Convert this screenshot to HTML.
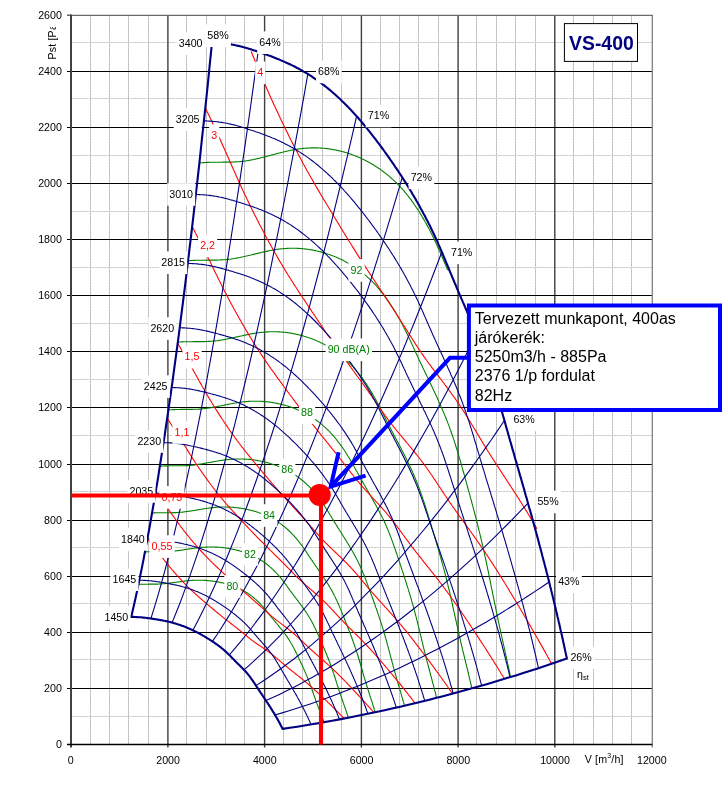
<!DOCTYPE html>
<html><head><meta charset="utf-8"><title>VS-400</title>
<style>html,body{margin:0;padding:0;background:#fff;overflow:hidden}svg{display:block;will-change:transform}svg text{font-family:"Liberation Sans",sans-serif}</style></head>
<body><svg width="727" height="795" viewBox="0 0 727 795">
<rect width="727" height="795" fill="#fff"/>
<path d="M90.5 15.2V744.5M109.5 15.2V744.5M128.5 15.2V744.5M148.5 15.2V744.5M186.5 15.2V744.5M206.5 15.2V744.5M225.5 15.2V744.5M244.5 15.2V744.5M283.5 15.2V744.5M302.5 15.2V744.5M322.5 15.2V744.5M341.5 15.2V744.5M380.5 15.2V744.5M399.5 15.2V744.5M418.5 15.2V744.5M438.5 15.2V744.5M476.5 15.2V744.5M496.5 15.2V744.5M515.5 15.2V744.5M535.5 15.2V744.5M573.5 15.2V744.5M593.5 15.2V744.5M612.5 15.2V744.5M631.5 15.2V744.5" stroke="#d6d6d6" stroke-width="1" fill="none"/>
<path d="M90.5 15.2V744.5M109.5 15.2V744.5M128.5 15.2V744.5M148.5 15.2V744.5M186.5 15.2V744.5M206.5 15.2V744.5M225.5 15.2V744.5M244.5 15.2V744.5M283.5 15.2V744.5M302.5 15.2V744.5M322.5 15.2V744.5M341.5 15.2V744.5M380.5 15.2V744.5M399.5 15.2V744.5M418.5 15.2V744.5M438.5 15.2V744.5M476.5 15.2V744.5M496.5 15.2V744.5M515.5 15.2V744.5M535.5 15.2V744.5M573.5 15.2V744.5M593.5 15.2V744.5M612.5 15.2V744.5M631.5 15.2V744.5" stroke="#bcbcbc" stroke-width="1" stroke-dasharray="2 1" fill="none"/>
<path d="M71 716.5H652M71 659.5H652M71 603.5H652M71 547.5H652M71 491.5H652M71 435.5H652M71 379.5H652M71 323.5H652M71 267.5H652M71 211.5H652M71 155.5H652M71 98.5H652M71 42.5H652" stroke="#e2e2e2" stroke-width="1" fill="none"/>
<path d="M71 716.5H652M71 659.5H652M71 603.5H652M71 547.5H652M71 491.5H652M71 435.5H652M71 379.5H652M71 323.5H652M71 267.5H652M71 211.5H652M71 155.5H652M71 98.5H652M71 42.5H652" stroke="#cdcdcd" stroke-width="1" stroke-dasharray="2 1" fill="none"/>
<path d="M167.9 15.2V747.5M264.6 15.2V747.5M361.4 15.2V747.5M458.1 15.2V747.5M554.8 15.2V747.5" stroke="#404040" stroke-width="1.4" fill="none"/>
<path d="M67 688.5H652M67 632.5H652M67 576.5H652M67 520.5H652M67 464.5H652M67 407.5H652M67 351.5H652M67 295.5H652M67 239.5H652M67 183.5H652M67 127.5H652M67 71.5H652" stroke="#000" stroke-width="1.2" fill="none"/>
<path d="M652.3 15.2V747.5" stroke="#7c7c7c" stroke-width="1.25" fill="none"/>
<path d="M71 15.3H652.9" stroke="#6a6a6a" stroke-width="1.3" fill="none"/>
<path d="M67 15.2H71" stroke="#404040" stroke-width="1.2" fill="none"/>
<path d="M71 14.6V747.5" stroke="#404040" stroke-width="2" fill="none"/>
<path d="M67 744.5H652.3" stroke="#000" stroke-width="1.4" fill="none"/>
<text x="61.9" y="748" font-size="10.67" text-anchor="end" fill="#000">0</text>
<text x="61.9" y="691.9" font-size="10.67" text-anchor="end" fill="#000">200</text>
<text x="61.9" y="635.8" font-size="10.67" text-anchor="end" fill="#000">400</text>
<text x="61.9" y="579.7" font-size="10.67" text-anchor="end" fill="#000">600</text>
<text x="61.9" y="523.6" font-size="10.67" text-anchor="end" fill="#000">800</text>
<text x="61.9" y="467.5" font-size="10.67" text-anchor="end" fill="#000">1000</text>
<text x="61.9" y="411.4" font-size="10.67" text-anchor="end" fill="#000">1200</text>
<text x="61.9" y="355.3" font-size="10.67" text-anchor="end" fill="#000">1400</text>
<text x="61.9" y="299.2" font-size="10.67" text-anchor="end" fill="#000">1600</text>
<text x="61.9" y="243.1" font-size="10.67" text-anchor="end" fill="#000">1800</text>
<text x="61.9" y="187" font-size="10.67" text-anchor="end" fill="#000">2000</text>
<text x="61.9" y="130.9" font-size="10.67" text-anchor="end" fill="#000">2200</text>
<text x="61.9" y="74.8" font-size="10.67" text-anchor="end" fill="#000">2400</text>
<text x="61.9" y="18.7" font-size="10.67" text-anchor="end" fill="#000">2600</text>
<text x="70.7" y="763.7" font-size="10.67" text-anchor="middle" fill="#000">0</text>
<text x="168.1" y="763.7" font-size="10.67" text-anchor="middle" fill="#000">2000</text>
<text x="264.8" y="763.7" font-size="10.67" text-anchor="middle" fill="#000">4000</text>
<text x="361.6" y="763.7" font-size="10.67" text-anchor="middle" fill="#000">6000</text>
<text x="458.3" y="763.7" font-size="10.67" text-anchor="middle" fill="#000">8000</text>
<text x="555" y="763.7" font-size="10.67" text-anchor="middle" fill="#000">10000</text>
<text x="651.8" y="763.7" font-size="10.67" text-anchor="middle" fill="#000">12000</text>
<path d="M138.5 584.4 L139.1 584.3 L139.7 584.3 L140.3 584.3 L140.9 584.3 L141.6 584.2 L142.2 584.2 L142.8 584.2 L143.4 584.2 L144 584.2 L144.6 584.2 L145.2 584.2 L145.8 584.2 L146.4 584.2 L147 584.2 L147.6 584.2 L148.2 584.2 L148.8 584.1 L149.4 584.1 L150 584.1 L150.6 584.1 L151.2 584.1 L151.8 584.1 L152.4 584.1 L153 584.1 L153.6 584.1 L154.2 584.1 L154.8 584.1 L155.4 584.1 L156 584.1 L156.6 584.1 L157.2 584.1 L157.8 584.1 L158.4 584 L159 584 L159.6 584 L160.2 584 L160.8 583.9 L161.4 583.9 L162 583.9 L162.6 583.8 L163.3 583.8 L163.9 583.7 L164.5 583.7 L165.1 583.6 L165.7 583.5 L166.4 583.5 L167 583.4 L167.6 583.3 L168.2 583.3 L168.9 583.2 L169.5 583.1 L170.1 583 L170.8 582.9 L171.4 582.9 L172 582.8 L172.7 582.7 L173.3 582.6 L173.9 582.5 L174.6 582.4 L175.2 582.3 L175.8 582.3 L176.5 582.2 L177.1 582.1 L177.8 582 L178.4 581.9 L179 581.8 L179.6 581.7 L180.3 581.6 L180.9 581.6 L181.5 581.5 L182.2 581.4 L182.8 581.3 L183.4 581.2 L184 581.2 L184.6 581.1 L185.3 581 L185.9 580.9 L186.5 580.9 L187.1 580.8 L187.7 580.8 L188.3 580.7 L188.9 580.6 L189.5 580.6 L190.1 580.5 L190.7 580.5 L191.3 580.5 L191.9 580.4 L192.5 580.4 L193.1 580.4 L193.6 580.3 L194.2 580.3 L194.8 580.3 L195.4 580.3 L196 580.2 L196.5 580.2 L197.1 580.2 L197.7 580.2 L198.2 580.2 L198.8 580.2 L199.4 580.2 L199.9 580.2 L200.5 580.2 L201 580.2 L201.6 580.2 L202.1 580.3 L202.7 580.3 L203.2 580.3 L203.8 580.3 L204.3 580.4 L204.9 580.4 L205.4 580.4 L205.9 580.4 L206.5 580.5 L207 580.5 L207.5 580.6 L208.1 580.6 L208.6 580.7 L209.1 580.7 L209.6 580.8 L210.2 580.8 L210.7 580.9 L211.2 580.9 L211.7 581 L212.2 581.1 L212.7 581.1 L213.2 581.2 L213.7 581.3 L214.3 581.3 L214.8 581.4 L215.3 581.5 L215.8 581.6 L216.3 581.7 L216.8 581.7 L217.3 581.8 L217.7 581.9 L218.2 582 L218.7 582.1 L219.2 582.2 L219.7 582.3 L220.2 582.4 L220.7 582.5 L221.2 582.6 L221.6 582.7 L222.1 582.8 L222.6 582.9 L223.1 583 L223.6 583.2 L224 583.3 L224.5 583.4 L225 583.5 L225.4 583.6 L225.9 583.8 L226.4 583.9 L226.8 584 L227.3 584.1 L227.8 584.3 L228.2 584.4 L228.7 584.6 L229.1 584.7 L229.6 584.8 L230 585 L230.5 585.1 L230.9 585.3 L231.4 585.4 L231.8 585.6 L232.3 585.7 L232.7 585.9 L233.2 586.1 L233.6 586.2 L234 586.4 L234.5 586.5 L234.9 586.7 L235.3 586.9 L235.8 587.1 L236.2 587.2 L236.6 587.4 L237 587.6 L237.5 587.8 L237.9 587.9 L238.3 588.1 L238.7 588.3 L239.1 588.5 L239.6 588.7 L240 588.9 L240.4 589.1 L240.8 589.3 L241.2 589.5 L241.6 589.7 L242 589.9 L242.4 590.1 L242.8 590.3 L243.2 590.6 L243.6 590.8 L244 591 L244.4 591.2 L244.8 591.4 L245.2 591.7 L245.5 591.9 L245.9 592.1 L246.3 592.4 L246.7 592.6 L247 592.8 L247.4 593.1 L247.8 593.3 L248.2 593.6 L248.5 593.8 L248.9 594.1 L249.2 594.3 L249.6 594.6 L250 594.8 L250.3 595.1 L250.7 595.3 L251 595.6 L251.4 595.9 L251.7 596.1 L252.1 596.4 L252.4 596.7 L252.7 596.9 L253.1 597.2 L253.4 597.5 L253.7 597.8 L254.1 598 L254.4 598.3 L254.7 598.6 L255.1 598.9 L255.4 599.1 L255.7 599.4 L256 599.7 L256.3 600 L256.6 600.3 L257 600.6 L257.3 600.9 L257.6 601.2 L257.9 601.5 L258.2 601.8 L258.5 602 L258.8 602.3 L259.1 602.6 L259.4 602.9 L259.7 603.2 L260 603.5 L260.3 603.8 L260.5 604.1 L260.8 604.4 L261.1 604.8 L261.4 605.1 L261.7 605.4 L262 605.7 L262.2 606 L262.5 606.3 L262.8 606.6 L263.1 606.9 L263.3 607.2 L263.6 607.5 L263.9 607.8 L264.1 608.2 L264.4 608.5 L264.7 608.8 L264.9 609.1 L265.2 609.4 L265.4 609.7 L265.7 610 L266 610.4 L266.2 610.7 L266.5 611 L266.7 611.3 L267 611.6 L267.2 611.9 L267.5 612.2 L267.7 612.6 L268 612.9 L268.3 613.2 L268.5 613.5 L268.8 613.8 L269 614.1 L269.3 614.5 L269.5 614.8 L269.8 615.1 L270 615.4 L270.3 615.7 L270.5 616.1 L270.8 616.4 L271.1 616.7 L271.3 617 L271.6 617.3 L271.8 617.6 L272.1 618 L272.3 618.3 L272.6 618.6 L272.9 618.9 L273.1 619.2 L273.4 619.5 L273.6 619.8 L273.9 620.2 L274.2 620.5 L274.4 620.8 L274.7 621.1 L275 621.4 L275.2 621.7 L275.5 622.1 L275.7 622.4 L276 622.7 L276.3 623 L276.5 623.3 L276.8 623.6 L277.1 624 L277.3 624.3 L277.6 624.6 L277.8 624.9 L278.1 625.2 L278.4 625.5 L278.6 625.9 L278.9 626.2 L279.1 626.5 L279.4 626.8 L279.7 627.1 L279.9 627.4 L280.2 627.8 L280.4 628.1 L280.7 628.4 L281 628.7 L281.2 629 L281.5 629.3 L281.7 629.7 L282 630 L282.2 630.3 L282.5 630.6 L282.7 630.9 L283 631.3 L283.2 631.6 L283.5 631.9 L283.7 632.2 L284 632.5 L284.2 632.9 L284.5 633.2 L284.7 633.5 L284.9 633.8 L285.2 634.2 L285.4 634.5 L285.7 634.8 L285.9 635.1 L286.1 635.4 L286.4 635.8 L286.6 636.1 L286.8 636.4 L287 636.7 L287.3 637.1 L287.5 637.4 L287.7 637.7 L287.9 638 L288.2 638.4 L288.4 638.7 L288.6 639 L288.8 639.4 L289 639.7 L289.2 640 L289.4 640.3 L289.6 640.7 L289.8 641 L290 641.3 L290.2 641.7 L290.4 642 L290.6 642.3 L290.8 642.7 L291 643 L291.2 643.3 L291.4 643.7 L291.6 644 L291.8 644.3 L292 644.7 L292.2 645 L292.3 645.3 L292.5 645.7 L292.7 646 L292.9 646.3 L293.1 646.7 L293.3 647 L293.4 647.4 L293.6 647.7 L293.8 648 L294 648.4 L294.1 648.7 L294.3 649 L294.5 649.4 L294.7 649.7 L294.8 650.1 L295 650.4 L295.2 650.7 L295.3 651.1 L295.5 651.4 L295.7 651.8 L295.8 652.1 L296 652.4 L296.2 652.8 L296.3 653.1 L296.5 653.5 L296.7 653.8 L296.8 654.1 L297 654.5 L297.2 654.8 L297.3 655.2 L297.5 655.5 L297.7 655.8 L297.8 656.2 L298 656.5 L298.2 656.9 L298.3 657.2 L298.5 657.6 L298.6 657.9 L298.8 658.2 L299 658.6 L299.1 658.9 L299.3 659.3 L299.5 659.6 L299.6 660 L299.8 660.3 L300 660.6 L300.1 661 L300.3 661.3 L300.4 661.7 L300.6 662 L300.8 662.4 L300.9 662.7 L301.1 663 L301.2 663.4 L301.4 663.7 L301.6 664.1 L301.7 664.4 L301.9 664.8 L302.1 665.1 L302.2 665.4 L302.4 665.8 L302.5 666.1 L302.7 666.5 L302.8 666.8 L303 667.2 L303.2 667.5 L303.3 667.9 L303.5 668.2 L303.6 668.5 L303.8 668.9 L303.9 669.2 L304.1 669.6 L304.3 669.9 L304.4 670.3 L304.6 670.6 L304.7 671 L304.9 671.3 L305 671.7 L305.2 672 L305.3 672.4 L305.5 672.7 L305.6 673 L305.8 673.4 L305.9 673.7 L306.1 674.1 L306.2 674.4 L306.4 674.8 L306.5 675.1 L306.6 675.5 L306.8 675.8 L306.9 676.2 L307.1 676.5 L307.2 676.9 L307.4 677.2 L307.5 677.6 L307.6 677.9 L307.8 678.3 L307.9 678.6 L308.1 678.9 L308.2 679.3 L308.3 679.6 L308.5 680 L308.6 680.3 L308.7 680.7 L308.9 681 L309 681.4 L309.2 681.7 L309.3 682.1 L309.4 682.4 L309.5 682.8 L309.7 683.1 L309.8 683.5 L309.9 683.8 L310.1 684.2 L310.2 684.5 L310.3 684.9 L310.4 685.2 L310.6 685.6 L310.7 685.9 L310.8 686.3 L310.9 686.6 L311.1 687 L311.2 687.3 L311.3 687.6 L311.4 688 L311.6 688.3 L311.7 688.7 L311.8 689 L311.9 689.4 L312.1 689.7 L312.2 690.1 L312.3 690.4 L312.4 690.8 L312.5 691.1 L312.7 691.4 L312.8 691.8 L312.9 692.1 L313 692.5 L313.1 692.8 L313.3 693.2 L313.4 693.5 L313.5 693.8 L313.6 694.2 L313.7 694.5 L313.9 694.9 L314 695.2 L314.1 695.6 L314.2 695.9 L314.3 696.2 L314.4 696.6 L314.6 696.9 L314.7 697.3 L314.8 697.6 L314.9 697.9 L315 698.3 L315.2 698.6 L315.3 698.9 L315.4 699.3 L315.5 699.6 L315.6 700 L315.8 700.3 L315.9 700.6 L316 701 L316.1 701.3 L316.2 701.6 L316.4 702 L316.5 702.3 L316.6 702.6 L316.7 703 L316.9 703.3 L317 703.6 L317.1 704 L317.2 704.3 L317.4 704.6 L317.5 704.9 L317.6 705.3 L317.7 705.6 L317.8 705.9 L318 706.3 L318.1 706.6 L318.2 706.9 L318.3 707.2 L318.5 707.6 L318.6 707.9 L318.7 708.2 L318.9 708.6 L319 708.9 L319.1 709.2 L319.2 709.5 L319.4 709.9 L319.5 710.2 L319.6 710.5 L319.7 710.8 L319.9 711.2 L320 711.5 L320.1 711.8 L320.2 712.1 L320.4 712.5 L320.5 712.8 L320.6 713.1 L320.7 713.5 L320.9 713.8 L321 714.1 L321.1 714.4 L321.2 714.7 L321.4 715.1 L321.5 715.4 L321.6 715.7 L321.7 716 L321.9 716.4 L322 716.7 L322.1 717 L322.2 717.3 L322.3 717.7 L322.5 718 L322.6 718.3 L322.7 718.6 L322.8 719 L323 719.3 L323.1 719.6 L323.2 719.9 L323.3 720.3 L323.4 720.6 L323.6 720.9 L323.7 721.2 L323.8 721.5 L323.9 721.9 L324 722.2M145 552 L145.6 551.9 L146.3 551.9 L147 551.9 L147.7 551.8 L148.4 551.8 L149 551.8 L149.7 551.8 L150.4 551.8 L151 551.8 L151.7 551.7 L152.4 551.7 L153 551.7 L153.7 551.7 L154.4 551.7 L155 551.7 L155.7 551.7 L156.3 551.7 L157 551.7 L157.6 551.7 L158.3 551.7 L159 551.7 L159.6 551.7 L160.3 551.7 L160.9 551.7 L161.6 551.7 L162.2 551.7 L162.9 551.7 L163.5 551.7 L164.2 551.7 L164.8 551.6 L165.5 551.6 L166.1 551.6 L166.8 551.6 L167.5 551.6 L168.1 551.5 L168.8 551.5 L169.4 551.5 L170.1 551.4 L170.8 551.4 L171.5 551.3 L172.1 551.3 L172.8 551.2 L173.5 551.1 L174.2 551 L174.9 551 L175.5 550.9 L176.2 550.8 L176.9 550.7 L177.6 550.6 L178.3 550.6 L179 550.5 L179.7 550.4 L180.4 550.3 L181.1 550.2 L181.8 550.1 L182.5 550 L183.2 549.9 L183.9 549.8 L184.6 549.6 L185.2 549.5 L185.9 549.4 L186.6 549.3 L187.3 549.2 L188 549.1 L188.7 549 L189.4 548.9 L190.1 548.8 L190.8 548.7 L191.5 548.6 L192.2 548.5 L192.9 548.4 L193.5 548.3 L194.2 548.2 L194.9 548.1 L195.6 548 L196.3 547.9 L196.9 547.9 L197.6 547.8 L198.3 547.7 L198.9 547.6 L199.6 547.6 L200.3 547.5 L200.9 547.4 L201.6 547.4 L202.2 547.3 L202.9 547.3 L203.5 547.2 L204.2 547.2 L204.8 547.2 L205.5 547.1 L206.1 547.1 L206.7 547.1 L207.4 547 L208 547 L208.6 547 L209.2 547 L209.9 547 L210.5 547 L211.1 547 L211.7 547 L212.3 547 L212.9 547 L213.6 547 L214.2 547 L214.8 547 L215.4 547.1 L216 547.1 L216.6 547.1 L217.2 547.1 L217.7 547.2 L218.3 547.2 L218.9 547.3 L219.5 547.3 L220.1 547.3 L220.7 547.4 L221.3 547.5 L221.8 547.5 L222.4 547.6 L223 547.6 L223.6 547.7 L224.1 547.8 L224.7 547.8 L225.3 547.9 L225.8 548 L226.4 548.1 L226.9 548.2 L227.5 548.2 L228.1 548.3 L228.6 548.4 L229.2 548.5 L229.7 548.6 L230.3 548.7 L230.8 548.8 L231.3 548.9 L231.9 549 L232.4 549.1 L233 549.2 L233.5 549.4 L234 549.5 L234.6 549.6 L235.1 549.7 L235.6 549.8 L236.2 550 L236.7 550.1 L237.2 550.2 L237.7 550.4 L238.3 550.5 L238.8 550.6 L239.3 550.8 L239.8 550.9 L240.3 551.1 L240.8 551.2 L241.3 551.4 L241.8 551.5 L242.4 551.7 L242.9 551.9 L243.4 552 L243.9 552.2 L244.4 552.4 L244.9 552.5 L245.4 552.7 L245.8 552.9 L246.3 553.1 L246.8 553.2 L247.3 553.4 L247.8 553.6 L248.3 553.8 L248.8 554 L249.3 554.2 L249.7 554.4 L250.2 554.6 L250.7 554.8 L251.2 555 L251.6 555.2 L252.1 555.4 L252.6 555.6 L253 555.8 L253.5 556.1 L254 556.3 L254.4 556.5 L254.9 556.7 L255.4 557 L255.8 557.2 L256.3 557.4 L256.7 557.7 L257.2 557.9 L257.6 558.1 L258 558.4 L258.5 558.6 L258.9 558.9 L259.4 559.1 L259.8 559.4 L260.2 559.7 L260.7 559.9 L261.1 560.2 L261.5 560.5 L261.9 560.7 L262.4 561 L262.8 561.3 L263.2 561.6 L263.6 561.9 L264 562.2 L264.4 562.4 L264.8 562.7 L265.2 563 L265.6 563.3 L266 563.6 L266.4 563.9 L266.8 564.2 L267.2 564.5 L267.6 564.8 L268 565.2 L268.4 565.5 L268.7 565.8 L269.1 566.1 L269.5 566.4 L269.9 566.8 L270.2 567.1 L270.6 567.4 L271 567.7 L271.4 568.1 L271.7 568.4 L272.1 568.7 L272.4 569.1 L272.8 569.4 L273.1 569.7 L273.5 570.1 L273.8 570.4 L274.2 570.8 L274.5 571.1 L274.9 571.5 L275.2 571.8 L275.6 572.2 L275.9 572.5 L276.2 572.9 L276.6 573.2 L276.9 573.6 L277.2 573.9 L277.5 574.3 L277.9 574.7 L278.2 575 L278.5 575.4 L278.8 575.7 L279.1 576.1 L279.4 576.5 L279.8 576.8 L280.1 577.2 L280.4 577.6 L280.7 578 L281 578.3 L281.3 578.7 L281.6 579.1 L281.9 579.4 L282.2 579.8 L282.5 580.2 L282.7 580.6 L283 580.9 L283.3 581.3 L283.6 581.7 L283.9 582.1 L284.2 582.5 L284.5 582.8 L284.7 583.2 L285 583.6 L285.3 584 L285.6 584.3 L285.9 584.7 L286.2 585.1 L286.4 585.5 L286.7 585.9 L287 586.2 L287.3 586.6 L287.5 587 L287.8 587.4 L288.1 587.8 L288.4 588.2 L288.7 588.5 L288.9 588.9 L289.2 589.3 L289.5 589.7 L289.8 590.1 L290.1 590.4 L290.3 590.8 L290.6 591.2 L290.9 591.6 L291.2 592 L291.5 592.3 L291.7 592.7 L292 593.1 L292.3 593.5 L292.6 593.9 L292.9 594.2 L293.2 594.6 L293.5 595 L293.7 595.4 L294 595.8 L294.3 596.1 L294.6 596.5 L294.9 596.9 L295.2 597.3 L295.5 597.7 L295.8 598 L296.1 598.4 L296.3 598.8 L296.6 599.2 L296.9 599.6 L297.2 599.9 L297.5 600.3 L297.8 600.7 L298.1 601.1 L298.4 601.5 L298.6 601.8 L298.9 602.2 L299.2 602.6 L299.5 603 L299.8 603.4 L300.1 603.8 L300.3 604.1 L300.6 604.5 L300.9 604.9 L301.2 605.3 L301.5 605.7 L301.8 606 L302 606.4 L302.3 606.8 L302.6 607.2 L302.9 607.6 L303.1 608 L303.4 608.3 L303.7 608.7 L304 609.1 L304.2 609.5 L304.5 609.9 L304.8 610.3 L305 610.7 L305.3 611 L305.6 611.4 L305.8 611.8 L306.1 612.2 L306.3 612.6 L306.6 613 L306.9 613.4 L307.1 613.8 L307.4 614.2 L307.6 614.5 L307.9 614.9 L308.1 615.3 L308.4 615.7 L308.6 616.1 L308.8 616.5 L309.1 616.9 L309.3 617.3 L309.6 617.7 L309.8 618.1 L310 618.5 L310.3 618.9 L310.5 619.3 L310.7 619.7 L310.9 620.1 L311.1 620.5 L311.4 620.9 L311.6 621.3 L311.8 621.7 L312 622.1 L312.2 622.5 L312.4 622.9 L312.7 623.3 L312.9 623.7 L313.1 624.1 L313.3 624.5 L313.5 624.9 L313.7 625.3 L313.9 625.7 L314.1 626.1 L314.3 626.5 L314.5 626.9 L314.7 627.3 L314.9 627.7 L315.1 628.1 L315.3 628.5 L315.4 628.9 L315.6 629.3 L315.8 629.7 L316 630.1 L316.2 630.5 L316.4 630.9 L316.6 631.4 L316.8 631.8 L317 632.2 L317.1 632.6 L317.3 633 L317.5 633.4 L317.7 633.8 L317.9 634.2 L318.1 634.6 L318.2 635 L318.4 635.4 L318.6 635.9 L318.8 636.3 L319 636.7 L319.1 637.1 L319.3 637.5 L319.5 637.9 L319.7 638.3 L319.9 638.7 L320 639.1 L320.2 639.5 L320.4 640 L320.6 640.4 L320.8 640.8 L320.9 641.2 L321.1 641.6 L321.3 642 L321.5 642.4 L321.7 642.8 L321.8 643.3 L322 643.7 L322.2 644.1 L322.4 644.5 L322.6 644.9 L322.7 645.3 L322.9 645.7 L323.1 646.1 L323.3 646.6 L323.4 647 L323.6 647.4 L323.8 647.8 L324 648.2 L324.1 648.6 L324.3 649 L324.5 649.4 L324.7 649.9 L324.8 650.3 L325 650.7 L325.2 651.1 L325.4 651.5 L325.5 651.9 L325.7 652.3 L325.9 652.8 L326.1 653.2 L326.2 653.6 L326.4 654 L326.6 654.4 L326.7 654.8 L326.9 655.3 L327.1 655.7 L327.2 656.1 L327.4 656.5 L327.6 656.9 L327.7 657.3 L327.9 657.7 L328.1 658.2 L328.2 658.6 L328.4 659 L328.6 659.4 L328.7 659.8 L328.9 660.2 L329 660.7 L329.2 661.1 L329.4 661.5 L329.5 661.9 L329.7 662.3 L329.8 662.8 L330 663.2 L330.2 663.6 L330.3 664 L330.5 664.4 L330.6 664.8 L330.8 665.3 L330.9 665.7 L331.1 666.1 L331.2 666.5 L331.4 666.9 L331.5 667.4 L331.7 667.8 L331.8 668.2 L332 668.6 L332.1 669 L332.3 669.4 L332.4 669.9 L332.5 670.3 L332.7 670.7 L332.8 671.1 L333 671.5 L333.1 672 L333.2 672.4 L333.4 672.8 L333.5 673.2 L333.7 673.6 L333.8 674.1 L333.9 674.5 L334.1 674.9 L334.2 675.3 L334.4 675.7 L334.5 676.1 L334.6 676.6 L334.8 677 L334.9 677.4 L335 677.8 L335.2 678.2 L335.3 678.6 L335.4 679 L335.6 679.5 L335.7 679.9 L335.8 680.3 L336 680.7 L336.1 681.1 L336.2 681.5 L336.4 681.9 L336.5 682.4 L336.6 682.8 L336.7 683.2 L336.9 683.6 L337 684 L337.1 684.4 L337.3 684.8 L337.4 685.2 L337.5 685.6 L337.7 686.1 L337.8 686.5 L337.9 686.9 L338 687.3 L338.2 687.7 L338.3 688.1 L338.4 688.5 L338.6 688.9 L338.7 689.3 L338.8 689.7 L339 690.1 L339.1 690.5 L339.2 690.9 L339.4 691.3 L339.5 691.7 L339.6 692.1 L339.8 692.5 L339.9 692.9 L340 693.3 L340.2 693.7 L340.3 694.1 L340.4 694.5 L340.6 694.9 L340.7 695.3 L340.8 695.7 L341 696.1 L341.1 696.5 L341.2 696.9 L341.4 697.3 L341.5 697.7 L341.6 698.1 L341.8 698.5 L341.9 698.9 L342.1 699.3 L342.2 699.7 L342.3 700.1 L342.5 700.5 L342.6 700.9 L342.7 701.3 L342.9 701.7 L343 702.1 L343.2 702.5 L343.3 702.9 L343.4 703.2 L343.6 703.6 L343.7 704 L343.8 704.4 L344 704.8 L344.1 705.2 L344.3 705.6 L344.4 706 L344.5 706.4 L344.7 706.8 L344.8 707.2 L344.9 707.6 L345.1 707.9 L345.2 708.3 L345.4 708.7 L345.5 709.1 L345.6 709.5 L345.8 709.9 L345.9 710.3 L346 710.7 L346.2 711.1 L346.3 711.4 L346.4 711.8 L346.6 712.2 L346.7 712.6 L346.8 713 L347 713.4 L347.1 713.8 L347.2 714.2 L347.4 714.6 L347.5 714.9 L347.6 715.3 L347.8 715.7 L347.9 716.1 L348 716.5 L348.2 716.9 L348.3 717.3 L348.4 717.7M152.1 513 L152.8 513 L153.6 512.9 L154.3 512.9 L155.1 512.9 L155.8 512.8 L156.5 512.8 L157.3 512.8 L158 512.8 L158.7 512.8 L159.5 512.7 L160.2 512.7 L160.9 512.7 L161.7 512.7 L162.4 512.7 L163.1 512.7 L163.8 512.7 L164.5 512.7 L165.3 512.7 L166 512.7 L166.7 512.7 L167.4 512.7 L168.1 512.7 L168.9 512.7 L169.6 512.7 L170.3 512.7 L171 512.7 L171.7 512.7 L172.4 512.7 L173.1 512.6 L173.9 512.6 L174.6 512.6 L175.3 512.6 L176 512.6 L176.7 512.5 L177.5 512.5 L178.2 512.4 L178.9 512.4 L179.7 512.3 L180.4 512.3 L181.1 512.2 L181.9 512.2 L182.6 512.1 L183.4 512 L184.1 511.9 L184.9 511.8 L185.6 511.7 L186.4 511.6 L187.1 511.5 L187.9 511.4 L188.6 511.3 L189.4 511.2 L190.1 511.1 L190.9 511 L191.7 510.8 L192.4 510.7 L193.2 510.6 L194 510.5 L194.7 510.4 L195.5 510.2 L196.3 510.1 L197 510 L197.8 509.8 L198.5 509.7 L199.3 509.6 L200.1 509.5 L200.8 509.3 L201.6 509.2 L202.3 509.1 L203.1 509 L203.8 508.8 L204.6 508.7 L205.4 508.6 L206.1 508.5 L206.8 508.4 L207.6 508.3 L208.3 508.2 L209.1 508.1 L209.8 508 L210.5 507.9 L211.3 507.8 L212 507.7 L212.7 507.6 L213.4 507.6 L214.2 507.5 L214.9 507.4 L215.6 507.4 L216.3 507.3 L217 507.3 L217.7 507.2 L218.4 507.2 L219.1 507.1 L219.8 507.1 L220.5 507.1 L221.2 507.1 L221.9 507 L222.6 507 L223.2 507 L223.9 507 L224.6 507 L225.3 507 L225.9 507 L226.6 507 L227.3 507 L228 507.1 L228.6 507.1 L229.3 507.1 L229.9 507.1 L230.6 507.2 L231.2 507.2 L231.9 507.3 L232.5 507.3 L233.2 507.4 L233.8 507.4 L234.5 507.5 L235.1 507.5 L235.7 507.6 L236.4 507.7 L237 507.7 L237.6 507.8 L238.3 507.9 L238.9 508 L239.5 508.1 L240.1 508.1 L240.7 508.2 L241.4 508.3 L242 508.4 L242.6 508.5 L243.2 508.6 L243.8 508.8 L244.4 508.9 L245 509 L245.6 509.1 L246.2 509.2 L246.8 509.3 L247.4 509.5 L248 509.6 L248.6 509.7 L249.2 509.9 L249.7 510 L250.3 510.2 L250.9 510.3 L251.5 510.5 L252.1 510.6 L252.7 510.8 L253.2 510.9 L253.8 511.1 L254.4 511.3 L254.9 511.4 L255.5 511.6 L256.1 511.8 L256.6 511.9 L257.2 512.1 L257.8 512.3 L258.3 512.5 L258.9 512.7 L259.4 512.9 L260 513.1 L260.5 513.3 L261.1 513.5 L261.6 513.7 L262.2 513.9 L262.7 514.1 L263.2 514.3 L263.8 514.5 L264.3 514.8 L264.8 515 L265.4 515.2 L265.9 515.4 L266.4 515.7 L267 515.9 L267.5 516.2 L268 516.4 L268.5 516.6 L269 516.9 L269.6 517.1 L270.1 517.4 L270.6 517.7 L271.1 517.9 L271.6 518.2 L272.1 518.5 L272.6 518.7 L273.1 519 L273.6 519.3 L274.1 519.6 L274.6 519.9 L275.1 520.1 L275.6 520.4 L276.1 520.7 L276.6 521 L277 521.3 L277.5 521.6 L278 522 L278.5 522.3 L278.9 522.6 L279.4 522.9 L279.9 523.2 L280.3 523.6 L280.8 523.9 L281.3 524.2 L281.7 524.6 L282.2 524.9 L282.6 525.3 L283.1 525.6 L283.5 526 L283.9 526.3 L284.4 526.7 L284.8 527 L285.3 527.4 L285.7 527.8 L286.1 528.1 L286.5 528.5 L287 528.9 L287.4 529.3 L287.8 529.6 L288.2 530 L288.6 530.4 L289 530.8 L289.5 531.2 L289.9 531.6 L290.3 532 L290.7 532.4 L291.1 532.8 L291.5 533.2 L291.8 533.6 L292.2 534 L292.6 534.4 L293 534.8 L293.4 535.2 L293.8 535.6 L294.2 536 L294.5 536.5 L294.9 536.9 L295.3 537.3 L295.6 537.7 L296 538.1 L296.4 538.6 L296.7 539 L297.1 539.4 L297.4 539.9 L297.8 540.3 L298.2 540.7 L298.5 541.2 L298.8 541.6 L299.2 542 L299.5 542.5 L299.9 542.9 L300.2 543.4 L300.5 543.8 L300.9 544.3 L301.2 544.7 L301.5 545.1 L301.9 545.6 L302.2 546 L302.5 546.5 L302.8 546.9 L303.2 547.4 L303.5 547.9 L303.8 548.3 L304.1 548.8 L304.4 549.2 L304.7 549.7 L305 550.1 L305.3 550.6 L305.7 551 L306 551.5 L306.3 551.9 L306.6 552.4 L306.9 552.9 L307.2 553.3 L307.5 553.8 L307.8 554.2 L308.1 554.7 L308.4 555.1 L308.7 555.6 L309 556.1 L309.3 556.5 L309.6 557 L309.9 557.4 L310.2 557.9 L310.6 558.4 L310.9 558.8 L311.2 559.3 L311.5 559.7 L311.8 560.2 L312.1 560.6 L312.4 561.1 L312.7 561.6 L313 562 L313.3 562.5 L313.6 562.9 L314 563.4 L314.3 563.8 L314.6 564.3 L314.9 564.8 L315.2 565.2 L315.5 565.7 L315.8 566.1 L316.2 566.6 L316.5 567 L316.8 567.5 L317.1 568 L317.4 568.4 L317.7 568.9 L318.1 569.3 L318.4 569.8 L318.7 570.2 L319 570.7 L319.3 571.2 L319.6 571.6 L320 572.1 L320.3 572.5 L320.6 573 L320.9 573.4 L321.2 573.9 L321.5 574.4 L321.8 574.8 L322.1 575.3 L322.5 575.7 L322.8 576.2 L323.1 576.7 L323.4 577.1 L323.7 577.6 L324 578 L324.3 578.5 L324.6 579 L324.9 579.4 L325.2 579.9 L325.5 580.3 L325.8 580.8 L326.1 581.3 L326.4 581.7 L326.7 582.2 L327 582.7 L327.3 583.1 L327.6 583.6 L327.9 584 L328.2 584.5 L328.5 585 L328.7 585.4 L329 585.9 L329.3 586.4 L329.6 586.8 L329.9 587.3 L330.1 587.8 L330.4 588.2 L330.7 588.7 L331 589.2 L331.2 589.7 L331.5 590.1 L331.8 590.6 L332 591.1 L332.3 591.5 L332.6 592 L332.8 592.5 L333.1 593 L333.3 593.4 L333.6 593.9 L333.8 594.4 L334.1 594.9 L334.3 595.4 L334.5 595.8 L334.8 596.3 L335 596.8 L335.3 597.3 L335.5 597.8 L335.7 598.2 L335.9 598.7 L336.2 599.2 L336.4 599.7 L336.6 600.2 L336.9 600.7 L337.1 601.1 L337.3 601.6 L337.5 602.1 L337.7 602.6 L337.9 603.1 L338.2 603.6 L338.4 604.1 L338.6 604.5 L338.8 605 L339 605.5 L339.2 606 L339.4 606.5 L339.6 607 L339.8 607.5 L340.1 608 L340.3 608.5 L340.5 608.9 L340.7 609.4 L340.9 609.9 L341.1 610.4 L341.3 610.9 L341.5 611.4 L341.7 611.9 L341.9 612.4 L342.1 612.9 L342.3 613.4 L342.5 613.9 L342.7 614.4 L342.9 614.9 L343.1 615.3 L343.3 615.8 L343.5 616.3 L343.7 616.8 L343.9 617.3 L344.1 617.8 L344.3 618.3 L344.5 618.8 L344.6 619.3 L344.8 619.8 L345 620.3 L345.2 620.8 L345.4 621.3 L345.6 621.8 L345.8 622.3 L346 622.8 L346.2 623.3 L346.4 623.8 L346.6 624.2 L346.8 624.7 L347 625.2 L347.2 625.7 L347.4 626.2 L347.6 626.7 L347.8 627.2 L348 627.7 L348.2 628.2 L348.4 628.7 L348.6 629.2 L348.7 629.7 L348.9 630.2 L349.1 630.7 L349.3 631.2 L349.5 631.7 L349.7 632.2 L349.9 632.7 L350.1 633.2 L350.3 633.7 L350.5 634.2 L350.6 634.7 L350.8 635.2 L351 635.7 L351.2 636.2 L351.4 636.7 L351.6 637.2 L351.8 637.7 L351.9 638.2 L352.1 638.7 L352.3 639.2 L352.5 639.7 L352.7 640.2 L352.9 640.7 L353 641.2 L353.2 641.7 L353.4 642.2 L353.6 642.7 L353.7 643.2 L353.9 643.7 L354.1 644.2 L354.3 644.7 L354.4 645.2 L354.6 645.7 L354.8 646.2 L355 646.7 L355.1 647.2 L355.3 647.7 L355.5 648.2 L355.6 648.7 L355.8 649.2 L356 649.7 L356.1 650.2 L356.3 650.7 L356.5 651.2 L356.6 651.7 L356.8 652.2 L357 652.7 L357.1 653.2 L357.3 653.8 L357.4 654.3 L357.6 654.8 L357.8 655.3 L357.9 655.8 L358.1 656.3 L358.2 656.8 L358.4 657.3 L358.5 657.8 L358.7 658.3 L358.8 658.8 L359 659.3 L359.1 659.8 L359.3 660.3 L359.4 660.8 L359.6 661.3 L359.7 661.8 L359.9 662.3 L360 662.8 L360.2 663.3 L360.3 663.8 L360.5 664.3 L360.6 664.8 L360.8 665.3 L360.9 665.8 L361.1 666.3 L361.2 666.8 L361.4 667.3 L361.5 667.8 L361.6 668.3 L361.8 668.8 L361.9 669.3 L362.1 669.8 L362.2 670.3 L362.4 670.8 L362.5 671.3 L362.6 671.8 L362.8 672.3 L362.9 672.7 L363.1 673.2 L363.2 673.7 L363.4 674.2 L363.5 674.7 L363.6 675.2 L363.8 675.7 L363.9 676.2 L364.1 676.7 L364.2 677.2 L364.4 677.7 L364.5 678.1 L364.7 678.6 L364.8 679.1 L364.9 679.6 L365.1 680.1 L365.2 680.6 L365.4 681.1 L365.5 681.5 L365.7 682 L365.8 682.5 L366 683 L366.1 683.5 L366.3 683.9 L366.4 684.4 L366.5 684.9 L366.7 685.4 L366.8 685.9 L367 686.3 L367.1 686.8 L367.3 687.3 L367.4 687.8 L367.6 688.3 L367.7 688.7 L367.9 689.2 L368 689.7 L368.2 690.2 L368.3 690.6 L368.5 691.1 L368.6 691.6 L368.8 692.1 L368.9 692.5 L369.1 693 L369.2 693.5 L369.4 693.9 L369.5 694.4 L369.7 694.9 L369.8 695.4 L370 695.8 L370.1 696.3 L370.3 696.8 L370.5 697.2 L370.6 697.7 L370.8 698.2 L370.9 698.7 L371.1 699.1 L371.2 699.6 L371.4 700.1 L371.5 700.5 L371.7 701 L371.8 701.5 L372 701.9 L372.1 702.4 L372.3 702.9 L372.4 703.3 L372.6 703.8 L372.7 704.3 L372.8 704.8 L373 705.2 L373.1 705.7 L373.3 706.2 L373.4 706.6 L373.6 707.1 L373.7 707.6 L373.9 708 L374 708.5 L374.2 709 L374.3 709.4 L374.5 709.9 L374.6 710.4 L374.7 710.8 L374.9 711.3 L375 711.8 L375.2 712.2M159.9 466.2 L160.7 466.1 L161.5 466.1 L162.3 466 L163.1 466 L164 466 L164.8 465.9 L165.6 465.9 L166.4 465.9 L167.2 465.9 L168 465.9 L168.8 465.8 L169.6 465.8 L170.4 465.8 L171.2 465.8 L172 465.8 L172.8 465.8 L173.6 465.8 L174.3 465.8 L175.1 465.8 L175.9 465.8 L176.7 465.8 L177.5 465.8 L178.3 465.8 L179.1 465.8 L179.8 465.8 L180.6 465.8 L181.4 465.8 L182.2 465.7 L183 465.7 L183.8 465.7 L184.6 465.7 L185.3 465.7 L186.1 465.6 L186.9 465.6 L187.7 465.6 L188.5 465.5 L189.3 465.4 L190.1 465.4 L190.9 465.3 L191.7 465.2 L192.6 465.1 L193.4 465.1 L194.2 465 L195 464.9 L195.8 464.7 L196.6 464.6 L197.5 464.5 L198.3 464.4 L199.1 464.3 L200 464.1 L200.8 464 L201.6 463.9 L202.5 463.7 L203.3 463.6 L204.1 463.4 L205 463.3 L205.8 463.1 L206.6 463 L207.5 462.8 L208.3 462.7 L209.2 462.5 L210 462.4 L210.8 462.2 L211.7 462.1 L212.5 461.9 L213.3 461.8 L214.2 461.6 L215 461.5 L215.8 461.3 L216.6 461.2 L217.5 461 L218.3 460.9 L219.1 460.7 L219.9 460.6 L220.7 460.5 L221.6 460.4 L222.4 460.2 L223.2 460.1 L224 460 L224.8 459.9 L225.6 459.8 L226.4 459.7 L227.2 459.6 L227.9 459.5 L228.7 459.5 L229.5 459.4 L230.3 459.3 L231.1 459.3 L231.8 459.2 L232.6 459.2 L233.4 459.1 L234.1 459.1 L234.9 459.1 L235.7 459 L236.4 459 L237.2 459 L237.9 459 L238.7 459 L239.4 459 L240.1 459 L240.9 459 L241.6 459 L242.3 459 L243.1 459 L243.8 459.1 L244.5 459.1 L245.2 459.1 L246 459.2 L246.7 459.2 L247.4 459.3 L248.1 459.3 L248.8 459.4 L249.5 459.4 L250.2 459.5 L250.9 459.6 L251.6 459.7 L252.3 459.7 L253 459.8 L253.7 459.9 L254.4 460 L255.1 460.1 L255.7 460.2 L256.4 460.3 L257.1 460.4 L257.8 460.6 L258.4 460.7 L259.1 460.8 L259.8 460.9 L260.4 461.1 L261.1 461.2 L261.8 461.3 L262.4 461.5 L263.1 461.6 L263.7 461.8 L264.4 461.9 L265 462.1 L265.7 462.2 L266.3 462.4 L267 462.6 L267.6 462.8 L268.3 462.9 L268.9 463.1 L269.5 463.3 L270.2 463.5 L270.8 463.7 L271.4 463.9 L272 464.1 L272.7 464.3 L273.3 464.5 L273.9 464.7 L274.5 464.9 L275.1 465.1 L275.8 465.3 L276.4 465.6 L277 465.8 L277.6 466 L278.2 466.3 L278.8 466.5 L279.4 466.7 L280 467 L280.6 467.2 L281.2 467.5 L281.8 467.8 L282.4 468 L282.9 468.3 L283.5 468.6 L284.1 468.8 L284.7 469.1 L285.3 469.4 L285.8 469.7 L286.4 470 L287 470.3 L287.6 470.6 L288.1 470.9 L288.7 471.2 L289.3 471.5 L289.8 471.8 L290.4 472.1 L290.9 472.4 L291.5 472.7 L292 473.1 L292.6 473.4 L293.1 473.7 L293.7 474.1 L294.2 474.4 L294.8 474.8 L295.3 475.1 L295.8 475.5 L296.4 475.8 L296.9 476.2 L297.4 476.6 L297.9 476.9 L298.5 477.3 L299 477.7 L299.5 478.1 L300 478.5 L300.5 478.9 L301 479.3 L301.5 479.7 L302 480.1 L302.5 480.5 L303 480.9 L303.5 481.3 L304 481.7 L304.5 482.2 L305 482.6 L305.4 483 L305.9 483.5 L306.4 483.9 L306.8 484.4 L307.3 484.8 L307.8 485.3 L308.2 485.7 L308.7 486.2 L309.2 486.6 L309.6 487.1 L310.1 487.6 L310.5 488 L311 488.5 L311.4 489 L311.8 489.4 L312.3 489.9 L312.7 490.4 L313.1 490.9 L313.6 491.4 L314 491.9 L314.4 492.4 L314.8 492.9 L315.3 493.4 L315.7 493.9 L316.1 494.4 L316.5 494.9 L316.9 495.4 L317.3 495.9 L317.7 496.4 L318.1 496.9 L318.5 497.4 L318.9 497.9 L319.3 498.5 L319.7 499 L320 499.5 L320.4 500 L320.8 500.6 L321.2 501.1 L321.6 501.6 L321.9 502.1 L322.3 502.7 L322.7 503.2 L323 503.7 L323.4 504.3 L323.8 504.8 L324.1 505.4 L324.5 505.9 L324.8 506.4 L325.2 507 L325.5 507.5 L325.9 508.1 L326.2 508.6 L326.6 509.2 L326.9 509.7 L327.3 510.2 L327.6 510.8 L327.9 511.3 L328.3 511.9 L328.6 512.4 L329 513 L329.3 513.5 L329.6 514.1 L330 514.6 L330.3 515.2 L330.6 515.7 L331 516.3 L331.3 516.8 L331.6 517.4 L332 517.9 L332.3 518.5 L332.6 519 L333 519.6 L333.3 520.1 L333.6 520.7 L334 521.2 L334.3 521.8 L334.7 522.3 L335 522.9 L335.3 523.4 L335.7 524 L336 524.5 L336.4 525.1 L336.7 525.6 L337 526.2 L337.4 526.7 L337.7 527.3 L338.1 527.8 L338.4 528.4 L338.8 528.9 L339.1 529.5 L339.5 530 L339.8 530.6 L340.1 531.1 L340.5 531.7 L340.8 532.2 L341.2 532.8 L341.5 533.3 L341.9 533.9 L342.2 534.4 L342.6 535 L342.9 535.5 L343.3 536.1 L343.6 536.6 L344 537.2 L344.3 537.7 L344.6 538.3 L345 538.8 L345.3 539.4 L345.7 539.9 L346 540.5 L346.4 541 L346.7 541.6 L347 542.1 L347.4 542.7 L347.7 543.2 L348.1 543.8 L348.4 544.4 L348.7 544.9 L349.1 545.5 L349.4 546 L349.7 546.6 L350.1 547.1 L350.4 547.7 L350.7 548.2 L351 548.8 L351.4 549.3 L351.7 549.9 L352 550.5 L352.3 551 L352.6 551.6 L353 552.1 L353.3 552.7 L353.6 553.3 L353.9 553.8 L354.2 554.4 L354.5 554.9 L354.8 555.5 L355.1 556.1 L355.4 556.6 L355.7 557.2 L356 557.8 L356.3 558.3 L356.6 558.9 L356.9 559.5 L357.2 560 L357.5 560.6 L357.8 561.2 L358 561.7 L358.3 562.3 L358.6 562.9 L358.9 563.5 L359.1 564 L359.4 564.6 L359.7 565.2 L359.9 565.8 L360.2 566.3 L360.5 566.9 L360.7 567.5 L361 568.1 L361.2 568.6 L361.5 569.2 L361.7 569.8 L362 570.4 L362.2 571 L362.5 571.6 L362.7 572.1 L363 572.7 L363.2 573.3 L363.4 573.9 L363.7 574.5 L363.9 575.1 L364.2 575.6 L364.4 576.2 L364.6 576.8 L364.9 577.4 L365.1 578 L365.3 578.6 L365.5 579.2 L365.8 579.8 L366 580.3 L366.2 580.9 L366.4 581.5 L366.7 582.1 L366.9 582.7 L367.1 583.3 L367.3 583.9 L367.5 584.5 L367.8 585.1 L368 585.7 L368.2 586.2 L368.4 586.8 L368.6 587.4 L368.9 588 L369.1 588.6 L369.3 589.2 L369.5 589.8 L369.7 590.4 L369.9 591 L370.2 591.6 L370.4 592.2 L370.6 592.8 L370.8 593.4 L371 594 L371.2 594.6 L371.5 595.2 L371.7 595.7 L371.9 596.3 L372.1 596.9 L372.3 597.5 L372.5 598.1 L372.8 598.7 L373 599.3 L373.2 599.9 L373.4 600.5 L373.6 601.1 L373.8 601.7 L374 602.3 L374.3 602.9 L374.5 603.5 L374.7 604.1 L374.9 604.7 L375.1 605.3 L375.3 605.9 L375.5 606.5 L375.7 607.1 L375.9 607.7 L376.2 608.3 L376.4 608.9 L376.6 609.5 L376.8 610.1 L377 610.7 L377.2 611.3 L377.4 611.9 L377.6 612.5 L377.8 613.1 L378 613.7 L378.2 614.3 L378.4 614.9 L378.6 615.5 L378.8 616.1 L379 616.7 L379.2 617.3 L379.4 617.9 L379.6 618.5 L379.8 619.1 L380 619.7 L380.2 620.3 L380.4 620.9 L380.6 621.5 L380.8 622.1 L381 622.7 L381.2 623.3 L381.4 623.9 L381.6 624.5 L381.8 625.1 L382 625.7 L382.2 626.3 L382.3 626.9 L382.5 627.5 L382.7 628.1 L382.9 628.7 L383.1 629.3 L383.3 629.9 L383.5 630.5 L383.6 631.2 L383.8 631.8 L384 632.4 L384.2 633 L384.4 633.6 L384.5 634.2 L384.7 634.8 L384.9 635.4 L385.1 636 L385.2 636.6 L385.4 637.2 L385.6 637.8 L385.7 638.4 L385.9 639 L386.1 639.6 L386.3 640.2 L386.4 640.8 L386.6 641.4 L386.8 642 L386.9 642.6 L387.1 643.3 L387.2 643.9 L387.4 644.5 L387.6 645.1 L387.7 645.7 L387.9 646.3 L388.1 646.9 L388.2 647.5 L388.4 648.1 L388.5 648.7 L388.7 649.3 L388.9 649.9 L389 650.5 L389.2 651.1 L389.3 651.7 L389.5 652.3 L389.7 652.9 L389.8 653.5 L390 654.1 L390.1 654.7 L390.3 655.3 L390.5 655.8 L390.6 656.4 L390.8 657 L390.9 657.6 L391.1 658.2 L391.2 658.8 L391.4 659.4 L391.6 660 L391.7 660.6 L391.9 661.2 L392 661.8 L392.2 662.4 L392.3 662.9 L392.5 663.5 L392.6 664.1 L392.8 664.7 L393 665.3 L393.1 665.9 L393.3 666.5 L393.4 667 L393.6 667.6 L393.8 668.2 L393.9 668.8 L394.1 669.4 L394.2 670 L394.4 670.5 L394.6 671.1 L394.7 671.7 L394.9 672.3 L395 672.8 L395.2 673.4 L395.4 674 L395.5 674.6 L395.7 675.1 L395.9 675.7 L396 676.3 L396.2 676.9 L396.3 677.4 L396.5 678 L396.7 678.6 L396.8 679.2 L397 679.7 L397.2 680.3 L397.3 680.9 L397.5 681.4 L397.7 682 L397.8 682.6 L398 683.1 L398.2 683.7 L398.3 684.3 L398.5 684.8 L398.7 685.4 L398.8 686 L399 686.5 L399.2 687.1 L399.3 687.7 L399.5 688.2 L399.7 688.8 L399.8 689.4 L400 689.9 L400.1 690.5 L400.3 691.1 L400.5 691.6 L400.6 692.2 L400.8 692.8 L401 693.3 L401.1 693.9 L401.3 694.5 L401.5 695 L401.6 695.6 L401.8 696.1 L401.9 696.7 L402.1 697.3 L402.3 697.8 L402.4 698.4 L402.6 699 L402.8 699.5 L402.9 700.1 L403.1 700.6 L403.2 701.2 L403.4 701.8 L403.5 702.3 L403.7 702.9 L403.9 703.4 L404 704 L404.2 704.6 L404.3 705.1 L404.5 705.7M168.4 409.9 L169.3 409.8 L170.2 409.8 L171.1 409.7 L172 409.7 L172.9 409.6 L173.8 409.6 L174.7 409.6 L175.6 409.5 L176.4 409.5 L177.3 409.5 L178.2 409.5 L179.1 409.5 L179.9 409.5 L180.8 409.4 L181.7 409.4 L182.6 409.4 L183.4 409.4 L184.3 409.4 L185.2 409.4 L186 409.4 L186.9 409.4 L187.7 409.4 L188.6 409.4 L189.5 409.4 L190.3 409.4 L191.2 409.4 L192 409.4 L192.9 409.4 L193.8 409.3 L194.6 409.3 L195.5 409.3 L196.4 409.3 L197.2 409.2 L198.1 409.2 L199 409.1 L199.8 409.1 L200.7 409 L201.6 408.9 L202.5 408.8 L203.4 408.7 L204.3 408.6 L205.2 408.5 L206 408.4 L206.9 408.3 L207.8 408.2 L208.7 408 L209.7 407.9 L210.6 407.7 L211.5 407.6 L212.4 407.4 L213.3 407.3 L214.2 407.1 L215.1 406.9 L216 406.7 L217 406.6 L217.9 406.4 L218.8 406.2 L219.7 406 L220.6 405.8 L221.5 405.7 L222.5 405.5 L223.4 405.3 L224.3 405.1 L225.2 404.9 L226.1 404.7 L227 404.6 L228 404.4 L228.9 404.2 L229.8 404 L230.7 403.8 L231.6 403.7 L232.5 403.5 L233.4 403.3 L234.3 403.2 L235.2 403 L236.1 402.9 L237 402.7 L237.8 402.6 L238.7 402.5 L239.6 402.3 L240.5 402.2 L241.3 402.1 L242.2 402 L243.1 401.9 L243.9 401.8 L244.8 401.7 L245.6 401.6 L246.5 401.6 L247.3 401.5 L248.2 401.4 L249 401.4 L249.9 401.3 L250.7 401.3 L251.5 401.3 L252.4 401.2 L253.2 401.2 L254 401.2 L254.8 401.2 L255.6 401.2 L256.4 401.2 L257.3 401.2 L258.1 401.2 L258.9 401.2 L259.7 401.3 L260.5 401.3 L261.2 401.3 L262 401.4 L262.8 401.4 L263.6 401.5 L264.4 401.6 L265.2 401.6 L265.9 401.7 L266.7 401.8 L267.5 401.9 L268.3 401.9 L269 402 L269.8 402.1 L270.5 402.2 L271.3 402.3 L272 402.5 L272.8 402.6 L273.5 402.7 L274.3 402.8 L275 403 L275.8 403.1 L276.5 403.3 L277.2 403.4 L278 403.6 L278.7 403.7 L279.4 403.9 L280.2 404 L280.9 404.2 L281.6 404.4 L282.3 404.6 L283 404.8 L283.7 405 L284.5 405.1 L285.2 405.3 L285.9 405.6 L286.6 405.8 L287.3 406 L288 406.2 L288.7 406.4 L289.4 406.6 L290 406.9 L290.7 407.1 L291.4 407.3 L292.1 407.6 L292.8 407.8 L293.5 408.1 L294.1 408.3 L294.8 408.6 L295.5 408.9 L296.2 409.1 L296.8 409.4 L297.5 409.7 L298.1 410 L298.8 410.3 L299.5 410.6 L300.1 410.9 L300.8 411.2 L301.4 411.5 L302.1 411.8 L302.7 412.1 L303.4 412.4 L304 412.7 L304.7 413.1 L305.3 413.4 L305.9 413.7 L306.6 414.1 L307.2 414.4 L307.8 414.8 L308.4 415.1 L309.1 415.5 L309.7 415.9 L310.3 416.2 L310.9 416.6 L311.5 417 L312.1 417.4 L312.8 417.8 L313.4 418.1 L314 418.5 L314.6 418.9 L315.2 419.4 L315.7 419.8 L316.3 420.2 L316.9 420.6 L317.5 421 L318.1 421.5 L318.7 421.9 L319.2 422.4 L319.8 422.8 L320.4 423.3 L321 423.7 L321.5 424.2 L322.1 424.7 L322.6 425.1 L323.2 425.6 L323.7 426.1 L324.3 426.6 L324.8 427.1 L325.4 427.6 L325.9 428.1 L326.4 428.6 L327 429.1 L327.5 429.6 L328 430.1 L328.5 430.7 L329.1 431.2 L329.6 431.7 L330.1 432.3 L330.6 432.8 L331.1 433.4 L331.6 433.9 L332.1 434.5 L332.6 435 L333.1 435.6 L333.6 436.1 L334.1 436.7 L334.6 437.3 L335.1 437.8 L335.5 438.4 L336 439 L336.5 439.6 L336.9 440.2 L337.4 440.8 L337.9 441.4 L338.3 442 L338.8 442.6 L339.3 443.2 L339.7 443.8 L340.2 444.4 L340.6 445 L341 445.6 L341.5 446.2 L341.9 446.8 L342.3 447.4 L342.8 448.1 L343.2 448.7 L343.6 449.3 L344.1 449.9 L344.5 450.6 L344.9 451.2 L345.3 451.8 L345.7 452.5 L346.1 453.1 L346.5 453.8 L346.9 454.4 L347.3 455 L347.7 455.7 L348.1 456.3 L348.5 457 L348.9 457.6 L349.3 458.3 L349.7 458.9 L350.1 459.6 L350.5 460.2 L350.8 460.9 L351.2 461.5 L351.6 462.2 L352 462.9 L352.3 463.5 L352.7 464.2 L353.1 464.8 L353.5 465.5 L353.8 466.2 L354.2 466.8 L354.6 467.5 L354.9 468.1 L355.3 468.8 L355.7 469.5 L356 470.1 L356.4 470.8 L356.8 471.4 L357.1 472.1 L357.5 472.8 L357.9 473.4 L358.2 474.1 L358.6 474.8 L359 475.4 L359.3 476.1 L359.7 476.7 L360.1 477.4 L360.4 478.1 L360.8 478.7 L361.2 479.4 L361.6 480 L361.9 480.7 L362.3 481.4 L362.7 482 L363.1 482.7 L363.4 483.3 L363.8 484 L364.2 484.7 L364.6 485.3 L365 486 L365.3 486.6 L365.7 487.3 L366.1 488 L366.5 488.6 L366.9 489.3 L367.2 489.9 L367.6 490.6 L368 491.3 L368.4 491.9 L368.8 492.6 L369.1 493.3 L369.5 493.9 L369.9 494.6 L370.3 495.2 L370.6 495.9 L371 496.6 L371.4 497.2 L371.8 497.9 L372.2 498.5 L372.5 499.2 L372.9 499.9 L373.3 500.5 L373.6 501.2 L374 501.9 L374.4 502.5 L374.8 503.2 L375.1 503.9 L375.5 504.5 L375.9 505.2 L376.2 505.9 L376.6 506.5 L377 507.2 L377.3 507.9 L377.7 508.5 L378 509.2 L378.4 509.9 L378.7 510.5 L379.1 511.2 L379.4 511.9 L379.8 512.5 L380.1 513.2 L380.5 513.9 L380.8 514.6 L381.2 515.2 L381.5 515.9 L381.9 516.6 L382.2 517.3 L382.5 517.9 L382.9 518.6 L383.2 519.3 L383.5 520 L383.8 520.7 L384.2 521.3 L384.5 522 L384.8 522.7 L385.1 523.4 L385.4 524.1 L385.7 524.8 L386 525.5 L386.3 526.1 L386.6 526.8 L386.9 527.5 L387.2 528.2 L387.5 528.9 L387.8 529.6 L388.1 530.3 L388.4 531 L388.7 531.7 L388.9 532.4 L389.2 533.1 L389.5 533.8 L389.8 534.5 L390 535.2 L390.3 535.9 L390.6 536.6 L390.9 537.3 L391.1 538 L391.4 538.7 L391.6 539.4 L391.9 540.1 L392.2 540.8 L392.4 541.5 L392.7 542.2 L392.9 542.9 L393.2 543.6 L393.4 544.3 L393.7 545 L393.9 545.7 L394.2 546.4 L394.4 547.1 L394.7 547.8 L394.9 548.5 L395.2 549.3 L395.4 550 L395.7 550.7 L395.9 551.4 L396.1 552.1 L396.4 552.8 L396.6 553.5 L396.9 554.2 L397.1 554.9 L397.3 555.7 L397.6 556.4 L397.8 557.1 L398.1 557.8 L398.3 558.5 L398.5 559.2 L398.8 559.9 L399 560.6 L399.2 561.4 L399.5 562.1 L399.7 562.8 L400 563.5 L400.2 564.2 L400.4 564.9 L400.7 565.7 L400.9 566.4 L401.1 567.1 L401.4 567.8 L401.6 568.5 L401.8 569.2 L402.1 569.9 L402.3 570.7 L402.6 571.4 L402.8 572.1 L403 572.8 L403.3 573.5 L403.5 574.2 L403.7 575 L404 575.7 L404.2 576.4 L404.4 577.1 L404.7 577.8 L404.9 578.6 L405.1 579.3 L405.3 580 L405.6 580.7 L405.8 581.4 L406 582.2 L406.3 582.9 L406.5 583.6 L406.7 584.3 L406.9 585 L407.2 585.8 L407.4 586.5 L407.6 587.2 L407.8 587.9 L408.1 588.6 L408.3 589.4 L408.5 590.1 L408.7 590.8 L408.9 591.5 L409.2 592.3 L409.4 593 L409.6 593.7 L409.8 594.4 L410 595.2 L410.3 595.9 L410.5 596.6 L410.7 597.3 L410.9 598 L411.1 598.8 L411.3 599.5 L411.5 600.2 L411.7 601 L411.9 601.7 L412.2 602.4 L412.4 603.1 L412.6 603.9 L412.8 604.6 L413 605.3 L413.2 606 L413.4 606.8 L413.6 607.5 L413.8 608.2 L414 608.9 L414.2 609.7 L414.4 610.4 L414.6 611.1 L414.8 611.9 L415 612.6 L415.1 613.3 L415.3 614 L415.5 614.8 L415.7 615.5 L415.9 616.2 L416.1 616.9 L416.3 617.7 L416.5 618.4 L416.6 619.1 L416.8 619.9 L417 620.6 L417.2 621.3 L417.4 622 L417.6 622.8 L417.7 623.5 L417.9 624.2 L418.1 624.9 L418.3 625.7 L418.5 626.4 L418.6 627.1 L418.8 627.8 L419 628.6 L419.2 629.3 L419.3 630 L419.5 630.7 L419.7 631.4 L419.9 632.2 L420 632.9 L420.2 633.6 L420.4 634.3 L420.6 635 L420.7 635.8 L420.9 636.5 L421.1 637.2 L421.3 637.9 L421.4 638.6 L421.6 639.3 L421.8 640.1 L421.9 640.8 L422.1 641.5 L422.3 642.2 L422.5 642.9 L422.6 643.6 L422.8 644.3 L423 645 L423.1 645.7 L423.3 646.4 L423.5 647.1 L423.7 647.9 L423.8 648.6 L424 649.3 L424.2 650 L424.4 650.7 L424.5 651.4 L424.7 652.1 L424.9 652.8 L425.1 653.5 L425.2 654.2 L425.4 654.9 L425.6 655.6 L425.8 656.3 L425.9 657 L426.1 657.6 L426.3 658.3 L426.5 659 L426.6 659.7 L426.8 660.4 L427 661.1 L427.2 661.8 L427.4 662.5 L427.5 663.2 L427.7 663.9 L427.9 664.6 L428.1 665.2 L428.3 665.9 L428.4 666.6 L428.6 667.3 L428.8 668 L429 668.7 L429.2 669.4 L429.3 670 L429.5 670.7 L429.7 671.4 L429.9 672.1 L430.1 672.8 L430.3 673.5 L430.4 674.1 L430.6 674.8 L430.8 675.5 L431 676.2 L431.2 676.9 L431.3 677.5 L431.5 678.2 L431.7 678.9 L431.9 679.6 L432.1 680.3 L432.2 680.9 L432.4 681.6 L432.6 682.3 L432.8 683 L433 683.6 L433.1 684.3 L433.3 685 L433.5 685.7 L433.7 686.3 L433.9 687 L434 687.7 L434.2 688.4 L434.4 689.1 L434.6 689.7 L434.7 690.4 L434.9 691.1 L435.1 691.8 L435.3 692.4 L435.4 693.1 L435.6 693.8 L435.8 694.5 L436 695.1 L436.1 695.8 L436.3 696.5 L436.5 697.2 L436.6 697.8M177.8 342.2 L178.8 342.1 L179.8 342 L180.8 342 L181.7 341.9 L182.7 341.9 L183.7 341.8 L184.7 341.8 L185.6 341.8 L186.6 341.7 L187.6 341.7 L188.5 341.7 L189.5 341.7 L190.4 341.7 L191.4 341.7 L192.4 341.7 L193.3 341.6 L194.3 341.6 L195.2 341.6 L196.2 341.6 L197.1 341.6 L198 341.6 L199 341.6 L199.9 341.6 L200.9 341.6 L201.8 341.6 L202.8 341.6 L203.7 341.6 L204.7 341.6 L205.6 341.5 L206.5 341.5 L207.5 341.5 L208.4 341.4 L209.4 341.4 L210.3 341.3 L211.3 341.3 L212.3 341.2 L213.2 341.1 L214.2 341 L215.1 340.9 L216.1 340.8 L217.1 340.7 L218.1 340.6 L219.1 340.4 L220 340.3 L221 340.1 L222 340 L223 339.8 L224 339.6 L225 339.4 L226 339.2 L227 339 L228 338.8 L229 338.6 L230 338.4 L231 338.2 L232 338 L233 337.8 L234 337.6 L235 337.3 L236 337.1 L237.1 336.9 L238.1 336.7 L239.1 336.4 L240.1 336.2 L241.1 336 L242.1 335.8 L243.1 335.6 L244.1 335.3 L245.1 335.1 L246.1 334.9 L247.1 334.7 L248 334.5 L249 334.3 L250 334.1 L251 333.9 L252 333.8 L252.9 333.6 L253.9 333.4 L254.9 333.3 L255.8 333.1 L256.8 333 L257.8 332.8 L258.7 332.7 L259.7 332.6 L260.6 332.5 L261.5 332.4 L262.5 332.3 L263.4 332.2 L264.3 332.1 L265.3 332.1 L266.2 332 L267.1 331.9 L268 331.9 L268.9 331.8 L269.8 331.8 L270.7 331.8 L271.6 331.8 L272.5 331.8 L273.4 331.8 L274.3 331.8 L275.2 331.8 L276.1 331.8 L277 331.8 L277.8 331.8 L278.7 331.9 L279.6 331.9 L280.4 332 L281.3 332 L282.2 332.1 L283 332.2 L283.9 332.3 L284.7 332.3 L285.6 332.4 L286.4 332.5 L287.3 332.6 L288.1 332.8 L288.9 332.9 L289.8 333 L290.6 333.1 L291.4 333.3 L292.2 333.4 L293.1 333.6 L293.9 333.7 L294.7 333.9 L295.5 334.1 L296.3 334.2 L297.1 334.4 L297.9 334.6 L298.7 334.8 L299.5 335 L300.3 335.2 L301.1 335.4 L301.9 335.6 L302.7 335.8 L303.5 336 L304.2 336.3 L305 336.5 L305.8 336.7 L306.6 337 L307.3 337.2 L308.1 337.5 L308.9 337.7 L309.6 338 L310.4 338.3 L311.2 338.6 L311.9 338.8 L312.7 339.1 L313.4 339.4 L314.2 339.7 L314.9 340 L315.6 340.3 L316.4 340.7 L317.1 341 L317.9 341.3 L318.6 341.6 L319.3 342 L320 342.3 L320.8 342.7 L321.5 343 L322.2 343.4 L322.9 343.7 L323.6 344.1 L324.4 344.5 L325.1 344.8 L325.8 345.2 L326.5 345.6 L327.2 346 L327.9 346.4 L328.6 346.8 L329.3 347.2 L330 347.7 L330.6 348.1 L331.3 348.5 L332 348.9 L332.7 349.4 L333.4 349.8 L334 350.3 L334.7 350.7 L335.4 351.2 L336.1 351.7 L336.7 352.1 L337.4 352.6 L338 353.1 L338.7 353.6 L339.3 354.1 L340 354.6 L340.6 355.1 L341.3 355.6 L341.9 356.1 L342.5 356.7 L343.2 357.2 L343.8 357.7 L344.4 358.3 L345.1 358.8 L345.7 359.4 L346.3 360 L346.9 360.5 L347.5 361.1 L348.1 361.7 L348.7 362.3 L349.3 362.9 L349.9 363.5 L350.5 364.1 L351.1 364.7 L351.7 365.3 L352.2 365.9 L352.8 366.5 L353.4 367.2 L353.9 367.8 L354.5 368.5 L355.1 369.1 L355.6 369.8 L356.2 370.4 L356.7 371.1 L357.3 371.7 L357.8 372.4 L358.4 373.1 L358.9 373.8 L359.4 374.4 L360 375.1 L360.5 375.8 L361 376.5 L361.6 377.2 L362.1 377.9 L362.6 378.6 L363.1 379.3 L363.6 380 L364.1 380.7 L364.6 381.5 L365.1 382.2 L365.6 382.9 L366.1 383.6 L366.6 384.4 L367.1 385.1 L367.6 385.9 L368 386.6 L368.5 387.3 L369 388.1 L369.5 388.8 L369.9 389.6 L370.4 390.3 L370.8 391.1 L371.3 391.9 L371.8 392.6 L372.2 393.4 L372.7 394.2 L373.1 394.9 L373.5 395.7 L374 396.5 L374.4 397.3 L374.8 398 L375.3 398.8 L375.7 399.6 L376.1 400.4 L376.6 401.2 L377 401.9 L377.4 402.7 L377.8 403.5 L378.2 404.3 L378.6 405.1 L379 405.9 L379.5 406.7 L379.9 407.5 L380.3 408.3 L380.7 409 L381.1 409.8 L381.5 410.6 L381.9 411.4 L382.3 412.2 L382.7 413 L383.1 413.8 L383.5 414.6 L383.9 415.4 L384.3 416.2 L384.7 417 L385.1 417.8 L385.5 418.6 L385.9 419.4 L386.3 420.2 L386.7 421 L387.1 421.8 L387.5 422.6 L387.9 423.4 L388.3 424.2 L388.8 425 L389.2 425.8 L389.6 426.5 L390 427.3 L390.4 428.1 L390.8 428.9 L391.2 429.7 L391.6 430.5 L392 431.3 L392.5 432.1 L392.9 432.9 L393.3 433.7 L393.7 434.5 L394.1 435.3 L394.5 436.1 L395 436.9 L395.4 437.7 L395.8 438.5 L396.2 439.2 L396.6 440 L397 440.8 L397.5 441.6 L397.9 442.4 L398.3 443.2 L398.7 444 L399.1 444.8 L399.5 445.6 L399.9 446.4 L400.4 447.2 L400.8 448 L401.2 448.8 L401.6 449.6 L402 450.4 L402.4 451.2 L402.8 452 L403.2 452.8 L403.6 453.6 L404 454.4 L404.5 455.2 L404.9 456 L405.3 456.8 L405.7 457.6 L406.1 458.4 L406.5 459.2 L406.8 460 L407.2 460.8 L407.6 461.6 L408 462.4 L408.4 463.2 L408.8 464 L409.2 464.8 L409.6 465.6 L410 466.4 L410.3 467.2 L410.7 468.1 L411.1 468.9 L411.5 469.7 L411.8 470.5 L412.2 471.3 L412.6 472.1 L412.9 472.9 L413.3 473.7 L413.6 474.6 L414 475.4 L414.3 476.2 L414.7 477 L415 477.8 L415.4 478.7 L415.7 479.5 L416.1 480.3 L416.4 481.1 L416.7 482 L417.1 482.8 L417.4 483.6 L417.7 484.5 L418 485.3 L418.3 486.1 L418.7 487 L419 487.8 L419.3 488.6 L419.6 489.5 L419.9 490.3 L420.2 491.1 L420.5 492 L420.8 492.8 L421.1 493.6 L421.4 494.5 L421.7 495.3 L422 496.2 L422.3 497 L422.6 497.9 L422.8 498.7 L423.1 499.6 L423.4 500.4 L423.7 501.2 L424 502.1 L424.2 502.9 L424.5 503.8 L424.8 504.6 L425.1 505.5 L425.3 506.3 L425.6 507.2 L425.9 508 L426.2 508.9 L426.4 509.8 L426.7 510.6 L427 511.5 L427.2 512.3 L427.5 513.2 L427.8 514 L428 514.9 L428.3 515.7 L428.5 516.6 L428.8 517.4 L429.1 518.3 L429.3 519.2 L429.6 520 L429.9 520.9 L430.1 521.7 L430.4 522.6 L430.6 523.5 L430.9 524.3 L431.2 525.2 L431.4 526 L431.7 526.9 L431.9 527.7 L432.2 528.6 L432.5 529.5 L432.7 530.3 L433 531.2 L433.2 532 L433.5 532.9 L433.7 533.8 L434 534.6 L434.3 535.5 L434.5 536.4 L434.8 537.2 L435 538.1 L435.3 538.9 L435.5 539.8 L435.8 540.7 L436.1 541.5 L436.3 542.4 L436.6 543.3 L436.8 544.1 L437.1 545 L437.3 545.8 L437.6 546.7 L437.8 547.6 L438.1 548.4 L438.3 549.3 L438.6 550.2 L438.8 551 L439.1 551.9 L439.3 552.8 L439.6 553.6 L439.8 554.5 L440.1 555.4 L440.3 556.2 L440.6 557.1 L440.8 558 L441 558.8 L441.3 559.7 L441.5 560.6 L441.8 561.5 L442 562.3 L442.2 563.2 L442.5 564.1 L442.7 564.9 L443 565.8 L443.2 566.7 L443.4 567.5 L443.7 568.4 L443.9 569.3 L444.1 570.2 L444.4 571 L444.6 571.9 L444.8 572.8 L445 573.6 L445.3 574.5 L445.5 575.4 L445.7 576.3 L445.9 577.1 L446.2 578 L446.4 578.9 L446.6 579.8 L446.8 580.6 L447 581.5 L447.3 582.4 L447.5 583.3 L447.7 584.1 L447.9 585 L448.1 585.9 L448.3 586.8 L448.5 587.6 L448.7 588.5 L449 589.4 L449.2 590.3 L449.4 591.1 L449.6 592 L449.8 592.9 L450 593.8 L450.2 594.6 L450.4 595.5 L450.6 596.4 L450.8 597.3 L451 598.1 L451.2 599 L451.4 599.9 L451.6 600.7 L451.8 601.6 L452 602.5 L452.2 603.4 L452.4 604.2 L452.5 605.1 L452.7 606 L452.9 606.8 L453.1 607.7 L453.3 608.6 L453.5 609.4 L453.7 610.3 L453.9 611.2 L454.1 612 L454.3 612.9 L454.5 613.8 L454.6 614.6 L454.8 615.5 L455 616.3 L455.2 617.2 L455.4 618.1 L455.6 618.9 L455.8 619.8 L456 620.6 L456.2 621.5 L456.3 622.3 L456.5 623.2 L456.7 624 L456.9 624.9 L457.1 625.7 L457.3 626.6 L457.5 627.4 L457.7 628.3 L457.9 629.1 L458 630 L458.2 630.8 L458.4 631.7 L458.6 632.5 L458.8 633.4 L459 634.2 L459.2 635 L459.4 635.9 L459.6 636.7 L459.8 637.6 L460 638.4 L460.2 639.2 L460.3 640.1 L460.5 640.9 L460.7 641.7 L460.9 642.6 L461.1 643.4 L461.3 644.2 L461.5 645.1 L461.7 645.9 L461.9 646.7 L462.1 647.5 L462.3 648.4 L462.5 649.2 L462.7 650 L462.9 650.9 L463.1 651.7 L463.3 652.5 L463.5 653.3 L463.7 654.1 L463.9 655 L464.1 655.8 L464.3 656.6 L464.5 657.4 L464.7 658.3 L464.9 659.1 L465.1 659.9 L465.3 660.7 L465.5 661.5 L465.7 662.3 L465.9 663.2 L466.1 664 L466.3 664.8 L466.5 665.6 L466.7 666.4 L466.9 667.2 L467.1 668.1 L467.3 668.9 L467.5 669.7 L467.7 670.5 L467.9 671.3 L468.1 672.1 L468.3 673 L468.5 673.8 L468.7 674.6 L468.8 675.4 L469 676.2 L469.2 677 L469.4 677.8 L469.6 678.6 L469.8 679.5 L470 680.3 L470.2 681.1 L470.4 681.9 L470.6 682.7 L470.8 683.5 L471 684.3 L471.2 685.1 L471.3 686 L471.5 686.8 L471.7 687.6 L471.9 688.4M188.1 260.8 L189.2 260.7 L190.3 260.6 L191.3 260.5 L192.4 260.5 L193.5 260.4 L194.5 260.4 L195.6 260.3 L196.7 260.3 L197.7 260.3 L198.8 260.2 L199.8 260.2 L200.9 260.2 L201.9 260.2 L203 260.2 L204 260.2 L205.1 260.2 L206.1 260.1 L207.2 260.1 L208.2 260.1 L209.2 260.1 L210.3 260.1 L211.3 260.1 L212.4 260.1 L213.4 260.1 L214.4 260.1 L215.5 260.1 L216.5 260.1 L217.5 260 L218.6 260 L219.6 260 L220.6 259.9 L221.7 259.9 L222.7 259.8 L223.8 259.8 L224.8 259.7 L225.9 259.6 L226.9 259.5 L228 259.4 L229 259.3 L230.1 259.2 L231.2 259 L232.2 258.8 L233.3 258.7 L234.4 258.5 L235.5 258.3 L236.6 258.1 L237.7 257.9 L238.8 257.7 L239.8 257.5 L240.9 257.2 L242 257 L243.1 256.8 L244.2 256.5 L245.3 256.3 L246.4 256 L247.5 255.8 L248.6 255.5 L249.7 255.2 L250.9 255 L252 254.7 L253.1 254.4 L254.2 254.2 L255.3 253.9 L256.4 253.6 L257.5 253.4 L258.6 253.1 L259.7 252.8 L260.8 252.6 L261.8 252.3 L262.9 252.1 L264 251.8 L265.1 251.6 L266.2 251.4 L267.3 251.1 L268.3 250.9 L269.4 250.7 L270.5 250.5 L271.5 250.3 L272.6 250.1 L273.7 249.9 L274.7 249.7 L275.8 249.6 L276.8 249.4 L277.8 249.3 L278.9 249.1 L279.9 249 L280.9 248.9 L281.9 248.8 L283 248.7 L284 248.6 L285 248.5 L286 248.5 L287 248.4 L288 248.4 L289 248.3 L290 248.3 L291 248.3 L292 248.3 L292.9 248.3 L293.9 248.3 L294.9 248.3 L295.8 248.3 L296.8 248.3 L297.8 248.4 L298.7 248.4 L299.7 248.5 L300.6 248.5 L301.6 248.6 L302.5 248.7 L303.5 248.8 L304.4 248.9 L305.3 249 L306.3 249.1 L307.2 249.2 L308.1 249.3 L309 249.5 L309.9 249.6 L310.9 249.8 L311.8 249.9 L312.7 250.1 L313.6 250.3 L314.5 250.4 L315.4 250.6 L316.3 250.8 L317.1 251 L318 251.2 L318.9 251.4 L319.8 251.7 L320.7 251.9 L321.5 252.1 L322.4 252.4 L323.3 252.6 L324.2 252.9 L325 253.1 L325.9 253.4 L326.7 253.7 L327.6 254 L328.4 254.3 L329.3 254.5 L330.1 254.8 L331 255.2 L331.8 255.5 L332.6 255.8 L333.5 256.1 L334.3 256.4 L335.1 256.8 L336 257.1 L336.8 257.5 L337.6 257.8 L338.4 258.2 L339.2 258.6 L340 259 L340.8 259.3 L341.7 259.7 L342.5 260.1 L343.3 260.5 L344.1 260.9 L344.8 261.4 L345.6 261.8 L346.4 262.2 L347.2 262.7 L348 263.1 L348.8 263.5 L349.6 264 L350.3 264.5 L351.1 264.9 L351.9 265.4 L352.6 265.9 L353.4 266.4 L354.2 266.9 L354.9 267.4 L355.7 267.9 L356.4 268.4 L357.2 268.9 L357.9 269.4 L358.7 270 L359.4 270.5 L360.1 271.1 L360.9 271.6 L361.6 272.2 L362.3 272.8 L363.1 273.3 L363.8 273.9 L364.5 274.5 L365.2 275.1 L365.9 275.7 L366.6 276.3 L367.3 276.9 L368 277.6 L368.7 278.2 L369.4 278.8 L370.1 279.5 L370.8 280.1 L371.5 280.8 L372.1 281.5 L372.8 282.2 L373.5 282.8 L374.2 283.5 L374.8 284.2 L375.5 284.9 L376.1 285.7 L376.8 286.4 L377.4 287.1 L378.1 287.8 L378.7 288.6 L379.3 289.3 L380 290.1 L380.6 290.8 L381.2 291.6 L381.8 292.4 L382.5 293.2 L383.1 293.9 L383.7 294.7 L384.3 295.5 L384.9 296.3 L385.5 297.1 L386.1 297.9 L386.7 298.8 L387.3 299.6 L387.8 300.4 L388.4 301.2 L389 302.1 L389.6 302.9 L390.1 303.7 L390.7 304.6 L391.3 305.4 L391.8 306.3 L392.4 307.2 L392.9 308 L393.5 308.9 L394 309.8 L394.5 310.7 L395.1 311.5 L395.6 312.4 L396.1 313.3 L396.7 314.2 L397.2 315.1 L397.7 316 L398.2 316.9 L398.7 317.8 L399.2 318.7 L399.8 319.6 L400.3 320.5 L400.8 321.5 L401.2 322.4 L401.7 323.3 L402.2 324.2 L402.7 325.1 L403.2 326.1 L403.7 327 L404.1 327.9 L404.6 328.9 L405.1 329.8 L405.5 330.8 L406 331.7 L406.5 332.6 L406.9 333.6 L407.4 334.5 L407.8 335.5 L408.3 336.4 L408.7 337.4 L409.2 338.3 L409.6 339.3 L410.1 340.2 L410.5 341.2 L411 342.1 L411.4 343.1 L411.9 344.1 L412.3 345 L412.8 346 L413.2 346.9 L413.6 347.9 L414.1 348.8 L414.5 349.8 L415 350.7 L415.4 351.7 L415.8 352.7 L416.3 353.6 L416.7 354.6 L417.2 355.5 L417.6 356.5 L418.1 357.4 L418.5 358.4 L418.9 359.4 L419.4 360.3 L419.8 361.3 L420.3 362.2 L420.7 363.2 L421.2 364.1 L421.6 365.1 L422.1 366 L422.6 367 L423 368 L423.5 368.9 L423.9 369.9 L424.4 370.8 L424.8 371.8 L425.3 372.7 L425.7 373.7 L426.2 374.6 L426.7 375.6 L427.1 376.5 L427.6 377.5 L428 378.4 L428.5 379.4 L428.9 380.4 L429.4 381.3 L429.8 382.3 L430.3 383.2 L430.8 384.2 L431.2 385.1 L431.7 386.1 L432.1 387.1 L432.6 388 L433 389 L433.5 389.9 L433.9 390.9 L434.4 391.8 L434.8 392.8 L435.3 393.8 L435.7 394.7 L436.2 395.7 L436.6 396.6 L437 397.6 L437.5 398.6 L437.9 399.5 L438.4 400.5 L438.8 401.5 L439.2 402.4 L439.7 403.4 L440.1 404.4 L440.5 405.3 L440.9 406.3 L441.4 407.3 L441.8 408.2 L442.2 409.2 L442.6 410.2 L443.1 411.2 L443.5 412.1 L443.9 413.1 L444.3 414.1 L444.7 415.1 L445.1 416 L445.5 417 L445.9 418 L446.3 419 L446.7 420 L447.1 420.9 L447.5 421.9 L447.8 422.9 L448.2 423.9 L448.6 424.9 L449 425.9 L449.3 426.9 L449.7 427.9 L450.1 428.9 L450.4 429.9 L450.8 430.8 L451.1 431.8 L451.5 432.8 L451.8 433.8 L452.2 434.8 L452.5 435.8 L452.9 436.9 L453.2 437.9 L453.5 438.9 L453.9 439.9 L454.2 440.9 L454.5 441.9 L454.9 442.9 L455.2 443.9 L455.5 444.9 L455.8 445.9 L456.1 447 L456.5 448 L456.8 449 L457.1 450 L457.4 451 L457.7 452 L458 453.1 L458.3 454.1 L458.6 455.1 L458.9 456.1 L459.2 457.1 L459.5 458.2 L459.8 459.2 L460.1 460.2 L460.4 461.2 L460.7 462.3 L461 463.3 L461.3 464.3 L461.6 465.3 L461.9 466.4 L462.2 467.4 L462.4 468.4 L462.7 469.5 L463 470.5 L463.3 471.5 L463.6 472.5 L463.9 473.6 L464.2 474.6 L464.5 475.6 L464.7 476.7 L465 477.7 L465.3 478.7 L465.6 479.8 L465.9 480.8 L466.2 481.8 L466.5 482.9 L466.7 483.9 L467 484.9 L467.3 486 L467.6 487 L467.9 488 L468.2 489.1 L468.4 490.1 L468.7 491.1 L469 492.2 L469.3 493.2 L469.6 494.2 L469.9 495.3 L470.1 496.3 L470.4 497.4 L470.7 498.4 L471 499.4 L471.3 500.5 L471.5 501.5 L471.8 502.5 L472.1 503.6 L472.4 504.6 L472.7 505.7 L472.9 506.7 L473.2 507.7 L473.5 508.8 L473.8 509.8 L474 510.9 L474.3 511.9 L474.6 512.9 L474.8 514 L475.1 515 L475.4 516.1 L475.7 517.1 L475.9 518.2 L476.2 519.2 L476.5 520.2 L476.7 521.3 L477 522.3 L477.3 523.4 L477.5 524.4 L477.8 525.5 L478 526.5 L478.3 527.6 L478.6 528.6 L478.8 529.7 L479.1 530.7 L479.3 531.7 L479.6 532.8 L479.9 533.8 L480.1 534.9 L480.4 535.9 L480.6 537 L480.9 538 L481.1 539.1 L481.4 540.1 L481.6 541.2 L481.9 542.2 L482.1 543.3 L482.3 544.3 L482.6 545.4 L482.8 546.4 L483.1 547.5 L483.3 548.5 L483.5 549.6 L483.8 550.6 L484 551.7 L484.2 552.7 L484.5 553.8 L484.7 554.8 L484.9 555.9 L485.2 557 L485.4 558 L485.6 559.1 L485.8 560.1 L486.1 561.2 L486.3 562.2 L486.5 563.3 L486.7 564.3 L487 565.4 L487.2 566.4 L487.4 567.5 L487.6 568.5 L487.8 569.6 L488.1 570.6 L488.3 571.7 L488.5 572.7 L488.7 573.8 L488.9 574.8 L489.1 575.8 L489.3 576.9 L489.5 577.9 L489.8 579 L490 580 L490.2 581.1 L490.4 582.1 L490.6 583.1 L490.8 584.2 L491 585.2 L491.2 586.3 L491.4 587.3 L491.6 588.3 L491.8 589.4 L492.1 590.4 L492.3 591.4 L492.5 592.5 L492.7 593.5 L492.9 594.5 L493.1 595.6 L493.3 596.6 L493.5 597.6 L493.7 598.6 L493.9 599.7 L494.1 600.7 L494.3 601.7 L494.5 602.7 L494.7 603.8 L495 604.8 L495.2 605.8 L495.4 606.8 L495.6 607.8 L495.8 608.8 L496 609.9 L496.2 610.9 L496.4 611.9 L496.6 612.9 L496.8 613.9 L497 614.9 L497.3 615.9 L497.5 616.9 L497.7 617.9 L497.9 618.9 L498.1 619.9 L498.3 620.9 L498.5 621.9 L498.7 622.9 L499 623.9 L499.2 624.9 L499.4 625.9 L499.6 626.9 L499.8 627.9 L500 628.9 L500.3 629.9 L500.5 630.9 L500.7 631.9 L500.9 632.9 L501.1 633.9 L501.3 634.9 L501.6 635.9 L501.8 636.8 L502 637.8 L502.2 638.8 L502.4 639.8 L502.7 640.8 L502.9 641.8 L503.1 642.8 L503.3 643.8 L503.5 644.7 L503.7 645.7 L504 646.7 L504.2 647.7 L504.4 648.7 L504.6 649.6 L504.8 650.6 L505.1 651.6 L505.3 652.6 L505.5 653.6 L505.7 654.6 L505.9 655.5 L506.1 656.5 L506.4 657.5 L506.6 658.5 L506.8 659.4 L507 660.4 L507.2 661.4 L507.4 662.4 L507.6 663.4 L507.9 664.3 L508.1 665.3 L508.3 666.3 L508.5 667.3 L508.7 668.2 L508.9 669.2 L509.1 670.2 L509.3 671.2 L509.5 672.1 L509.7 673.1 L509.9 674.1 L510.1 675.1 L510.4 676.1 L510.6 677M199.4 162.9 L199.9 162.9 L200.5 162.8 L201 162.8 L201.5 162.8 L202.1 162.7 L202.6 162.7 L203.2 162.6 L203.7 162.6 L204.2 162.6 L204.8 162.5 L205.3 162.5 L205.8 162.5 L206.4 162.5 L206.9 162.4 L207.5 162.4 L208 162.4 L208.5 162.4 L209.1 162.3 L209.6 162.3 L210.1 162.3 L210.6 162.3 L211.2 162.3 L211.7 162.3 L212.2 162.3 L212.8 162.2 L213.3 162.2 L213.8 162.2 L214.3 162.2 L214.9 162.2 L215.4 162.2 L215.9 162.2 L216.5 162.2 L217 162.2 L217.5 162.2 L218 162.2 L218.5 162.2 L219.1 162.2 L219.6 162.2 L220.1 162.2 L220.6 162.2 L221.2 162.2 L221.7 162.2 L222.2 162.2 L222.7 162.1 L223.2 162.1 L223.8 162.1 L224.3 162.1 L224.8 162.1 L225.3 162.1 L225.8 162.1 L226.4 162.1 L226.9 162.1 L227.4 162.1 L227.9 162.1 L228.4 162.1 L229 162.1 L229.5 162.1 L230 162.1 L230.5 162.1 L231 162.1 L231.6 162.1 L232.1 162 L232.6 162 L233.1 162 L233.6 162 L234.2 162 L234.7 161.9 L235.2 161.9 L235.7 161.9 L236.2 161.9 L236.8 161.8 L237.3 161.8 L237.8 161.8 L238.3 161.7 L238.9 161.7 L239.4 161.7 L239.9 161.6 L240.4 161.6 L241 161.5 L241.5 161.5 L242 161.4 L242.6 161.3 L243.1 161.3 L243.6 161.2 L244.2 161.2 L244.7 161.1 L245.2 161 L245.8 160.9 L246.3 160.8 L246.8 160.8 L247.4 160.7 L247.9 160.6 L248.5 160.5 L249 160.4 L249.5 160.3 L250.1 160.2 L250.6 160.1 L251.2 160 L251.7 159.9 L252.3 159.8 L252.8 159.7 L253.3 159.6 L253.9 159.4 L254.4 159.3 L255 159.2 L255.5 159.1 L256.1 159 L256.6 158.8 L257.2 158.7 L257.7 158.6 L258.3 158.5 L258.8 158.3 L259.4 158.2 L259.9 158.1 L260.5 157.9 L261 157.8 L261.6 157.7 L262.1 157.5 L262.7 157.4 L263.3 157.2 L263.8 157.1 L264.4 156.9 L264.9 156.8 L265.5 156.7 L266 156.5 L266.6 156.4 L267.1 156.2 L267.7 156.1 L268.2 155.9 L268.8 155.8 L269.3 155.6 L269.9 155.5 L270.4 155.3 L271 155.2 L271.6 155 L272.1 154.9 L272.7 154.8 L273.2 154.6 L273.8 154.5 L274.3 154.3 L274.9 154.2 L275.4 154 L276 153.9 L276.5 153.7 L277.1 153.6 L277.6 153.4 L278.2 153.3 L278.7 153.2 L279.3 153 L279.8 152.9 L280.4 152.7 L280.9 152.6 L281.5 152.5 L282 152.3 L282.6 152.2 L283.1 152.1 L283.6 151.9 L284.2 151.8 L284.7 151.7 L285.3 151.5 L285.8 151.4 L286.4 151.3 L286.9 151.2 L287.4 151 L288 150.9 L288.5 150.8 L289 150.7 L289.6 150.6 L290.1 150.5 L290.6 150.3 L291.2 150.2 L291.7 150.1 L292.2 150 L292.8 149.9 L293.3 149.8 L293.8 149.7 L294.4 149.6 L294.9 149.6 L295.4 149.5 L295.9 149.4 L296.4 149.3 L297 149.2 L297.5 149.1 L298 149.1 L298.5 149 L299.1 148.9 L299.6 148.8 L300.1 148.8 L300.6 148.7 L301.1 148.7 L301.6 148.6 L302.1 148.5 L302.7 148.5 L303.2 148.4 L303.7 148.4 L304.2 148.3 L304.7 148.3 L305.2 148.2 L305.7 148.2 L306.2 148.2 L306.7 148.1 L307.2 148.1 L307.7 148.1 L308.2 148 L308.7 148 L309.2 148 L309.7 148 L310.2 147.9 L310.7 147.9 L311.2 147.9 L311.7 147.9 L312.2 147.9 L312.7 147.9 L313.2 147.9 L313.7 147.9 L314.2 147.9 L314.7 147.9 L315.2 147.9 L315.6 147.9 L316.1 147.9 L316.6 147.9 L317.1 147.9 L317.6 147.9 L318.1 147.9 L318.6 148 L319 148 L319.5 148 L320 148 L320.5 148 L321 148.1 L321.4 148.1 L321.9 148.1 L322.4 148.2 L322.9 148.2 L323.4 148.3 L323.8 148.3 L324.3 148.3 L324.8 148.4 L325.2 148.4 L325.7 148.5 L326.2 148.5 L326.7 148.6 L327.1 148.6 L327.6 148.7 L328.1 148.8 L328.5 148.8 L329 148.9 L329.5 148.9 L329.9 149 L330.4 149.1 L330.8 149.1 L331.3 149.2 L331.8 149.3 L332.2 149.4 L332.7 149.5 L333.1 149.5 L333.6 149.6 L334.1 149.7 L334.5 149.8 L335 149.9 L335.4 150 L335.9 150.1 L336.3 150.1 L336.8 150.2 L337.2 150.3 L337.7 150.4 L338.1 150.5 L338.6 150.6 L339 150.8 L339.5 150.9 L339.9 151 L340.4 151.1 L340.8 151.2 L341.3 151.3 L341.7 151.4 L342.2 151.5 L342.6 151.7 L343 151.8 L343.5 151.9 L343.9 152 L344.4 152.1 L344.8 152.3 L345.2 152.4 L345.7 152.5 L346.1 152.7 L346.6 152.8 L347 152.9 L347.4 153.1 L347.9 153.2 L348.3 153.3 L348.7 153.5 L349.2 153.6 L349.6 153.8 L350 153.9 L350.5 154.1 L350.9 154.2 L351.3 154.4 L351.8 154.5 L352.2 154.7 L352.6 154.8 L353 155 L353.5 155.2 L353.9 155.3 L354.3 155.5 L354.7 155.7 L355.2 155.8 L355.6 156 L356 156.2 L356.4 156.3 L356.8 156.5 L357.3 156.7 L357.7 156.9 L358.1 157 L358.5 157.2 L358.9 157.4 L359.4 157.6 L359.8 157.8 L360.2 157.9 L360.6 158.1 L361 158.3 L361.4 158.5 L361.8 158.7 L362.3 158.9 L362.7 159.1 L363.1 159.3 L363.5 159.5 L363.9 159.7 L364.3 159.9 L364.7 160.1 L365.1 160.3 L365.5 160.5 L365.9 160.7 L366.3 160.9 L366.8 161.1 L367.2 161.4 L367.6 161.6 L368 161.8 L368.4 162 L368.8 162.2 L369.2 162.4 L369.6 162.7 L370 162.9 L370.4 163.1 L370.8 163.4 L371.2 163.6 L371.6 163.8 L372 164 L372.4 164.3 L372.8 164.5 L373.1 164.8 L373.5 165 L373.9 165.2 L374.3 165.5 L374.7 165.7 L375.1 166 L375.5 166.2 L375.9 166.5 L376.3 166.7 L376.7 167 L377.1 167.2 L377.5 167.5 L377.8 167.7 L378.2 168 L378.6 168.3 L379 168.5 L379.4 168.8 L379.8 169.1 L380.2 169.3 L380.5 169.6 L380.9 169.9 L381.3 170.1 L381.7 170.4 L382.1 170.7 L382.4 171 L382.8 171.2 L383.2 171.5 L383.6 171.8 L384 172.1 L384.3 172.4 L384.7 172.7 L385.1 173 L385.5 173.2 L385.8 173.5 L386.2 173.8 L386.6 174.1 L386.9 174.4 L387.3 174.7 L387.7 175 L388.1 175.3 L388.4 175.6 L388.8 175.9 L389.2 176.2 L389.5 176.6 L389.9 176.9 L390.3 177.2 L390.6 177.5 L391 177.8 L391.3 178.1 L391.7 178.5 L392.1 178.8 L392.4 179.1 L392.8 179.4 L393.1 179.8 L393.5 180.1 L393.9 180.4 L394.2 180.7 L394.6 181.1 L394.9 181.4 L395.3 181.8 L395.6 182.1 L396 182.4 L396.3 182.8 L396.7 183.1 L397 183.5 L397.4 183.8 L397.7 184.2 L398.1 184.5 L398.4 184.9 L398.8 185.2 L399.1 185.6 L399.5 186 L399.8 186.3 L400.1 186.7 L400.5 187.1 L400.8 187.4 L401.2 187.8 L401.5 188.2 L401.8 188.5 L402.2 188.9 L402.5 189.3 L402.9 189.7 L403.2 190.1 L403.5 190.4 L403.9 190.8 L404.2 191.2 L404.5 191.6 L404.8 192 L405.2 192.4 L405.5 192.8 L405.8 193.2 L406.2 193.6 L406.5 194 L406.8 194.4 L407.1 194.8 L407.4 195.2 L407.8 195.6 L408.1 196 L408.4 196.4 L408.7 196.8 L409 197.2 L409.4 197.6 L409.7 198.1 L410 198.5 L410.3 198.9 L410.6 199.3 L410.9 199.7 L411.3 200.2 L411.6 200.6 L411.9 201 L412.2 201.4 L412.5 201.9 L412.8 202.3 L413.1 202.7 L413.4 203.1 L413.7 203.6 L414 204 L414.3 204.5 L414.6 204.9 L414.9 205.3 L415.2 205.8 L415.5 206.2 L415.8 206.7 L416.1 207.1 L416.4 207.6 L416.7 208 L417 208.4 L417.3 208.9 L417.6 209.4 L417.9 209.8 L418.2 210.3 L418.5 210.7 L418.8 211.2 L419.1 211.6 L419.4 212.1 L419.6 212.5 L419.9 213 L420.2 213.5 L420.5 213.9 L420.8 214.4 L421.1 214.9 L421.4 215.3 L421.6 215.8 L421.9 216.3 L422.2 216.7 L422.5 217.2 L422.8 217.7 L423 218.2 L423.3 218.6 L423.6 219.1 L423.9 219.6 L424.1 220.1 L424.4 220.5 L424.7 221 L425 221.5 L425.2 222 L425.5 222.5 L425.8 222.9 L426 223.4 L426.3 223.9 L426.6 224.4 L426.8 224.9 L427.1 225.4 L427.4 225.9 L427.6 226.4 L427.9 226.8 L428.2 227.3 L428.4 227.8 L428.7 228.3 L429 228.8 L429.2 229.3 L429.5 229.8 L429.7 230.3 L430 230.8 L430.2 231.3 L430.5 231.8 L430.8 232.3 L431 232.8 L431.3 233.3 L431.5 233.8 L431.8 234.3 L432 234.8 L432.3 235.3 L432.5 235.8 L432.8 236.3 L433 236.8 L433.3 237.3 L433.5 237.8 L433.8 238.4 L434 238.9 L434.2 239.4 L434.5 239.9 L434.7 240.4 L435 240.9 L435.2 241.4 L435.5 241.9 L435.7 242.4 L435.9 243 L436.2 243.5 L436.4 244 L436.6 244.5 L436.9 245 L437.1 245.5 L437.3 246.1 L437.6 246.6 L437.8 247.1 L438 247.6 L438.3 248.1 L438.5 248.6 L438.7 249.2 L439 249.7 L439.2 250.2 L439.4 250.7 L439.7 251.2 L439.9 251.8 L440.1 252.3 L440.4 252.8 L440.6 253.3 L440.8 253.9 L441 254.4 L441.3 254.9 L441.5 255.4 L441.7 255.9 L441.9 256.5 L442.2 257 L442.4 257.5 L442.6 258 L442.8 258.6 L443.1 259.1 L443.3 259.6 L443.5 260.1 L443.7 260.7 L444 261.2 L444.2 261.7 L444.4 262.2 L444.6 262.8 L444.8 263.3 L445.1 263.8 L445.3 264.3 L445.5 264.9 L445.7 265.4 L446 265.9 L446.2 266.4 L446.4 267 L446.6 267.5 L446.8 268 L447.1 268.5 L447.3 269.1 L447.5 269.6 L447.7 270.1" stroke="#008000" stroke-width="1.1" fill="none" stroke-linejoin="round"/>
<path d="M147.4 539 L148 539.7 L148.5 540.4 L149.1 541.1 L149.7 541.7 L150.2 542.4 L150.8 543.1 L151.3 543.8 L151.9 544.4 L152.4 545.1 L152.9 545.8 L153.5 546.4 L154 547.1 L154.5 547.7 L155.1 548.4 L155.6 549.1 L156.1 549.7 L156.6 550.4 L157.1 551 L157.7 551.7 L158.2 552.3 L158.7 552.9 L159.2 553.6 L159.7 554.2 L160.2 554.9 L160.7 555.5 L161.2 556.1 L161.7 556.8 L162.1 557.4 L162.6 558 L163.1 558.6 L163.6 559.3 L164.1 559.9 L164.6 560.5 L165 561.1 L165.5 561.7 L166 562.3 L166.5 562.9 L167 563.5 L167.4 564.1 L167.9 564.7 L168.4 565.3 L168.9 565.9 L169.4 566.5 L169.8 567 L170.3 567.6 L170.8 568.2 L171.3 568.7 L171.7 569.3 L172.2 569.8 L172.7 570.4 L173.1 570.9 L173.6 571.5 L174.1 572 L174.5 572.6 L175 573.1 L175.5 573.6 L175.9 574.1 L176.4 574.7 L176.9 575.2 L177.3 575.7 L177.8 576.2 L178.2 576.7 L178.7 577.2 L179.1 577.7 L179.6 578.2 L180.1 578.7 L180.5 579.2 L180.9 579.6 L181.4 580.1 L181.8 580.6 L182.3 581.1 L182.7 581.5 L183.2 582 L183.6 582.4 L184 582.9 L184.4 583.3 L184.9 583.8 L185.3 584.2 L185.7 584.6 L186.2 585.1 L186.6 585.5 L187 585.9 L187.4 586.3 L187.8 586.8 L188.2 587.2 L188.7 587.6 L189.1 588 L189.5 588.4 L189.9 588.8 L190.3 589.2 L190.7 589.5 L191.1 589.9 L191.5 590.3 L191.9 590.7 L192.3 591.1 L192.7 591.4 L193.1 591.8 L193.5 592.2 L193.9 592.5 L194.3 592.9 L194.7 593.3 L195.1 593.6 L195.5 594 L195.9 594.3 L196.3 594.7 L196.6 595 L197 595.4 L197.4 595.7 L197.8 596 L198.2 596.4 L198.6 596.7 L198.9 597 L199.3 597.4 L199.7 597.7 L200.1 598 L200.4 598.4 L200.8 598.7 L201.2 599 L201.5 599.3 L201.9 599.6 L202.3 600 L202.7 600.3 L203 600.6 L203.4 600.9 L203.7 601.2 L204.1 601.5 L204.5 601.8 L204.8 602.1 L205.2 602.5 L205.5 602.8 L205.9 603.1 L206.3 603.4 L206.6 603.7 L207 604 L207.3 604.3 L207.7 604.6 L208 604.9 L208.4 605.2 L208.7 605.5 L209.1 605.7 L209.4 606 L209.7 606.3 L210.1 606.6 L210.4 606.9 L210.8 607.2 L211.1 607.5 L211.4 607.8 L211.8 608.1 L212.1 608.3 L212.5 608.6 L212.8 608.9 L213.1 609.2 L213.5 609.5 L213.8 609.8 L214.1 610 L214.5 610.3 L214.8 610.6 L215.1 610.9 L215.5 611.1 L215.8 611.4 L216.1 611.7 L216.5 612 L216.8 612.2 L217.1 612.5 L217.4 612.8 L217.8 613 L218.1 613.3 L218.4 613.6 L218.7 613.8 L219.1 614.1 L219.4 614.4 L219.7 614.6 L220 614.9 L220.4 615.1 L220.7 615.4 L221 615.7 L221.3 615.9 L221.7 616.2 L222 616.4 L222.3 616.7 L222.6 616.9 L222.9 617.2 L223.2 617.4 L223.6 617.7 L223.9 617.9 L224.2 618.2 L224.5 618.4 L224.8 618.7 L225.1 618.9 L225.5 619.2 L225.8 619.4 L226.1 619.7 L226.4 619.9 L226.7 620.2 L227 620.4 L227.3 620.7 L227.6 620.9 L227.9 621.1 L228.3 621.4 L228.6 621.6 L228.9 621.9 L229.2 622.1 L229.5 622.3 L229.8 622.6 L230.1 622.8 L230.4 623.1 L230.7 623.3 L231 623.5 L231.3 623.8 L231.6 624 L231.9 624.2 L232.2 624.5 L232.5 624.7 L232.8 624.9 L233.1 625.2 L233.4 625.4 L233.7 625.6 L234 625.9 L234.3 626.1 L234.6 626.3 L234.9 626.5 L235.2 626.8 L235.4 627 L235.7 627.2 L236 627.5 L236.3 627.7 L236.6 627.9 L236.9 628.1 L237.2 628.4 L237.5 628.6 L237.7 628.8 L238 629 L238.3 629.3 L238.6 629.5 L238.9 629.7 L239.2 629.9 L239.4 630.2 L239.7 630.4 L240 630.6 L240.3 630.8 L240.6 631.1 L240.8 631.3 L241.1 631.5 L241.4 631.7 L241.7 631.9 L241.9 632.2 L242.2 632.4 L242.5 632.6 L242.7 632.8 L243 633 L243.3 633.3 L243.5 633.5 L243.8 633.7 L244.1 633.9 L244.3 634.1 L244.6 634.4 L244.9 634.6 L245.1 634.8 L245.4 635 L245.7 635.2 L245.9 635.4 L246.2 635.7 L246.5 635.9 L246.7 636.1 L247 636.3 L247.3 636.5 L247.5 636.7 L247.8 636.9 L248.1 637.2 L248.3 637.4 L248.6 637.6 L248.8 637.8 L249.1 638 L249.4 638.2 L249.6 638.4 L249.9 638.6 L250.2 638.9 L250.5 639.1 L250.7 639.3 L251 639.5 L251.3 639.7 L251.5 639.9 L251.8 640.1 L252.1 640.3 L252.4 640.5 L252.7 640.7 L252.9 640.9 L253.2 641.1 L253.5 641.3 L253.8 641.6 L254.1 641.8 L254.3 642 L254.6 642.2 L254.9 642.4 L255.2 642.6 L255.5 642.8 L255.8 643 L256.1 643.2 L256.4 643.4 L256.7 643.6 L256.9 643.8 L257.2 644 L257.5 644.2 L257.8 644.4 L258.1 644.6 L258.4 644.8 L258.7 645 L259 645.2 L259.3 645.4 L259.6 645.6 L259.9 645.8 L260.2 646 L260.5 646.2 L260.8 646.4 L261.1 646.6 L261.4 646.8 L261.7 647 L262 647.2 L262.3 647.4 L262.6 647.6 L262.9 647.8 L263.2 648 L263.5 648.2 L263.8 648.4 L264 648.6 L264.3 648.8 L264.6 649 L264.9 649.3 L265.2 649.5 L265.5 649.7 L265.8 649.9 L266.1 650.1 L266.4 650.3 L266.7 650.5 L267 650.7 L267.3 650.9 L267.6 651.1 L267.9 651.3 L268.1 651.5 L268.4 651.7 L268.7 651.9 L269 652.1 L269.3 652.3 L269.6 652.6 L269.8 652.8 L270.1 653 L270.4 653.2 L270.7 653.4 L271 653.6 L271.2 653.8 L271.5 654 L271.8 654.2 L272.1 654.4 L272.3 654.7 L272.6 654.9 L272.9 655.1 L273.2 655.3 L273.4 655.5 L273.7 655.7 L274 655.9 L274.2 656.2 L274.5 656.4 L274.8 656.6 L275 656.8 L275.3 657 L275.5 657.2 L275.8 657.5 L276.1 657.7 L276.3 657.9 L276.6 658.1 L276.8 658.3 L277.1 658.5 L277.4 658.8 L277.6 659 L277.9 659.2 L278.1 659.4 L278.4 659.6 L278.6 659.9 L278.9 660.1 L279.2 660.3 L279.4 660.5 L279.7 660.7 L279.9 661 L280.2 661.2 L280.4 661.4 L280.7 661.6 L280.9 661.8 L281.2 662.1 L281.5 662.3 L281.7 662.5 L282 662.7 L282.2 663 L282.5 663.2 L282.8 663.4 L283 663.6 L283.3 663.8 L283.5 664.1 L283.8 664.3 L284.1 664.5 L284.3 664.7 L284.6 665 L284.8 665.2 L285.1 665.4 L285.4 665.6 L285.6 665.8 L285.9 666.1 L286.2 666.3 L286.5 666.5 L286.7 666.7 L287 667 L287.3 667.2 L287.5 667.4 L287.8 667.6 L288.1 667.9 L288.4 668.1 L288.7 668.3 L288.9 668.5 L289.2 668.8 L289.5 669 L289.8 669.2 L290 669.4 L290.3 669.7 L290.6 669.9 L290.9 670.1 L291.2 670.3 L291.5 670.6 L291.8 670.8 L292 671 L292.3 671.2 L292.6 671.5 L292.9 671.7 L293.2 671.9 L293.5 672.1 L293.8 672.4 L294.1 672.6 L294.4 672.8 L294.6 673.1 L294.9 673.3 L295.2 673.5 L295.5 673.8 L295.8 674 L296.1 674.2 L296.4 674.5 L296.7 674.7 L297 674.9 L297.3 675.2 L297.6 675.4 L297.9 675.6 L298.2 675.9 L298.5 676.1 L298.8 676.3 L299.1 676.6 L299.4 676.8 L299.7 677 L300 677.3 L300.3 677.5 L300.6 677.8 L300.9 678 L301.2 678.2 L301.5 678.5 L301.8 678.7 L302.1 679 L302.4 679.2 L302.7 679.5 L303 679.7 L303.3 679.9 L303.6 680.2 L303.9 680.4 L304.2 680.7 L304.5 680.9 L304.8 681.2 L305.1 681.4 L305.4 681.7 L305.7 681.9 L305.9 682.2 L306.2 682.4 L306.5 682.7 L306.8 682.9 L307.1 683.2 L307.4 683.5 L307.7 683.7 L308 684 L308.3 684.2 L308.6 684.5 L308.9 684.7 L309.2 685 L309.5 685.3 L309.8 685.5 L310.1 685.8 L310.4 686 L310.7 686.3 L311 686.6 L311.3 686.8 L311.6 687.1 L311.9 687.4 L312.2 687.6 L312.5 687.9 L312.8 688.2 L313.1 688.4 L313.4 688.7 L313.7 689 L314 689.2 L314.3 689.5 L314.6 689.8 L314.9 690.1 L315.2 690.3 L315.5 690.6 L315.8 690.9 L316.1 691.1 L316.4 691.4 L316.7 691.7 L317 692 L317.3 692.2 L317.6 692.5 L317.9 692.8 L318.2 693.1 L318.5 693.4 L318.8 693.6 L319.1 693.9 L319.4 694.2 L319.7 694.5 L320 694.8 L320.3 695 L320.6 695.3 L320.9 695.6 L321.2 695.9 L321.5 696.2 L321.8 696.5 L322.1 696.8 L322.4 697 L322.7 697.3 L323 697.6 L323.3 697.9 L323.6 698.2 L323.9 698.5 L324.2 698.8 L324.5 699.1 L324.9 699.4 L325.2 699.7 L325.5 699.9 L325.8 700.2 L326.1 700.5 L326.4 700.8 L326.7 701.1 L327 701.4 L327.3 701.7 L327.6 702 L327.9 702.3 L328.2 702.6 L328.6 702.9 L328.9 703.2 L329.2 703.5 L329.5 703.8 L329.8 704.1 L330.1 704.4 L330.4 704.7 L330.7 705 L331 705.3 L331.4 705.6 L331.7 705.9 L332 706.2 L332.3 706.6 L332.6 706.9 L332.9 707.2 L333.2 707.5 L333.6 707.8 L333.9 708.1 L334.2 708.4 L334.5 708.7 L334.8 709 L335.1 709.4 L335.5 709.7 L335.8 710 L336.1 710.3 L336.4 710.6 L336.7 710.9 L337 711.3 L337.4 711.6 L337.7 711.9 L338 712.2 L338.3 712.5 L338.6 712.9 L339 713.2 L339.3 713.5 L339.6 713.8 L339.9 714.2 L340.2 714.5 L340.6 714.8 L340.9 715.2 L341.2 715.5 L341.5 715.8 L341.9 716.1 L342.2 716.5 L342.5 716.8 L342.8 717.1 L343.1 717.5 L343.5 717.8 L343.8 718.2 L344.1 718.5M155.7 491.8 L156.3 492.6 L157 493.5 L157.6 494.3 L158.2 495.1 L158.8 496 L159.4 496.8 L160 497.6 L160.6 498.5 L161.2 499.3 L161.8 500.1 L162.4 500.9 L163 501.7 L163.6 502.5 L164.2 503.3 L164.8 504.1 L165.4 504.9 L165.9 505.7 L166.5 506.5 L167.1 507.3 L167.6 508.1 L168.2 508.9 L168.8 509.7 L169.3 510.5 L169.9 511.3 L170.4 512.1 L171 512.9 L171.5 513.6 L172 514.4 L172.6 515.2 L173.1 515.9 L173.7 516.7 L174.2 517.5 L174.7 518.2 L175.3 519 L175.8 519.7 L176.3 520.5 L176.9 521.2 L177.4 521.9 L177.9 522.7 L178.5 523.4 L179 524.1 L179.5 524.8 L180 525.5 L180.6 526.3 L181.1 527 L181.6 527.7 L182.2 528.3 L182.7 529 L183.2 529.7 L183.7 530.4 L184.2 531.1 L184.8 531.7 L185.3 532.4 L185.8 533.1 L186.3 533.7 L186.8 534.4 L187.4 535 L187.9 535.6 L188.4 536.3 L188.9 536.9 L189.4 537.5 L189.9 538.1 L190.4 538.8 L190.9 539.4 L191.4 540 L191.9 540.6 L192.4 541.2 L192.9 541.8 L193.4 542.3 L193.9 542.9 L194.4 543.5 L194.9 544.1 L195.3 544.6 L195.8 545.2 L196.3 545.7 L196.8 546.3 L197.3 546.8 L197.7 547.4 L198.2 547.9 L198.7 548.4 L199.1 549 L199.6 549.5 L200.1 550 L200.5 550.5 L201 551 L201.5 551.5 L201.9 552 L202.4 552.5 L202.8 553 L203.3 553.5 L203.7 553.9 L204.2 554.4 L204.6 554.9 L205.1 555.4 L205.5 555.8 L206 556.3 L206.4 556.7 L206.8 557.2 L207.3 557.6 L207.7 558.1 L208.2 558.5 L208.6 558.9 L209 559.4 L209.5 559.8 L209.9 560.2 L210.3 560.7 L210.7 561.1 L211.2 561.5 L211.6 561.9 L212 562.3 L212.4 562.8 L212.8 563.2 L213.3 563.6 L213.7 564 L214.1 564.4 L214.5 564.8 L214.9 565.2 L215.3 565.6 L215.7 566 L216.2 566.4 L216.6 566.8 L217 567.1 L217.4 567.5 L217.8 567.9 L218.2 568.3 L218.6 568.7 L219 569.1 L219.4 569.4 L219.8 569.8 L220.2 570.2 L220.6 570.6 L221 570.9 L221.4 571.3 L221.7 571.7 L222.1 572 L222.5 572.4 L222.9 572.8 L223.3 573.1 L223.7 573.5 L224.1 573.9 L224.4 574.2 L224.8 574.6 L225.2 574.9 L225.6 575.3 L226 575.7 L226.3 576 L226.7 576.4 L227.1 576.7 L227.5 577.1 L227.8 577.4 L228.2 577.8 L228.6 578.1 L229 578.5 L229.3 578.8 L229.7 579.1 L230.1 579.5 L230.4 579.8 L230.8 580.2 L231.2 580.5 L231.5 580.8 L231.9 581.2 L232.3 581.5 L232.6 581.8 L233 582.2 L233.4 582.5 L233.7 582.8 L234.1 583.2 L234.5 583.5 L234.8 583.8 L235.2 584.1 L235.5 584.5 L235.9 584.8 L236.3 585.1 L236.6 585.4 L237 585.7 L237.3 586.1 L237.7 586.4 L238 586.7 L238.4 587 L238.7 587.3 L239.1 587.6 L239.5 587.9 L239.8 588.3 L240.2 588.6 L240.5 588.9 L240.9 589.2 L241.2 589.5 L241.6 589.8 L241.9 590.1 L242.3 590.4 L242.6 590.7 L243 591 L243.3 591.3 L243.6 591.6 L244 591.9 L244.3 592.2 L244.7 592.5 L245 592.8 L245.4 593.1 L245.7 593.4 L246 593.7 L246.4 594 L246.7 594.3 L247.1 594.6 L247.4 594.9 L247.7 595.1 L248.1 595.4 L248.4 595.7 L248.7 596 L249.1 596.3 L249.4 596.6 L249.7 596.9 L250.1 597.2 L250.4 597.5 L250.7 597.7 L251.1 598 L251.4 598.3 L251.7 598.6 L252 598.9 L252.4 599.2 L252.7 599.4 L253 599.7 L253.3 600 L253.7 600.3 L254 600.6 L254.3 600.8 L254.6 601.1 L254.9 601.4 L255.3 601.7 L255.6 602 L255.9 602.2 L256.2 602.5 L256.5 602.8 L256.8 603.1 L257.1 603.3 L257.5 603.6 L257.8 603.9 L258.1 604.2 L258.4 604.4 L258.7 604.7 L259 605 L259.3 605.3 L259.6 605.5 L259.9 605.8 L260.2 606.1 L260.5 606.3 L260.8 606.6 L261.1 606.9 L261.4 607.2 L261.7 607.4 L262 607.7 L262.3 608 L262.6 608.2 L262.9 608.5 L263.2 608.8 L263.5 609 L263.8 609.3 L264.1 609.6 L264.4 609.8 L264.7 610.1 L265 610.4 L265.3 610.6 L265.6 610.9 L265.8 611.2 L266.1 611.4 L266.4 611.7 L266.7 612 L267 612.2 L267.3 612.5 L267.6 612.8 L267.9 613 L268.2 613.3 L268.5 613.5 L268.8 613.8 L269.1 614.1 L269.4 614.3 L269.7 614.6 L270 614.8 L270.3 615.1 L270.6 615.3 L270.9 615.6 L271.2 615.9 L271.5 616.1 L271.8 616.4 L272.1 616.6 L272.4 616.9 L272.7 617.1 L273 617.4 L273.4 617.6 L273.7 617.9 L274 618.1 L274.3 618.4 L274.6 618.6 L274.9 618.9 L275.2 619.2 L275.6 619.4 L275.9 619.7 L276.2 619.9 L276.5 620.2 L276.9 620.4 L277.2 620.6 L277.5 620.9 L277.8 621.1 L278.2 621.4 L278.5 621.6 L278.8 621.9 L279.1 622.1 L279.5 622.4 L279.8 622.6 L280.1 622.9 L280.4 623.1 L280.8 623.4 L281.1 623.6 L281.4 623.9 L281.8 624.1 L282.1 624.4 L282.4 624.6 L282.8 624.9 L283.1 625.1 L283.4 625.4 L283.7 625.6 L284.1 625.9 L284.4 626.1 L284.7 626.4 L285.1 626.6 L285.4 626.9 L285.7 627.1 L286 627.4 L286.4 627.6 L286.7 627.9 L287 628.1 L287.3 628.4 L287.7 628.6 L288 628.9 L288.3 629.1 L288.6 629.4 L289 629.6 L289.3 629.9 L289.6 630.1 L289.9 630.4 L290.2 630.7 L290.5 630.9 L290.9 631.2 L291.2 631.4 L291.5 631.7 L291.8 631.9 L292.1 632.2 L292.4 632.5 L292.7 632.7 L293 633 L293.3 633.2 L293.6 633.5 L294 633.8 L294.3 634 L294.6 634.3 L294.9 634.5 L295.2 634.8 L295.5 635.1 L295.7 635.3 L296 635.6 L296.3 635.9 L296.6 636.1 L296.9 636.4 L297.2 636.6 L297.5 636.9 L297.8 637.2 L298.1 637.4 L298.4 637.7 L298.7 638 L299 638.3 L299.2 638.5 L299.5 638.8 L299.8 639.1 L300.1 639.3 L300.4 639.6 L300.7 639.9 L300.9 640.1 L301.2 640.4 L301.5 640.7 L301.8 640.9 L302.1 641.2 L302.4 641.5 L302.7 641.8 L302.9 642 L303.2 642.3 L303.5 642.6 L303.8 642.8 L304.1 643.1 L304.4 643.4 L304.6 643.7 L304.9 643.9 L305.2 644.2 L305.5 644.5 L305.8 644.8 L306.1 645 L306.4 645.3 L306.7 645.6 L306.9 645.9 L307.2 646.1 L307.5 646.4 L307.8 646.7 L308.1 646.9 L308.4 647.2 L308.7 647.5 L309 647.8 L309.3 648 L309.6 648.3 L309.9 648.6 L310.2 648.9 L310.5 649.1 L310.8 649.4 L311.1 649.7 L311.4 650 L311.7 650.2 L312 650.5 L312.3 650.8 L312.6 651.1 L313 651.3 L313.3 651.6 L313.6 651.9 L313.9 652.2 L314.2 652.5 L314.5 652.7 L314.8 653 L315.1 653.3 L315.5 653.6 L315.8 653.8 L316.1 654.1 L316.4 654.4 L316.7 654.7 L317 655 L317.4 655.2 L317.7 655.5 L318 655.8 L318.3 656.1 L318.7 656.4 L319 656.6 L319.3 656.9 L319.6 657.2 L320 657.5 L320.3 657.8 L320.6 658.1 L320.9 658.4 L321.3 658.6 L321.6 658.9 L321.9 659.2 L322.2 659.5 L322.6 659.8 L322.9 660.1 L323.2 660.4 L323.6 660.7 L323.9 661 L324.2 661.2 L324.5 661.5 L324.9 661.8 L325.2 662.1 L325.5 662.4 L325.9 662.7 L326.2 663 L326.5 663.3 L326.9 663.6 L327.2 663.9 L327.5 664.2 L327.9 664.5 L328.2 664.8 L328.5 665.1 L328.9 665.4 L329.2 665.7 L329.5 666 L329.9 666.3 L330.2 666.6 L330.5 666.9 L330.9 667.2 L331.2 667.6 L331.5 667.9 L331.8 668.2 L332.2 668.5 L332.5 668.8 L332.8 669.1 L333.2 669.4 L333.5 669.7 L333.8 670.1 L334.2 670.4 L334.5 670.7 L334.8 671 L335.2 671.3 L335.5 671.6 L335.8 672 L336.2 672.3 L336.5 672.6 L336.8 672.9 L337.1 673.3 L337.5 673.6 L337.8 673.9 L338.1 674.2 L338.5 674.6 L338.8 674.9 L339.1 675.2 L339.5 675.5 L339.8 675.9 L340.1 676.2 L340.5 676.5 L340.8 676.9 L341.1 677.2 L341.4 677.5 L341.8 677.9 L342.1 678.2 L342.4 678.5 L342.8 678.9 L343.1 679.2 L343.4 679.6 L343.8 679.9 L344.1 680.2 L344.4 680.6 L344.8 680.9 L345.1 681.3 L345.4 681.6 L345.8 681.9 L346.1 682.3 L346.4 682.6 L346.8 683 L347.1 683.3 L347.4 683.7 L347.8 684 L348.1 684.4 L348.4 684.7 L348.8 685.1 L349.1 685.4 L349.4 685.8 L349.8 686.1 L350.1 686.5 L350.4 686.8 L350.8 687.2 L351.1 687.6 L351.5 687.9 L351.8 688.3 L352.1 688.6 L352.5 689 L352.8 689.3 L353.2 689.7 L353.5 690.1 L353.8 690.4 L354.2 690.8 L354.5 691.1 L354.9 691.5 L355.2 691.9 L355.5 692.2 L355.9 692.6 L356.2 693 L356.6 693.3 L356.9 693.7 L357.3 694.1 L357.6 694.5 L358 694.8 L358.3 695.2 L358.7 695.6 L359 695.9 L359.3 696.3 L359.7 696.7 L360 697.1 L360.4 697.4 L360.7 697.8 L361.1 698.2 L361.4 698.6 L361.8 699 L362.1 699.3 L362.5 699.7 L362.8 700.1 L363.2 700.5 L363.5 700.9 L363.9 701.3 L364.2 701.7 L364.6 702 L364.9 702.4 L365.3 702.8 L365.7 703.2 L366 703.6 L366.4 704 L366.7 704.4 L367.1 704.8 L367.4 705.2 L367.8 705.6 L368.1 706 L368.5 706.4 L368.8 706.8 L369.2 707.2 L369.6 707.6 L369.9 708 L370.3 708.4 L370.6 708.8 L371 709.2 L371.3 709.6 L371.7 710 L372 710.4 L372.4 710.9 L372.8 711.3 L373.1 711.7 L373.5 712.1 L373.8 712.5M167.2 418.3 L167.9 419.4 L168.6 420.4 L169.3 421.5 L170 422.6 L170.7 423.7 L171.4 424.7 L172.1 425.8 L172.8 426.9 L173.5 427.9 L174.2 429 L174.9 430 L175.5 431.1 L176.2 432.1 L176.9 433.2 L177.5 434.2 L178.2 435.3 L178.8 436.3 L179.5 437.3 L180.1 438.3 L180.8 439.4 L181.4 440.4 L182 441.4 L182.7 442.4 L183.3 443.4 L183.9 444.5 L184.5 445.5 L185.2 446.5 L185.8 447.5 L186.4 448.5 L187 449.4 L187.6 450.4 L188.2 451.4 L188.8 452.4 L189.4 453.4 L190 454.3 L190.7 455.3 L191.3 456.2 L191.9 457.2 L192.5 458.1 L193.1 459.1 L193.7 460 L194.3 460.9 L194.9 461.8 L195.5 462.8 L196.1 463.7 L196.7 464.6 L197.3 465.5 L197.9 466.3 L198.5 467.2 L199 468.1 L199.6 469 L200.2 469.8 L200.8 470.7 L201.4 471.5 L202 472.4 L202.6 473.2 L203.2 474 L203.8 474.9 L204.3 475.7 L204.9 476.5 L205.5 477.3 L206.1 478.1 L206.6 478.9 L207.2 479.7 L207.8 480.5 L208.3 481.2 L208.9 482 L209.5 482.8 L210 483.5 L210.6 484.3 L211.1 485 L211.7 485.7 L212.2 486.5 L212.8 487.2 L213.3 487.9 L213.9 488.6 L214.4 489.3 L215 490 L215.5 490.7 L216 491.4 L216.6 492.1 L217.1 492.7 L217.6 493.4 L218.1 494.1 L218.7 494.7 L219.2 495.4 L219.7 496 L220.2 496.6 L220.7 497.3 L221.3 497.9 L221.8 498.5 L222.3 499.1 L222.8 499.7 L223.3 500.3 L223.8 500.9 L224.3 501.5 L224.8 502.1 L225.3 502.7 L225.8 503.3 L226.3 503.8 L226.8 504.4 L227.3 505 L227.8 505.5 L228.3 506.1 L228.8 506.6 L229.3 507.2 L229.7 507.7 L230.2 508.3 L230.7 508.8 L231.2 509.3 L231.7 509.9 L232.1 510.4 L232.6 510.9 L233.1 511.5 L233.6 512 L234 512.5 L234.5 513 L235 513.5 L235.4 514 L235.9 514.5 L236.4 515 L236.8 515.5 L237.3 516 L237.7 516.5 L238.2 517 L238.7 517.5 L239.1 518 L239.6 518.5 L240 519 L240.5 519.5 L240.9 519.9 L241.4 520.4 L241.8 520.9 L242.2 521.4 L242.7 521.9 L243.1 522.3 L243.6 522.8 L244 523.3 L244.4 523.7 L244.9 524.2 L245.3 524.7 L245.8 525.1 L246.2 525.6 L246.6 526.1 L247 526.5 L247.5 527 L247.9 527.4 L248.3 527.9 L248.8 528.3 L249.2 528.8 L249.6 529.2 L250 529.7 L250.5 530.1 L250.9 530.6 L251.3 531 L251.7 531.5 L252.1 531.9 L252.5 532.3 L253 532.8 L253.4 533.2 L253.8 533.7 L254.2 534.1 L254.6 534.5 L255 534.9 L255.5 535.4 L255.9 535.8 L256.3 536.2 L256.7 536.6 L257.1 537.1 L257.5 537.5 L257.9 537.9 L258.3 538.3 L258.7 538.7 L259.1 539.1 L259.5 539.5 L259.9 540 L260.4 540.4 L260.8 540.8 L261.2 541.2 L261.6 541.6 L262 542 L262.4 542.4 L262.8 542.8 L263.2 543.2 L263.6 543.6 L264 544 L264.4 544.4 L264.8 544.8 L265.2 545.2 L265.6 545.6 L265.9 545.9 L266.3 546.3 L266.7 546.7 L267.1 547.1 L267.5 547.5 L267.9 547.9 L268.3 548.3 L268.7 548.7 L269.1 549 L269.5 549.4 L269.8 549.8 L270.2 550.2 L270.6 550.6 L271 550.9 L271.4 551.3 L271.8 551.7 L272.2 552.1 L272.5 552.4 L272.9 552.8 L273.3 553.2 L273.7 553.6 L274 553.9 L274.4 554.3 L274.8 554.7 L275.2 555 L275.5 555.4 L275.9 555.8 L276.3 556.1 L276.7 556.5 L277 556.9 L277.4 557.2 L277.8 557.6 L278.1 558 L278.5 558.3 L278.9 558.7 L279.2 559 L279.6 559.4 L280 559.8 L280.3 560.1 L280.7 560.5 L281 560.8 L281.4 561.2 L281.8 561.6 L282.1 561.9 L282.5 562.3 L282.8 562.6 L283.2 563 L283.5 563.3 L283.9 563.7 L284.2 564 L284.6 564.4 L284.9 564.7 L285.3 565.1 L285.6 565.4 L286 565.8 L286.3 566.1 L286.6 566.5 L287 566.8 L287.3 567.2 L287.7 567.5 L288 567.9 L288.3 568.2 L288.7 568.6 L289 568.9 L289.4 569.3 L289.7 569.6 L290 570 L290.4 570.3 L290.7 570.7 L291 571 L291.4 571.3 L291.7 571.7 L292 572 L292.4 572.4 L292.7 572.7 L293 573.1 L293.4 573.4 L293.7 573.7 L294 574.1 L294.4 574.4 L294.7 574.8 L295 575.1 L295.4 575.4 L295.7 575.8 L296 576.1 L296.4 576.4 L296.7 576.8 L297 577.1 L297.4 577.4 L297.7 577.8 L298.1 578.1 L298.4 578.4 L298.8 578.8 L299.1 579.1 L299.5 579.4 L299.8 579.7 L300.2 580.1 L300.5 580.4 L300.9 580.7 L301.2 581.1 L301.6 581.4 L302 581.7 L302.3 582 L302.7 582.4 L303 582.7 L303.4 583 L303.8 583.3 L304.1 583.6 L304.5 584 L304.9 584.3 L305.2 584.6 L305.6 584.9 L306 585.3 L306.3 585.6 L306.7 585.9 L307.1 586.2 L307.5 586.5 L307.8 586.9 L308.2 587.2 L308.6 587.5 L308.9 587.8 L309.3 588.1 L309.7 588.5 L310.1 588.8 L310.4 589.1 L310.8 589.4 L311.2 589.7 L311.6 590.1 L311.9 590.4 L312.3 590.7 L312.7 591 L313.1 591.3 L313.4 591.7 L313.8 592 L314.2 592.3 L314.5 592.6 L314.9 593 L315.3 593.3 L315.7 593.6 L316 593.9 L316.4 594.2 L316.8 594.6 L317.1 594.9 L317.5 595.2 L317.9 595.6 L318.2 595.9 L318.6 596.2 L319 596.5 L319.3 596.9 L319.7 597.2 L320.1 597.5 L320.4 597.9 L320.8 598.2 L321.1 598.5 L321.5 598.8 L321.8 599.2 L322.2 599.5 L322.5 599.8 L322.9 600.2 L323.2 600.5 L323.6 600.8 L323.9 601.2 L324.3 601.5 L324.6 601.9 L325 602.2 L325.3 602.5 L325.7 602.9 L326 603.2 L326.3 603.6 L326.7 603.9 L327 604.2 L327.3 604.6 L327.7 604.9 L328 605.3 L328.3 605.6 L328.7 605.9 L329 606.3 L329.3 606.6 L329.6 607 L330 607.3 L330.3 607.7 L330.6 608 L330.9 608.4 L331.3 608.7 L331.6 609.1 L331.9 609.4 L332.2 609.8 L332.6 610.1 L332.9 610.5 L333.2 610.8 L333.5 611.2 L333.8 611.5 L334.2 611.9 L334.5 612.2 L334.8 612.6 L335.1 612.9 L335.5 613.3 L335.8 613.6 L336.1 614 L336.4 614.3 L336.8 614.7 L337.1 615 L337.4 615.4 L337.7 615.7 L338.1 616.1 L338.4 616.4 L338.7 616.8 L339 617.1 L339.4 617.5 L339.7 617.8 L340 618.2 L340.4 618.6 L340.7 618.9 L341 619.3 L341.4 619.6 L341.7 620 L342.1 620.3 L342.4 620.7 L342.7 621 L343.1 621.4 L343.4 621.7 L343.8 622.1 L344.1 622.5 L344.5 622.8 L344.8 623.2 L345.2 623.5 L345.5 623.9 L345.9 624.2 L346.2 624.6 L346.6 624.9 L346.9 625.3 L347.3 625.7 L347.6 626 L348 626.4 L348.4 626.7 L348.7 627.1 L349.1 627.5 L349.4 627.8 L349.8 628.2 L350.2 628.5 L350.5 628.9 L350.9 629.3 L351.3 629.6 L351.6 630 L352 630.3 L352.4 630.7 L352.7 631.1 L353.1 631.4 L353.5 631.8 L353.8 632.2 L354.2 632.5 L354.6 632.9 L354.9 633.3 L355.3 633.7 L355.7 634 L356.1 634.4 L356.4 634.8 L356.8 635.1 L357.2 635.5 L357.5 635.9 L357.9 636.3 L358.3 636.6 L358.7 637 L359 637.4 L359.4 637.8 L359.8 638.1 L360.2 638.5 L360.6 638.9 L360.9 639.3 L361.3 639.7 L361.7 640.1 L362.1 640.4 L362.4 640.8 L362.8 641.2 L363.2 641.6 L363.6 642 L363.9 642.4 L364.3 642.8 L364.7 643.2 L365.1 643.6 L365.5 644 L365.8 644.4 L366.2 644.8 L366.6 645.2 L367 645.6 L367.3 646 L367.7 646.4 L368.1 646.8 L368.5 647.2 L368.8 647.6 L369.2 648 L369.6 648.4 L370 648.8 L370.4 649.2 L370.7 649.6 L371.1 650 L371.5 650.4 L371.9 650.8 L372.2 651.3 L372.6 651.7 L373 652.1 L373.4 652.5 L373.7 652.9 L374.1 653.4 L374.5 653.8 L374.9 654.2 L375.2 654.6 L375.6 655 L376 655.5 L376.4 655.9 L376.7 656.3 L377.1 656.8 L377.5 657.2 L377.9 657.6 L378.2 658 L378.6 658.5 L379 658.9 L379.4 659.3 L379.7 659.8 L380.1 660.2 L380.5 660.7 L380.9 661.1 L381.3 661.5 L381.6 662 L382 662.4 L382.4 662.9 L382.8 663.3 L383.1 663.7 L383.5 664.2 L383.9 664.6 L384.3 665.1 L384.7 665.5 L385 666 L385.4 666.4 L385.8 666.9 L386.2 667.3 L386.6 667.8 L386.9 668.2 L387.3 668.7 L387.7 669.1 L388.1 669.6 L388.5 670.1 L388.9 670.5 L389.2 671 L389.6 671.4 L390 671.9 L390.4 672.4 L390.8 672.8 L391.2 673.3 L391.6 673.7 L391.9 674.2 L392.3 674.7 L392.7 675.1 L393.1 675.6 L393.5 676.1 L393.9 676.6 L394.3 677 L394.7 677.5 L395.1 678 L395.4 678.5 L395.8 678.9 L396.2 679.4 L396.6 679.9 L397 680.4 L397.4 680.8 L397.8 681.3 L398.2 681.8 L398.6 682.3 L399 682.8 L399.4 683.3 L399.8 683.7 L400.2 684.2 L400.6 684.7 L401 685.2 L401.4 685.7 L401.8 686.2 L402.2 686.7 L402.5 687.2 L402.9 687.7 L403.3 688.2 L403.7 688.7 L404.1 689.2 L404.5 689.7 L404.9 690.2 L405.3 690.7 L405.7 691.2 L406.1 691.7 L406.5 692.2 L407 692.7 L407.4 693.2 L407.8 693.7 L408.2 694.3 L408.6 694.8 L409 695.3 L409.4 695.8 L409.8 696.3 L410.2 696.8 L410.6 697.4 L411 697.9 L411.4 698.4 L411.8 698.9 L412.2 699.5 L412.6 700 L413 700.5 L413.4 701.1 L413.8 701.6 L414.2 702.1 L414.6 702.7 L415.1 703.2M177.7 343.3 L178.5 344.7 L179.2 346 L180 347.3 L180.8 348.6 L181.6 350 L182.4 351.3 L183.1 352.6 L183.9 353.9 L184.7 355.2 L185.4 356.5 L186.2 357.8 L186.9 359.1 L187.6 360.4 L188.4 361.6 L189.1 362.9 L189.8 364.2 L190.6 365.5 L191.3 366.7 L192 368 L192.7 369.3 L193.4 370.5 L194.1 371.8 L194.8 373 L195.5 374.3 L196.2 375.5 L196.9 376.8 L197.6 378 L198.3 379.2 L198.9 380.4 L199.6 381.7 L200.3 382.9 L201 384.1 L201.6 385.3 L202.3 386.5 L203 387.7 L203.7 388.8 L204.3 390 L205 391.2 L205.7 392.3 L206.3 393.5 L207 394.6 L207.7 395.8 L208.3 396.9 L209 398 L209.7 399.1 L210.3 400.2 L211 401.3 L211.7 402.4 L212.3 403.5 L213 404.6 L213.6 405.7 L214.3 406.7 L214.9 407.8 L215.6 408.8 L216.2 409.9 L216.9 410.9 L217.5 411.9 L218.2 412.9 L218.8 413.9 L219.5 414.9 L220.1 415.9 L220.8 416.9 L221.4 417.9 L222 418.8 L222.7 419.8 L223.3 420.8 L223.9 421.7 L224.5 422.6 L225.2 423.6 L225.8 424.5 L226.4 425.4 L227 426.3 L227.6 427.2 L228.2 428.1 L228.8 429 L229.4 429.8 L230 430.7 L230.6 431.6 L231.2 432.4 L231.8 433.2 L232.4 434.1 L233 434.9 L233.6 435.7 L234.2 436.5 L234.7 437.3 L235.3 438.1 L235.9 438.9 L236.5 439.7 L237 440.5 L237.6 441.2 L238.2 442 L238.7 442.7 L239.3 443.5 L239.9 444.2 L240.4 445 L241 445.7 L241.5 446.4 L242.1 447.1 L242.7 447.8 L243.2 448.5 L243.7 449.2 L244.3 449.9 L244.8 450.6 L245.4 451.3 L245.9 452 L246.5 452.7 L247 453.3 L247.5 454 L248.1 454.7 L248.6 455.3 L249.1 456 L249.7 456.6 L250.2 457.3 L250.7 457.9 L251.2 458.5 L251.8 459.2 L252.3 459.8 L252.8 460.4 L253.3 461.1 L253.8 461.7 L254.3 462.3 L254.9 462.9 L255.4 463.5 L255.9 464.2 L256.4 464.8 L256.9 465.4 L257.4 466 L257.9 466.6 L258.4 467.2 L258.9 467.8 L259.4 468.4 L259.9 468.9 L260.4 469.5 L260.9 470.1 L261.4 470.7 L261.9 471.3 L262.3 471.9 L262.8 472.5 L263.3 473 L263.8 473.6 L264.3 474.2 L264.8 474.7 L265.2 475.3 L265.7 475.9 L266.2 476.4 L266.7 477 L267.1 477.6 L267.6 478.1 L268.1 478.7 L268.6 479.2 L269 479.8 L269.5 480.3 L270 480.9 L270.4 481.4 L270.9 482 L271.4 482.5 L271.8 483.1 L272.3 483.6 L272.8 484.1 L273.2 484.7 L273.7 485.2 L274.1 485.7 L274.6 486.3 L275.1 486.8 L275.5 487.3 L276 487.8 L276.4 488.4 L276.9 488.9 L277.3 489.4 L277.8 489.9 L278.2 490.4 L278.7 490.9 L279.2 491.4 L279.6 492 L280.1 492.5 L280.5 493 L281 493.5 L281.4 494 L281.8 494.5 L282.3 495 L282.7 495.5 L283.2 496 L283.6 496.4 L284.1 496.9 L284.5 497.4 L285 497.9 L285.4 498.4 L285.8 498.9 L286.3 499.4 L286.7 499.8 L287.2 500.3 L287.6 500.8 L288 501.3 L288.5 501.8 L288.9 502.2 L289.3 502.7 L289.8 503.2 L290.2 503.7 L290.6 504.1 L291.1 504.6 L291.5 505.1 L291.9 505.5 L292.3 506 L292.8 506.5 L293.2 506.9 L293.6 507.4 L294 507.9 L294.5 508.3 L294.9 508.8 L295.3 509.2 L295.7 509.7 L296.1 510.1 L296.6 510.6 L297 511.1 L297.4 511.5 L297.8 512 L298.2 512.4 L298.6 512.9 L299 513.3 L299.4 513.8 L299.9 514.2 L300.3 514.7 L300.7 515.1 L301.1 515.5 L301.5 516 L301.9 516.4 L302.3 516.9 L302.7 517.3 L303.1 517.8 L303.5 518.2 L303.9 518.6 L304.3 519.1 L304.7 519.5 L305.1 520 L305.5 520.4 L305.9 520.8 L306.3 521.3 L306.6 521.7 L307 522.1 L307.4 522.6 L307.8 523 L308.2 523.4 L308.6 523.9 L309 524.3 L309.4 524.7 L309.7 525.2 L310.1 525.6 L310.5 526 L310.9 526.5 L311.2 526.9 L311.6 527.3 L312 527.7 L312.4 528.2 L312.7 528.6 L313.1 529 L313.5 529.4 L313.9 529.9 L314.2 530.3 L314.6 530.7 L315 531.1 L315.3 531.6 L315.7 532 L316.1 532.4 L316.4 532.8 L316.8 533.2 L317.2 533.7 L317.5 534.1 L317.9 534.5 L318.3 534.9 L318.7 535.3 L319 535.7 L319.4 536.2 L319.8 536.6 L320.1 537 L320.5 537.4 L320.9 537.8 L321.3 538.2 L321.6 538.6 L322 539 L322.4 539.5 L322.8 539.9 L323.2 540.3 L323.6 540.7 L323.9 541.1 L324.3 541.5 L324.7 541.9 L325.1 542.3 L325.5 542.7 L325.9 543.1 L326.3 543.5 L326.7 543.9 L327.1 544.3 L327.5 544.7 L327.9 545.1 L328.3 545.5 L328.7 545.9 L329.1 546.3 L329.5 546.7 L329.9 547.1 L330.3 547.5 L330.7 547.9 L331.1 548.3 L331.5 548.7 L331.9 549.1 L332.4 549.4 L332.8 549.8 L333.2 550.2 L333.6 550.6 L334 551 L334.4 551.4 L334.8 551.8 L335.3 552.2 L335.7 552.6 L336.1 553 L336.5 553.4 L336.9 553.8 L337.3 554.2 L337.7 554.6 L338.2 555 L338.6 555.4 L339 555.8 L339.4 556.1 L339.8 556.5 L340.2 556.9 L340.6 557.3 L341.1 557.7 L341.5 558.1 L341.9 558.5 L342.3 558.9 L342.7 559.3 L343.1 559.7 L343.5 560.1 L343.9 560.5 L344.3 560.9 L344.7 561.3 L345.1 561.7 L345.5 562.1 L346 562.5 L346.4 562.9 L346.8 563.3 L347.2 563.7 L347.6 564.2 L348 564.6 L348.3 565 L348.7 565.4 L349.1 565.8 L349.5 566.2 L349.9 566.6 L350.3 567 L350.7 567.4 L351.1 567.8 L351.5 568.3 L351.9 568.7 L352.2 569.1 L352.6 569.5 L353 569.9 L353.4 570.3 L353.7 570.7 L354.1 571.2 L354.5 571.6 L354.9 572 L355.2 572.4 L355.6 572.8 L356 573.3 L356.3 573.7 L356.7 574.1 L357.1 574.5 L357.4 575 L357.8 575.4 L358.1 575.8 L358.5 576.2 L358.9 576.7 L359.2 577.1 L359.6 577.5 L359.9 577.9 L360.3 578.4 L360.7 578.8 L361 579.2 L361.4 579.7 L361.7 580.1 L362.1 580.5 L362.5 580.9 L362.8 581.4 L363.2 581.8 L363.5 582.2 L363.9 582.7 L364.2 583.1 L364.6 583.5 L365 584 L365.3 584.4 L365.7 584.8 L366 585.3 L366.4 585.7 L366.8 586.1 L367.1 586.6 L367.5 587 L367.9 587.4 L368.2 587.9 L368.6 588.3 L369 588.7 L369.3 589.2 L369.7 589.6 L370.1 590.1 L370.4 590.5 L370.8 590.9 L371.2 591.4 L371.6 591.8 L371.9 592.2 L372.3 592.7 L372.7 593.1 L373.1 593.5 L373.5 594 L373.9 594.4 L374.2 594.8 L374.6 595.3 L375 595.7 L375.4 596.2 L375.8 596.6 L376.2 597 L376.6 597.5 L377 597.9 L377.4 598.4 L377.8 598.8 L378.2 599.2 L378.5 599.7 L378.9 600.1 L379.3 600.6 L379.7 601 L380.1 601.4 L380.5 601.9 L380.9 602.3 L381.4 602.8 L381.8 603.2 L382.2 603.7 L382.6 604.1 L383 604.6 L383.4 605 L383.8 605.5 L384.2 605.9 L384.6 606.4 L385 606.8 L385.4 607.3 L385.8 607.7 L386.3 608.2 L386.7 608.6 L387.1 609.1 L387.5 609.5 L387.9 610 L388.3 610.5 L388.7 610.9 L389.2 611.4 L389.6 611.8 L390 612.3 L390.4 612.8 L390.8 613.2 L391.2 613.7 L391.7 614.2 L392.1 614.6 L392.5 615.1 L392.9 615.6 L393.3 616.1 L393.7 616.5 L394.2 617 L394.6 617.5 L395 618 L395.4 618.4 L395.8 618.9 L396.3 619.4 L396.7 619.9 L397.1 620.4 L397.5 620.9 L397.9 621.3 L398.3 621.8 L398.8 622.3 L399.2 622.8 L399.6 623.3 L400 623.8 L400.4 624.3 L400.9 624.8 L401.3 625.3 L401.7 625.8 L402.1 626.3 L402.5 626.8 L402.9 627.3 L403.4 627.8 L403.8 628.3 L404.2 628.8 L404.6 629.3 L405 629.8 L405.4 630.3 L405.9 630.9 L406.3 631.4 L406.7 631.9 L407.1 632.4 L407.5 632.9 L407.9 633.4 L408.4 634 L408.8 634.5 L409.2 635 L409.6 635.5 L410 636.1 L410.4 636.6 L410.9 637.1 L411.3 637.6 L411.7 638.2 L412.1 638.7 L412.5 639.2 L412.9 639.8 L413.4 640.3 L413.8 640.8 L414.2 641.4 L414.6 641.9 L415 642.5 L415.4 643 L415.9 643.5 L416.3 644.1 L416.7 644.6 L417.1 645.2 L417.5 645.7 L418 646.3 L418.4 646.8 L418.8 647.4 L419.2 647.9 L419.6 648.5 L420.1 649 L420.5 649.6 L420.9 650.1 L421.3 650.7 L421.8 651.3 L422.2 651.8 L422.6 652.4 L423 652.9 L423.5 653.5 L423.9 654.1 L424.3 654.6 L424.7 655.2 L425.2 655.8 L425.6 656.3 L426 656.9 L426.4 657.5 L426.9 658.1 L427.3 658.6 L427.7 659.2 L428.2 659.8 L428.6 660.4 L429 660.9 L429.5 661.5 L429.9 662.1 L430.3 662.7 L430.8 663.3 L431.2 663.9 L431.6 664.4 L432.1 665 L432.5 665.6 L432.9 666.2 L433.4 666.8 L433.8 667.4 L434.2 668 L434.7 668.6 L435.1 669.2 L435.6 669.8 L436 670.4 L436.4 671 L436.9 671.6 L437.3 672.2 L437.8 672.8 L438.2 673.4 L438.6 674 L439.1 674.6 L439.5 675.2 L440 675.9 L440.4 676.5 L440.9 677.1 L441.3 677.7 L441.7 678.3 L442.2 678.9 L442.6 679.6 L443.1 680.2 L443.5 680.8 L444 681.4 L444.4 682.1 L444.9 682.7 L445.3 683.3 L445.8 684 L446.2 684.6 L446.7 685.2 L447.1 685.9 L447.5 686.5 L448 687.2 L448.4 687.8 L448.9 688.5 L449.3 689.1 L449.8 689.8 L450.2 690.4 L450.7 691.1 L451.1 691.7 L451.6 692.4 L452.1 693 L452.5 693.7M192.1 226.6 L193.1 228.3 L194 230.1 L194.9 231.8 L195.7 233.5 L196.6 235.2 L197.5 236.9 L198.4 238.6 L199.2 240.3 L200.1 241.9 L201 243.6 L201.8 245.3 L202.7 247 L203.5 248.6 L204.3 250.3 L205.2 251.9 L206 253.6 L206.8 255.2 L207.6 256.8 L208.4 258.5 L209.3 260.1 L210.1 261.7 L210.9 263.3 L211.6 265 L212.4 266.6 L213.2 268.2 L214 269.8 L214.8 271.4 L215.6 272.9 L216.3 274.5 L217.1 276.1 L217.9 277.7 L218.6 279.2 L219.4 280.8 L220.2 282.3 L220.9 283.8 L221.7 285.4 L222.5 286.9 L223.2 288.4 L224 289.9 L224.7 291.4 L225.5 292.8 L226.3 294.3 L227 295.8 L227.8 297.2 L228.5 298.7 L229.3 300.1 L230 301.5 L230.8 302.9 L231.5 304.3 L232.3 305.7 L233 307.1 L233.8 308.5 L234.5 309.8 L235.3 311.2 L236 312.5 L236.7 313.8 L237.5 315.2 L238.2 316.5 L238.9 317.8 L239.7 319.1 L240.4 320.3 L241.1 321.6 L241.8 322.9 L242.6 324.1 L243.3 325.3 L244 326.6 L244.7 327.8 L245.4 329 L246.1 330.2 L246.8 331.4 L247.5 332.6 L248.2 333.7 L248.9 334.9 L249.6 336 L250.3 337.2 L251 338.3 L251.7 339.4 L252.3 340.5 L253 341.6 L253.7 342.7 L254.3 343.8 L255 344.8 L255.7 345.9 L256.3 346.9 L257 348 L257.7 349 L258.3 350 L259 351 L259.6 352 L260.3 353 L260.9 354 L261.6 354.9 L262.2 355.9 L262.8 356.9 L263.5 357.8 L264.1 358.7 L264.7 359.7 L265.4 360.6 L266 361.5 L266.6 362.4 L267.2 363.3 L267.9 364.2 L268.5 365.1 L269.1 366 L269.7 366.9 L270.3 367.7 L270.9 368.6 L271.6 369.5 L272.2 370.3 L272.8 371.2 L273.4 372 L274 372.9 L274.6 373.7 L275.2 374.5 L275.8 375.4 L276.3 376.2 L276.9 377 L277.5 377.8 L278.1 378.6 L278.7 379.4 L279.3 380.2 L279.9 381 L280.4 381.8 L281 382.6 L281.6 383.4 L282.2 384.2 L282.7 384.9 L283.3 385.7 L283.9 386.5 L284.5 387.2 L285 388 L285.6 388.8 L286.1 389.5 L286.7 390.3 L287.3 391.1 L287.8 391.8 L288.4 392.6 L288.9 393.3 L289.5 394 L290 394.8 L290.6 395.5 L291.1 396.3 L291.7 397 L292.2 397.7 L292.8 398.5 L293.3 399.2 L293.8 399.9 L294.4 400.6 L294.9 401.3 L295.4 402.1 L296 402.8 L296.5 403.5 L297 404.2 L297.6 404.9 L298.1 405.6 L298.6 406.3 L299.2 407 L299.7 407.7 L300.2 408.4 L300.7 409.1 L301.3 409.8 L301.8 410.5 L302.3 411.1 L302.8 411.8 L303.3 412.5 L303.9 413.2 L304.4 413.8 L304.9 414.5 L305.4 415.2 L305.9 415.8 L306.4 416.5 L307 417.2 L307.5 417.8 L308 418.5 L308.5 419.1 L309 419.8 L309.5 420.4 L310 421.1 L310.5 421.7 L311 422.4 L311.5 423 L312.1 423.6 L312.6 424.3 L313.1 424.9 L313.6 425.5 L314.1 426.2 L314.6 426.8 L315.1 427.4 L315.6 428 L316.1 428.7 L316.6 429.3 L317.1 429.9 L317.6 430.5 L318.1 431.1 L318.5 431.8 L319 432.4 L319.5 433 L320 433.6 L320.5 434.2 L321 434.8 L321.5 435.4 L322 436 L322.5 436.6 L322.9 437.2 L323.4 437.8 L323.9 438.4 L324.4 439 L324.9 439.6 L325.3 440.2 L325.8 440.8 L326.3 441.4 L326.8 442 L327.2 442.5 L327.7 443.1 L328.2 443.7 L328.7 444.3 L329.1 444.9 L329.6 445.5 L330.1 446 L330.5 446.6 L331 447.2 L331.5 447.8 L331.9 448.4 L332.4 448.9 L332.8 449.5 L333.3 450.1 L333.8 450.7 L334.2 451.2 L334.7 451.8 L335.1 452.4 L335.6 452.9 L336 453.5 L336.5 454.1 L336.9 454.6 L337.4 455.2 L337.8 455.8 L338.3 456.3 L338.7 456.9 L339.2 457.4 L339.6 458 L340 458.6 L340.5 459.1 L340.9 459.7 L341.3 460.2 L341.8 460.8 L342.2 461.3 L342.6 461.9 L343.1 462.5 L343.5 463 L343.9 463.6 L344.4 464.1 L344.8 464.7 L345.2 465.2 L345.6 465.8 L346.1 466.3 L346.5 466.9 L346.9 467.4 L347.3 468 L347.7 468.5 L348.2 469.1 L348.6 469.6 L349 470.2 L349.4 470.7 L349.8 471.2 L350.3 471.8 L350.7 472.3 L351.1 472.9 L351.5 473.4 L351.9 473.9 L352.4 474.5 L352.8 475 L353.2 475.5 L353.6 476.1 L354 476.6 L354.5 477.1 L354.9 477.7 L355.3 478.2 L355.8 478.7 L356.2 479.3 L356.6 479.8 L357 480.3 L357.5 480.8 L357.9 481.4 L358.4 481.9 L358.8 482.4 L359.2 482.9 L359.7 483.5 L360.1 484 L360.6 484.5 L361 485 L361.5 485.5 L361.9 486 L362.4 486.6 L362.8 487.1 L363.3 487.6 L363.8 488.1 L364.2 488.6 L364.7 489.1 L365.1 489.6 L365.6 490.1 L366.1 490.7 L366.5 491.2 L367 491.7 L367.5 492.2 L367.9 492.7 L368.4 493.2 L368.9 493.7 L369.3 494.2 L369.8 494.7 L370.3 495.2 L370.7 495.7 L371.2 496.3 L371.7 496.8 L372.1 497.3 L372.6 497.8 L373.1 498.3 L373.6 498.8 L374 499.3 L374.5 499.8 L375 500.3 L375.4 500.8 L375.9 501.3 L376.4 501.9 L376.9 502.4 L377.3 502.9 L377.8 503.4 L378.3 503.9 L378.7 504.4 L379.2 504.9 L379.7 505.4 L380.1 506 L380.6 506.5 L381.1 507 L381.5 507.5 L382 508 L382.4 508.5 L382.9 509.1 L383.4 509.6 L383.8 510.1 L384.3 510.6 L384.7 511.2 L385.2 511.7 L385.6 512.2 L386.1 512.7 L386.5 513.3 L387 513.8 L387.4 514.3 L387.9 514.8 L388.3 515.4 L388.8 515.9 L389.2 516.4 L389.6 517 L390.1 517.5 L390.5 518 L390.9 518.6 L391.4 519.1 L391.8 519.7 L392.2 520.2 L392.6 520.7 L393.1 521.3 L393.5 521.8 L393.9 522.4 L394.3 522.9 L394.7 523.4 L395.2 524 L395.6 524.5 L396 525.1 L396.4 525.6 L396.8 526.2 L397.2 526.7 L397.6 527.3 L398 527.8 L398.5 528.4 L398.9 528.9 L399.3 529.5 L399.7 530 L400.1 530.6 L400.5 531.1 L400.9 531.7 L401.3 532.2 L401.7 532.8 L402.1 533.4 L402.5 533.9 L402.9 534.5 L403.3 535 L403.7 535.6 L404.2 536.1 L404.6 536.7 L405 537.3 L405.4 537.8 L405.8 538.4 L406.2 538.9 L406.6 539.5 L407 540.1 L407.4 540.6 L407.8 541.2 L408.3 541.7 L408.7 542.3 L409.1 542.9 L409.5 543.4 L409.9 544 L410.3 544.5 L410.8 545.1 L411.2 545.7 L411.6 546.2 L412 546.8 L412.5 547.4 L412.9 547.9 L413.3 548.5 L413.8 549 L414.2 549.6 L414.6 550.2 L415.1 550.7 L415.5 551.3 L415.9 551.9 L416.4 552.4 L416.8 553 L417.3 553.6 L417.7 554.1 L418.2 554.7 L418.6 555.3 L419 555.8 L419.5 556.4 L419.9 557 L420.4 557.5 L420.9 558.1 L421.3 558.7 L421.8 559.2 L422.2 559.8 L422.7 560.4 L423.1 561 L423.6 561.5 L424 562.1 L424.5 562.7 L425 563.3 L425.4 563.8 L425.9 564.4 L426.4 565 L426.8 565.6 L427.3 566.2 L427.8 566.8 L428.2 567.3 L428.7 567.9 L429.2 568.5 L429.6 569.1 L430.1 569.7 L430.6 570.3 L431 570.9 L431.5 571.5 L432 572.1 L432.4 572.6 L432.9 573.2 L433.4 573.8 L433.9 574.4 L434.3 575 L434.8 575.6 L435.3 576.3 L435.8 576.9 L436.2 577.5 L436.7 578.1 L437.2 578.7 L437.7 579.3 L438.1 579.9 L438.6 580.5 L439.1 581.1 L439.6 581.8 L440 582.4 L440.5 583 L441 583.6 L441.5 584.2 L441.9 584.9 L442.4 585.5 L442.9 586.1 L443.4 586.8 L443.8 587.4 L444.3 588 L444.8 588.7 L445.3 589.3 L445.7 590 L446.2 590.6 L446.7 591.2 L447.2 591.9 L447.6 592.5 L448.1 593.2 L448.6 593.8 L449.1 594.5 L449.5 595.1 L450 595.8 L450.5 596.5 L450.9 597.1 L451.4 597.8 L451.9 598.5 L452.4 599.1 L452.8 599.8 L453.3 600.5 L453.8 601.1 L454.3 601.8 L454.7 602.5 L455.2 603.1 L455.7 603.8 L456.2 604.5 L456.6 605.2 L457.1 605.9 L457.6 606.5 L458 607.2 L458.5 607.9 L459 608.6 L459.5 609.3 L459.9 610 L460.4 610.7 L460.9 611.4 L461.4 612.1 L461.8 612.8 L462.3 613.5 L462.8 614.2 L463.3 614.9 L463.8 615.6 L464.2 616.3 L464.7 617 L465.2 617.7 L465.7 618.4 L466.1 619.1 L466.6 619.8 L467.1 620.5 L467.6 621.2 L468.1 622 L468.5 622.7 L469 623.4 L469.5 624.1 L470 624.8 L470.5 625.6 L470.9 626.3 L471.4 627 L471.9 627.8 L472.4 628.5 L472.9 629.2 L473.4 629.9 L473.8 630.7 L474.3 631.4 L474.8 632.2 L475.3 632.9 L475.8 633.6 L476.3 634.4 L476.8 635.1 L477.3 635.9 L477.8 636.6 L478.2 637.4 L478.7 638.1 L479.2 638.9 L479.7 639.6 L480.2 640.4 L480.7 641.1 L481.2 641.9 L481.7 642.7 L482.2 643.4 L482.7 644.2 L483.2 644.9 L483.7 645.7 L484.2 646.5 L484.7 647.3 L485.2 648 L485.7 648.8 L486.2 649.6 L486.7 650.4 L487.2 651.1 L487.7 651.9 L488.2 652.7 L488.7 653.5 L489.2 654.3 L489.7 655.1 L490.2 655.9 L490.7 656.7 L491.2 657.5 L491.7 658.3 L492.2 659.1 L492.7 659.9 L493.2 660.7 L493.7 661.5 L494.2 662.3 L494.7 663.1 L495.2 663.9 L495.7 664.7 L496.3 665.5 L496.8 666.3 L497.3 667.2 L497.8 668 L498.3 668.8 L498.8 669.6 L499.3 670.5 L499.8 671.3 L500.3 672.1 L500.8 673 L501.3 673.8 L501.9 674.7 L502.4 675.5 L502.9 676.3 L503.4 677.2 L503.9 678 L504.4 678.9M205.3 107.7 L206.3 109.8 L207.3 111.9 L208.3 114 L209.3 116.1 L210.3 118.2 L211.3 120.3 L212.2 122.3 L213.2 124.4 L214.1 126.5 L215.1 128.5 L216 130.6 L217 132.7 L217.9 134.7 L218.8 136.7 L219.8 138.8 L220.7 140.8 L221.6 142.8 L222.5 144.8 L223.4 146.8 L224.3 148.8 L225.2 150.8 L226.1 152.8 L226.9 154.8 L227.8 156.8 L228.7 158.8 L229.6 160.7 L230.4 162.7 L231.3 164.6 L232.1 166.6 L233 168.5 L233.9 170.4 L234.7 172.3 L235.6 174.2 L236.4 176.1 L237.2 178 L238.1 179.9 L238.9 181.8 L239.8 183.6 L240.6 185.4 L241.5 187.3 L242.3 189.1 L243.1 190.9 L244 192.7 L244.8 194.5 L245.7 196.2 L246.5 198 L247.3 199.7 L248.2 201.5 L249 203.2 L249.8 204.9 L250.6 206.6 L251.5 208.3 L252.3 210 L253.1 211.6 L253.9 213.3 L254.8 214.9 L255.6 216.5 L256.4 218.1 L257.2 219.7 L258 221.3 L258.8 222.9 L259.6 224.4 L260.4 226 L261.2 227.5 L262 229.1 L262.8 230.6 L263.6 232.1 L264.4 233.5 L265.2 235 L265.9 236.5 L266.7 237.9 L267.5 239.4 L268.3 240.8 L269 242.2 L269.8 243.6 L270.6 245 L271.3 246.3 L272.1 247.7 L272.8 249.1 L273.6 250.4 L274.3 251.7 L275 253 L275.8 254.3 L276.5 255.6 L277.2 256.9 L278 258.1 L278.7 259.4 L279.4 260.6 L280.1 261.8 L280.9 263.1 L281.6 264.3 L282.3 265.4 L283 266.6 L283.7 267.8 L284.4 269 L285.1 270.1 L285.8 271.3 L286.5 272.4 L287.2 273.5 L287.9 274.7 L288.6 275.8 L289.3 276.9 L290 278 L290.7 279 L291.3 280.1 L292 281.2 L292.7 282.3 L293.4 283.3 L294 284.4 L294.7 285.4 L295.4 286.5 L296.1 287.5 L296.7 288.5 L297.4 289.5 L298 290.6 L298.7 291.6 L299.3 292.6 L300 293.6 L300.7 294.6 L301.3 295.5 L302 296.5 L302.6 297.5 L303.2 298.5 L303.9 299.4 L304.5 300.4 L305.2 301.4 L305.8 302.3 L306.4 303.3 L307.1 304.2 L307.7 305.2 L308.3 306.1 L308.9 307.1 L309.6 308 L310.2 308.9 L310.8 309.9 L311.4 310.8 L312 311.7 L312.6 312.6 L313.2 313.5 L313.9 314.4 L314.5 315.4 L315.1 316.3 L315.7 317.2 L316.3 318.1 L316.9 319 L317.5 319.9 L318.1 320.7 L318.7 321.6 L319.3 322.5 L319.9 323.4 L320.5 324.3 L321 325.1 L321.6 326 L322.2 326.9 L322.8 327.7 L323.4 328.6 L324 329.5 L324.6 330.3 L325.2 331.2 L325.7 332 L326.3 332.9 L326.9 333.7 L327.5 334.6 L328 335.4 L328.6 336.2 L329.2 337 L329.8 337.9 L330.3 338.7 L330.9 339.5 L331.5 340.3 L332.1 341.2 L332.6 342 L333.2 342.8 L333.8 343.6 L334.3 344.4 L334.9 345.2 L335.5 346 L336 346.8 L336.6 347.6 L337.2 348.4 L337.7 349.1 L338.3 349.9 L338.8 350.7 L339.4 351.5 L340 352.3 L340.5 353 L341.1 353.8 L341.6 354.6 L342.2 355.3 L342.7 356.1 L343.3 356.9 L343.8 357.6 L344.4 358.4 L344.9 359.1 L345.5 359.9 L346 360.7 L346.6 361.4 L347.1 362.2 L347.7 362.9 L348.2 363.6 L348.7 364.4 L349.3 365.1 L349.8 365.9 L350.4 366.6 L350.9 367.3 L351.4 368.1 L352 368.8 L352.5 369.5 L353 370.3 L353.6 371 L354.1 371.7 L354.6 372.5 L355.1 373.2 L355.7 373.9 L356.2 374.6 L356.7 375.3 L357.2 376.1 L357.7 376.8 L358.3 377.5 L358.8 378.2 L359.3 378.9 L359.8 379.6 L360.3 380.3 L360.8 381 L361.3 381.7 L361.8 382.4 L362.4 383.1 L362.9 383.8 L363.4 384.5 L363.9 385.2 L364.4 385.9 L364.9 386.6 L365.4 387.3 L365.9 388 L366.4 388.7 L366.9 389.4 L367.4 390.1 L367.8 390.8 L368.3 391.5 L368.8 392.2 L369.3 392.9 L369.8 393.6 L370.3 394.2 L370.8 394.9 L371.3 395.6 L371.7 396.3 L372.2 397 L372.7 397.7 L373.2 398.3 L373.6 399 L374.1 399.7 L374.6 400.4 L375.1 401.1 L375.5 401.7 L376 402.4 L376.5 403.1 L376.9 403.8 L377.4 404.4 L377.9 405.1 L378.3 405.8 L378.8 406.5 L379.3 407.1 L379.7 407.8 L380.2 408.5 L380.6 409.1 L381.1 409.8 L381.6 410.5 L382 411.1 L382.5 411.8 L383 412.4 L383.4 413.1 L383.9 413.8 L384.4 414.4 L384.9 415.1 L385.3 415.7 L385.8 416.4 L386.3 417 L386.7 417.7 L387.2 418.3 L387.7 419 L388.2 419.6 L388.7 420.3 L389.1 420.9 L389.6 421.6 L390.1 422.2 L390.6 422.8 L391.1 423.5 L391.6 424.1 L392.1 424.8 L392.6 425.4 L393.1 426 L393.6 426.7 L394.1 427.3 L394.6 427.9 L395.1 428.6 L395.6 429.2 L396.1 429.8 L396.6 430.5 L397.1 431.1 L397.7 431.7 L398.2 432.3 L398.7 433 L399.2 433.6 L399.7 434.2 L400.2 434.8 L400.8 435.5 L401.3 436.1 L401.8 436.7 L402.3 437.3 L402.8 438 L403.4 438.6 L403.9 439.2 L404.4 439.8 L404.9 440.5 L405.5 441.1 L406 441.7 L406.5 442.3 L407 443 L407.5 443.6 L408.1 444.2 L408.6 444.9 L409.1 445.5 L409.6 446.1 L410.2 446.7 L410.7 447.4 L411.2 448 L411.7 448.6 L412.2 449.3 L412.7 449.9 L413.3 450.5 L413.8 451.2 L414.3 451.8 L414.8 452.4 L415.3 453.1 L415.8 453.7 L416.3 454.3 L416.9 455 L417.4 455.6 L417.9 456.3 L418.4 456.9 L418.9 457.5 L419.4 458.2 L419.9 458.8 L420.4 459.5 L420.9 460.1 L421.4 460.8 L421.9 461.4 L422.4 462.1 L422.9 462.7 L423.3 463.4 L423.8 464 L424.3 464.7 L424.8 465.4 L425.3 466 L425.8 466.7 L426.2 467.3 L426.7 468 L427.2 468.7 L427.6 469.3 L428.1 470 L428.6 470.7 L429.1 471.3 L429.5 472 L430 472.7 L430.4 473.3 L430.9 474 L431.4 474.7 L431.8 475.3 L432.3 476 L432.7 476.7 L433.2 477.4 L433.6 478 L434.1 478.7 L434.5 479.4 L435 480.1 L435.5 480.8 L435.9 481.4 L436.4 482.1 L436.8 482.8 L437.3 483.5 L437.7 484.2 L438.2 484.8 L438.6 485.5 L439.1 486.2 L439.5 486.9 L440 487.6 L440.4 488.3 L440.9 489 L441.3 489.6 L441.8 490.3 L442.2 491 L442.7 491.7 L443.1 492.4 L443.6 493.1 L444 493.8 L444.5 494.5 L445 495.2 L445.4 495.8 L445.9 496.5 L446.4 497.2 L446.8 497.9 L447.3 498.6 L447.7 499.3 L448.2 500 L448.7 500.7 L449.2 501.4 L449.6 502.1 L450.1 502.8 L450.6 503.4 L451.1 504.1 L451.6 504.8 L452 505.5 L452.5 506.2 L453 506.9 L453.5 507.6 L454 508.3 L454.5 509 L455 509.7 L455.5 510.4 L455.9 511.1 L456.4 511.8 L456.9 512.5 L457.4 513.2 L457.9 513.9 L458.4 514.6 L458.9 515.3 L459.4 516 L459.9 516.7 L460.4 517.4 L461 518.1 L461.5 518.8 L462 519.5 L462.5 520.2 L463 520.9 L463.5 521.6 L464 522.3 L464.5 523 L465 523.8 L465.6 524.5 L466.1 525.2 L466.6 525.9 L467.1 526.6 L467.6 527.3 L468.1 528.1 L468.7 528.8 L469.2 529.5 L469.7 530.2 L470.2 531 L470.7 531.7 L471.3 532.4 L471.8 533.2 L472.3 533.9 L472.8 534.6 L473.4 535.4 L473.9 536.1 L474.4 536.9 L474.9 537.6 L475.5 538.3 L476 539.1 L476.5 539.8 L477 540.6 L477.6 541.3 L478.1 542.1 L478.6 542.8 L479.2 543.6 L479.7 544.4 L480.2 545.1 L480.7 545.9 L481.3 546.7 L481.8 547.4 L482.3 548.2 L482.8 549 L483.4 549.7 L483.9 550.5 L484.4 551.3 L485 552.1 L485.5 552.9 L486 553.7 L486.5 554.4 L487.1 555.2 L487.6 556 L488.1 556.8 L488.6 557.6 L489.2 558.4 L489.7 559.2 L490.2 560 L490.7 560.8 L491.3 561.6 L491.8 562.4 L492.3 563.3 L492.8 564.1 L493.4 564.9 L493.9 565.7 L494.4 566.5 L494.9 567.4 L495.5 568.2 L496 569 L496.5 569.8 L497 570.7 L497.6 571.5 L498.1 572.3 L498.6 573.2 L499.1 574 L499.7 574.8 L500.2 575.7 L500.7 576.5 L501.2 577.4 L501.8 578.2 L502.3 579.1 L502.8 579.9 L503.3 580.8 L503.9 581.6 L504.4 582.5 L504.9 583.3 L505.5 584.2 L506 585.1 L506.5 585.9 L507 586.8 L507.6 587.7 L508.1 588.5 L508.6 589.4 L509.2 590.3 L509.7 591.2 L510.2 592 L510.7 592.9 L511.3 593.8 L511.8 594.7 L512.3 595.6 L512.9 596.5 L513.4 597.3 L513.9 598.2 L514.5 599.1 L515 600 L515.6 600.9 L516.1 601.8 L516.6 602.7 L517.2 603.6 L517.7 604.5 L518.2 605.4 L518.8 606.3 L519.3 607.2 L519.9 608.2 L520.4 609.1 L520.9 610 L521.5 610.9 L522 611.8 L522.6 612.7 L523.1 613.7 L523.7 614.6 L524.2 615.5 L524.8 616.5 L525.3 617.4 L525.9 618.3 L526.4 619.3 L527 620.2 L527.5 621.1 L528.1 622.1 L528.6 623 L529.2 624 L529.7 624.9 L530.3 625.9 L530.8 626.8 L531.4 627.8 L531.9 628.7 L532.5 629.7 L533 630.6 L533.6 631.6 L534.1 632.6 L534.7 633.6 L535.3 634.5 L535.8 635.5 L536.4 636.5 L536.9 637.5 L537.5 638.4 L538.1 639.4 L538.6 640.4 L539.2 641.4 L539.7 642.4 L540.3 643.4 L540.9 644.4 L541.4 645.4 L542 646.4 L542.5 647.4 L543.1 648.4 L543.7 649.4 L544.2 650.4 L544.8 651.4 L545.4 652.4 L545.9 653.5 L546.5 654.5 L547.1 655.5 L547.6 656.5 L548.2 657.6 L548.8 658.6 L549.3 659.6 L549.9 660.7 L550.5 661.7 L551 662.8 L551.6 663.8M251.2 51.4 L252.1 53.7 L253 56 L254 58.2 L254.9 60.5 L255.8 62.8 L256.7 65 L257.7 67.2 L258.6 69.5 L259.5 71.7 L260.4 73.9 L261.4 76 L262.3 78.2 L263.2 80.3 L264.1 82.5 L265.1 84.6 L266 86.7 L266.9 88.8 L267.8 90.8 L268.7 92.9 L269.6 94.9 L270.5 96.9 L271.4 99 L272.3 100.9 L273.2 102.9 L274.1 104.9 L275 106.8 L275.9 108.8 L276.8 110.7 L277.7 112.6 L278.6 114.5 L279.5 116.4 L280.3 118.2 L281.2 120.1 L282.1 121.9 L283 123.7 L283.8 125.5 L284.7 127.3 L285.5 129.1 L286.4 130.8 L287.3 132.6 L288.1 134.3 L288.9 136 L289.8 137.7 L290.6 139.4 L291.4 141 L292.3 142.7 L293.1 144.3 L293.9 145.9 L294.7 147.5 L295.6 149.1 L296.4 150.7 L297.2 152.2 L298 153.8 L298.8 155.3 L299.6 156.8 L300.4 158.3 L301.2 159.8 L302 161.3 L302.7 162.7 L303.5 164.2 L304.3 165.6 L305.1 167 L305.9 168.4 L306.6 169.8 L307.4 171.2 L308.2 172.6 L309 174 L309.7 175.3 L310.5 176.7 L311.2 178 L312 179.3 L312.7 180.6 L313.5 181.9 L314.2 183.2 L315 184.5 L315.7 185.8 L316.5 187.1 L317.2 188.4 L317.9 189.6 L318.7 190.9 L319.4 192.1 L320.1 193.3 L320.9 194.6 L321.6 195.8 L322.3 197 L323 198.2 L323.7 199.4 L324.5 200.6 L325.2 201.8 L325.9 203 L326.6 204.2 L327.3 205.3 L328 206.5 L328.7 207.7 L329.4 208.8 L330.1 210 L330.8 211.1 L331.5 212.3 L332.2 213.4 L332.9 214.6 L333.5 215.7 L334.2 216.8 L334.9 218 L335.6 219.1 L336.3 220.2 L336.9 221.3 L337.6 222.4 L338.3 223.5 L339 224.6 L339.6 225.7 L340.3 226.8 L340.9 227.9 L341.6 229 L342.3 230.1 L342.9 231.1 L343.6 232.2 L344.2 233.3 L344.9 234.4 L345.5 235.4 L346.2 236.5 L346.8 237.5 L347.5 238.6 L348.1 239.6 L348.8 240.7 L349.4 241.7 L350.1 242.7 L350.7 243.8 L351.4 244.8 L352 245.8 L352.6 246.9 L353.3 247.9 L353.9 248.9 L354.5 249.9 L355.2 250.9 L355.8 251.9 L356.4 252.9 L357.1 253.9 L357.7 254.9 L358.3 255.9 L358.9 256.9 L359.6 257.8 L360.2 258.8 L360.8 259.8 L361.4 260.7 L362.1 261.7 L362.7 262.7 L363.3 263.6 L363.9 264.6 L364.6 265.5 L365.2 266.5 L365.8 267.4 L366.4 268.4 L367 269.3 L367.6 270.3 L368.2 271.2 L368.8 272.1 L369.5 273.1 L370.1 274 L370.7 274.9 L371.3 275.8 L371.9 276.8 L372.5 277.7 L373.1 278.6 L373.7 279.5 L374.3 280.4 L374.9 281.3 L375.5 282.2 L376.1 283.1 L376.7 284 L377.3 284.9 L377.9 285.8 L378.5 286.7 L379 287.6 L379.6 288.5 L380.2 289.4 L380.8 290.3 L381.4 291.1 L382 292 L382.5 292.9 L383.1 293.8 L383.7 294.7 L384.3 295.5 L384.9 296.4 L385.4 297.3 L386 298.1 L386.6 299 L387.2 299.9 L387.7 300.7 L388.3 301.6 L388.9 302.5 L389.4 303.3 L390 304.2 L390.5 305 L391.1 305.9 L391.7 306.7 L392.2 307.6 L392.8 308.4 L393.3 309.3 L393.9 310.1 L394.4 311 L395 311.8 L395.5 312.7 L396.1 313.5 L396.6 314.3 L397.2 315.2 L397.7 316 L398.2 316.9 L398.8 317.7 L399.3 318.5 L399.9 319.4 L400.4 320.2 L400.9 321 L401.5 321.8 L402 322.7 L402.5 323.5 L403 324.3 L403.6 325.2 L404.1 326 L404.6 326.8 L405.1 327.6 L405.6 328.4 L406.2 329.3 L406.7 330.1 L407.2 330.9 L407.7 331.7 L408.2 332.5 L408.7 333.3 L409.2 334.2 L409.7 335 L410.3 335.8 L410.8 336.6 L411.3 337.4 L411.8 338.2 L412.3 339 L412.8 339.8 L413.3 340.6 L413.8 341.4 L414.4 342.2 L414.9 343 L415.4 343.8 L415.9 344.6 L416.4 345.4 L416.9 346.2 L417.5 347 L418 347.8 L418.5 348.6 L419 349.4 L419.6 350.2 L420.1 350.9 L420.6 351.7 L421.1 352.5 L421.7 353.3 L422.2 354.1 L422.8 354.8 L423.3 355.6 L423.8 356.4 L424.4 357.2 L424.9 357.9 L425.5 358.7 L426 359.5 L426.6 360.2 L427.1 361 L427.7 361.8 L428.3 362.5 L428.8 363.3 L429.4 364.1 L430 364.8 L430.5 365.6 L431.1 366.3 L431.6 367.1 L432.2 367.9 L432.8 368.6 L433.4 369.4 L433.9 370.1 L434.5 370.9 L435.1 371.6 L435.6 372.4 L436.2 373.2 L436.8 373.9 L437.4 374.7 L437.9 375.4 L438.5 376.2 L439.1 376.9 L439.7 377.7 L440.2 378.5 L440.8 379.2 L441.4 380 L442 380.7 L442.5 381.5 L443.1 382.3 L443.7 383 L444.3 383.8 L444.8 384.5 L445.4 385.3 L446 386.1 L446.6 386.8 L447.1 387.6 L447.7 388.4 L448.3 389.1 L448.8 389.9 L449.4 390.7 L450 391.4 L450.5 392.2 L451.1 393 L451.6 393.8 L452.2 394.5 L452.8 395.3 L453.3 396.1 L453.9 396.9 L454.4 397.6 L455 398.4 L455.5 399.2 L456.1 400 L456.6 400.8 L457.2 401.6 L457.7 402.4 L458.2 403.2 L458.8 403.9 L459.3 404.7 L459.9 405.5 L460.4 406.3 L460.9 407.1 L461.4 407.9 L462 408.7 L462.5 409.5 L463 410.3 L463.5 411.1 L464 411.9 L464.6 412.7 L465.1 413.6 L465.6 414.4 L466.1 415.2 L466.6 416 L467.1 416.8 L467.6 417.6 L468.1 418.4 L468.6 419.2 L469.1 420.1 L469.6 420.9 L470.1 421.7 L470.6 422.5 L471.1 423.3 L471.6 424.2 L472.1 425 L472.6 425.8 L473.1 426.6 L473.6 427.5 L474.1 428.3 L474.6 429.1 L475.1 429.9 L475.6 430.8 L476.1 431.6 L476.6 432.4 L477.1 433.3 L477.6 434.1 L478.1 434.9 L478.6 435.8 L479.1 436.6 L479.6 437.4 L480.1 438.3 L480.6 439.1 L481.1 439.9 L481.6 440.8 L482.1 441.6 L482.6 442.4 L483.1 443.3 L483.6 444.1 L484.1 444.9 L484.6 445.8 L485.1 446.6 L485.6 447.4 L486.2 448.3 L486.7 449.1 L487.2 450 L487.7 450.8 L488.2 451.6 L488.8 452.5 L489.3 453.3 L489.8 454.1 L490.4 455 L490.9 455.8 L491.4 456.7 L492 457.5 L492.5 458.3 L493 459.2 L493.6 460 L494.1 460.9 L494.7 461.7 L495.2 462.6 L495.8 463.4 L496.3 464.3 L496.9 465.1 L497.4 466 L498 466.8 L498.5 467.7 L499.1 468.5 L499.6 469.4 L500.2 470.2 L500.7 471.1 L501.3 471.9 L501.9 472.8 L502.4 473.6 L503 474.5 L503.5 475.4 L504.1 476.2 L504.7 477.1 L505.2 478 L505.8 478.8 L506.4 479.7 L506.9 480.6 L507.5 481.4 L508.1 482.3 L508.7 483.2 L509.2 484.1 L509.8 484.9 L510.4 485.8 L511 486.7 L511.5 487.6 L512.1 488.5 L512.7 489.4 L513.3 490.3 L513.8 491.1 L514.4 492 L515 492.9 L515.6 493.8 L516.2 494.7 L516.7 495.6 L517.3 496.6 L517.9 497.5 L518.5 498.4 L519.1 499.3 L519.6 500.2 L520.2 501.1 L520.8 502 L521.4 503 L522 503.9 L522.5 504.8 L523.1 505.8 L523.7 506.7 L524.3 507.6 L524.9 508.6 L525.4 509.5 L526 510.4 L526.6 511.4 L527.2 512.3 L527.8 513.3 L528.3 514.3 L528.9 515.2 L529.5 516.2 L530.1 517.1 L530.6 518.1 L531.2 519.1 L531.8 520 L532.4 521 L533 522 L533.5 523 L534.1 524 L534.7 524.9 L535.3 525.9 L535.8 526.9 L536.4 527.9 L537 528.9" stroke="#ff0000" stroke-width="1.1" fill="none" stroke-linejoin="round"/>
<path d="M139.3 580.3 L140.3 580.3 L141.2 580.3 L142.1 580.3 L143 580.3 L144 580.4 L144.9 580.4 L145.8 580.5 L146.7 580.5 L147.6 580.6 L148.5 580.7 L149.4 580.7 L150.3 580.8 L151.1 580.9 L152 581 L152.9 581.1 L153.8 581.2 L154.7 581.3 L155.5 581.4 L156.4 581.6 L157.3 581.7 L158.1 581.8 L159 581.9 L159.8 582.1 L160.7 582.2 L161.6 582.4 L162.4 582.5 L163.3 582.6 L164.2 582.8 L165 582.9 L165.9 583.1 L166.8 583.2 L167.6 583.4 L168.5 583.6 L169.3 583.7 L170.2 583.9 L171.1 584.1 L171.9 584.2 L172.8 584.4 L173.6 584.6 L174.5 584.8 L175.3 584.9 L176.2 585.1 L177 585.3 L177.8 585.5 L178.6 585.7 L179.5 585.9 L180.3 586.1 L181.1 586.3 L181.9 586.5 L182.7 586.7 L183.5 587 L184.3 587.2 L185.1 587.4 L185.8 587.6 L186.6 587.9 L187.4 588.1 L188.1 588.3 L188.9 588.6 L189.6 588.8 L190.4 589.1 L191.1 589.4 L191.8 589.6 L192.6 589.9 L193.3 590.1 L194 590.4 L194.7 590.7 L195.4 591 L196.1 591.2 L196.8 591.5 L197.5 591.8 L198.2 592.1 L198.9 592.4 L199.5 592.7 L200.2 593 L200.9 593.3 L201.5 593.6 L202.2 593.9 L202.8 594.2 L203.5 594.5 L204.1 594.8 L204.8 595.1 L205.4 595.4 L206 595.8 L206.7 596.1 L207.3 596.4 L207.9 596.7 L208.5 597.1 L209.1 597.4 L209.7 597.7 L210.3 598.1 L210.9 598.4 L211.5 598.7 L212.1 599.1 L212.7 599.4 L213.3 599.7 L213.9 600.1 L214.5 600.4 L215.1 600.8 L215.6 601.1 L216.2 601.5 L216.8 601.8 L217.3 602.2 L217.9 602.5 L218.5 602.9 L219 603.2 L219.6 603.6 L220.1 603.9 L220.7 604.3 L221.2 604.7 L221.8 605 L222.3 605.4 L222.8 605.7 L223.4 606.1 L223.9 606.5 L224.4 606.8 L225 607.2 L225.5 607.5 L226 607.9 L226.5 608.3 L227 608.6 L227.6 609 L228.1 609.4 L228.6 609.7 L229.1 610.1 L229.6 610.5 L230.1 610.8 L230.6 611.2 L231.1 611.6 L231.6 612 L232.1 612.3 L232.6 612.7 L233.1 613.1 L233.6 613.4 L234 613.8 L234.5 614.2 L235 614.6 L235.5 615 L235.9 615.3 L236.4 615.7 L236.9 616.1 L237.3 616.5 L237.8 616.9 L238.2 617.2 L238.7 617.6 L239.1 618 L239.6 618.4 L240 618.8 L240.5 619.2 L240.9 619.5 L241.3 619.9 L241.8 620.3 L242.2 620.7 L242.6 621.1 L243 621.5 L243.4 621.9 L243.9 622.3 L244.3 622.7 L244.7 623.1 L245.1 623.5 L245.5 623.9 L245.9 624.3 L246.3 624.7 L246.7 625.1 L247 625.5 L247.4 625.9 L247.8 626.3 L248.2 626.7 L248.6 627.1 L248.9 627.5 L249.3 627.9 L249.7 628.3 L250 628.7 L250.4 629.1 L250.7 629.5 L251.1 629.9 L251.4 630.3 L251.8 630.7 L252.1 631.1 L252.5 631.5 L252.8 631.9 L253.2 632.4 L253.5 632.8 L253.9 633.2 L254.2 633.6 L254.6 634 L254.9 634.4 L255.3 634.8 L255.6 635.2 L256 635.6 L256.4 636 L256.7 636.4 L257.1 636.9 L257.4 637.3 L257.8 637.7 L258.1 638.1 L258.5 638.5 L258.9 638.9 L259.2 639.3 L259.6 639.7 L259.9 640.1 L260.3 640.5 L260.7 640.9 L261 641.3 L261.4 641.7 L261.8 642.1 L262.1 642.6 L262.5 643 L262.8 643.4 L263.2 643.8 L263.6 644.2 L263.9 644.6 L264.3 645 L264.6 645.4 L265 645.8 L265.3 646.2 L265.7 646.6 L266.1 647 L266.4 647.4 L266.7 647.8 L267.1 648.3 L267.4 648.7 L267.8 649.1 L268.1 649.5 L268.5 649.9 L268.8 650.3 L269.1 650.7 L269.4 651.1 L269.8 651.5 L270.1 652 L270.4 652.4 L270.7 652.8 L271 653.2 L271.4 653.6 L271.7 654 L272 654.4 L272.3 654.9 L272.6 655.3 L272.9 655.7 L273.1 656.1 L273.4 656.5 L273.7 657 L274 657.4 L274.3 657.8 L274.5 658.2 L274.8 658.6 L275.1 659.1 L275.4 659.5 L275.6 659.9 L275.9 660.3 L276.1 660.8 L276.4 661.2 L276.7 661.6 L276.9 662 L277.2 662.5 L277.4 662.9 L277.7 663.3 L277.9 663.7 L278.2 664.2 L278.4 664.6 L278.7 665 L278.9 665.4 L279.2 665.9 L279.4 666.3 L279.6 666.7 L279.9 667.1 L280.1 667.6 L280.4 668 L280.6 668.4 L280.9 668.8 L281.1 669.3 L281.4 669.7 L281.6 670.1 L281.9 670.5 L282.1 671 L282.4 671.4 L282.6 671.8 L282.9 672.2 L283.1 672.7 L283.4 673.1 L283.6 673.5 L283.9 673.9 L284.1 674.4 L284.4 674.8 L284.6 675.2 L284.9 675.6 L285.1 676.1 L285.4 676.5 L285.6 676.9 L285.9 677.3 L286.1 677.8 L286.4 678.2 L286.6 678.6 L286.9 679 L287.1 679.5 L287.4 679.9 L287.7 680.3 L287.9 680.7 L288.2 681.2 L288.4 681.6 L288.7 682 L288.9 682.4 L289.2 682.9 L289.4 683.3 L289.7 683.7 L289.9 684.1 L290.2 684.6 L290.4 685 L290.7 685.4 L290.9 685.8 L291.2 686.3 L291.4 686.7 L291.7 687.1 L291.9 687.5 L292.2 688 L292.4 688.4 L292.7 688.8 L292.9 689.3 L293.2 689.7 L293.4 690.1 L293.6 690.5 L293.9 691 L294.1 691.4 L294.4 691.8 L294.6 692.2 L294.9 692.7 L295.1 693.1 L295.4 693.5 L295.6 693.9 L295.8 694.4 L296.1 694.8 L296.3 695.2 L296.6 695.6 L296.8 696.1 L297 696.5 L297.3 696.9 L297.5 697.4 L297.7 697.8 L298 698.2 L298.2 698.6 L298.4 699.1 L298.7 699.5 L298.9 699.9 L299.2 700.3 L299.4 700.8 L299.6 701.2 L299.8 701.6 L300.1 702.1 L300.3 702.5 L300.5 702.9 L300.8 703.3 L301 703.8 L301.2 704.2 L301.4 704.6 L301.7 705.1 L301.9 705.5 L302.1 705.9 L302.3 706.3 L302.6 706.8 L302.8 707.2 L303 707.6 L303.2 708.1 L303.5 708.5 L303.7 708.9 L303.9 709.3 L304.1 709.8 L304.3 710.2 L304.5 710.6 L304.8 711.1 L305 711.5 L305.2 711.9 L305.4 712.4 L305.6 712.8 L305.8 713.2 L306 713.6 L306.2 714.1 L306.5 714.5 L306.7 714.9 L306.9 715.4 L307.1 715.8 L307.3 716.2 L307.5 716.7 L307.7 717.1 L307.9 717.5 L308.1 717.9 L308.3 718.4 L308.5 718.8 L308.7 719.2 L308.9 719.7 L309.1 720.1 L309.3 720.5 L309.5 721 L309.7 721.4 L309.9 721.8 L310.1 722.3 L310.3 722.7 L310.5 723.1 L310.7 723.6 L310.8 724 L311 724.4M147.4 539 L148.4 539 L149.5 539 L150.5 539.1 L151.5 539.1 L152.6 539.1 L153.6 539.2 L154.6 539.3 L155.6 539.3 L156.6 539.4 L157.6 539.5 L158.6 539.6 L159.6 539.7 L160.6 539.8 L161.6 539.9 L162.6 540 L163.6 540.2 L164.5 540.3 L165.5 540.5 L166.5 540.6 L167.5 540.8 L168.4 540.9 L169.4 541.1 L170.3 541.3 L171.3 541.4 L172.3 541.6 L173.2 541.8 L174.2 542 L175.2 542.2 L176.1 542.4 L177.1 542.5 L178.1 542.7 L179 542.9 L180 543.1 L181 543.3 L181.9 543.5 L182.9 543.7 L183.9 544 L184.8 544.2 L185.8 544.4 L186.7 544.6 L187.7 544.8 L188.6 545.1 L189.5 545.3 L190.5 545.6 L191.4 545.8 L192.3 546.1 L193.2 546.3 L194.1 546.6 L195 546.8 L195.9 547.1 L196.8 547.4 L197.7 547.7 L198.6 547.9 L199.4 548.2 L200.3 548.5 L201.1 548.8 L202 549.1 L202.8 549.4 L203.7 549.7 L204.5 550.1 L205.3 550.4 L206.1 550.7 L206.9 551 L207.8 551.4 L208.6 551.7 L209.3 552 L210.1 552.4 L210.9 552.7 L211.7 553.1 L212.5 553.5 L213.2 553.8 L214 554.2 L214.7 554.5 L215.5 554.9 L216.2 555.3 L217 555.7 L217.7 556 L218.4 556.4 L219.2 556.8 L219.9 557.2 L220.6 557.6 L221.3 558 L222 558.4 L222.7 558.8 L223.4 559.2 L224.1 559.6 L224.8 560 L225.5 560.4 L226.2 560.8 L226.8 561.3 L227.5 561.7 L228.2 562.1 L228.8 562.5 L229.5 562.9 L230.2 563.4 L230.8 563.8 L231.5 564.2 L232.1 564.7 L232.8 565.1 L233.4 565.5 L234 566 L234.7 566.4 L235.3 566.9 L235.9 567.3 L236.5 567.7 L237.2 568.2 L237.8 568.6 L238.4 569.1 L239 569.5 L239.6 570 L240.2 570.4 L240.8 570.9 L241.4 571.3 L242 571.8 L242.6 572.2 L243.2 572.7 L243.8 573.1 L244.4 573.6 L244.9 574 L245.5 574.5 L246.1 575 L246.7 575.4 L247.2 575.9 L247.8 576.3 L248.4 576.8 L248.9 577.3 L249.5 577.7 L250.1 578.2 L250.6 578.7 L251.2 579.1 L251.7 579.6 L252.3 580.1 L252.8 580.5 L253.3 581 L253.9 581.5 L254.4 581.9 L254.9 582.4 L255.5 582.9 L256 583.4 L256.5 583.8 L257 584.3 L257.5 584.8 L258 585.3 L258.5 585.7 L259 586.2 L259.5 586.7 L260 587.2 L260.5 587.7 L261 588.2 L261.5 588.6 L262 589.1 L262.5 589.6 L262.9 590.1 L263.4 590.6 L263.9 591.1 L264.3 591.6 L264.8 592.1 L265.2 592.6 L265.7 593.1 L266.1 593.5 L266.6 594 L267 594.5 L267.5 595 L267.9 595.5 L268.3 596 L268.7 596.5 L269.2 597 L269.6 597.6 L270 598.1 L270.4 598.6 L270.8 599.1 L271.2 599.6 L271.6 600.1 L272 600.6 L272.4 601.1 L272.8 601.6 L273.2 602.1 L273.6 602.6 L274 603.2 L274.4 603.7 L274.8 604.2 L275.2 604.7 L275.6 605.2 L275.9 605.7 L276.3 606.2 L276.7 606.7 L277.1 607.3 L277.5 607.8 L277.9 608.3 L278.3 608.8 L278.7 609.3 L279.1 609.8 L279.5 610.3 L279.9 610.8 L280.3 611.3 L280.7 611.8 L281.1 612.4 L281.5 612.9 L281.9 613.4 L282.3 613.9 L282.7 614.4 L283.1 614.9 L283.5 615.4 L283.9 615.9 L284.3 616.4 L284.8 616.9 L285.2 617.4 L285.6 618 L286 618.5 L286.4 619 L286.8 619.5 L287.2 620 L287.6 620.5 L288 621 L288.4 621.5 L288.8 622 L289.1 622.5 L289.5 623.1 L289.9 623.6 L290.3 624.1 L290.7 624.6 L291.1 625.1 L291.5 625.6 L291.8 626.1 L292.2 626.6 L292.6 627.2 L292.9 627.7 L293.3 628.2 L293.7 628.7 L294 629.2 L294.4 629.7 L294.7 630.3 L295.1 630.8 L295.4 631.3 L295.8 631.8 L296.1 632.3 L296.4 632.9 L296.8 633.4 L297.1 633.9 L297.4 634.4 L297.7 635 L298 635.5 L298.3 636 L298.6 636.5 L299 637.1 L299.3 637.6 L299.6 638.1 L299.8 638.7 L300.1 639.2 L300.4 639.7 L300.7 640.2 L301 640.8 L301.3 641.3 L301.6 641.8 L301.9 642.4 L302.1 642.9 L302.4 643.4 L302.7 644 L303 644.5 L303.3 645 L303.5 645.6 L303.8 646.1 L304.1 646.6 L304.4 647.2 L304.6 647.7 L304.9 648.2 L305.2 648.8 L305.5 649.3 L305.7 649.8 L306 650.4 L306.3 650.9 L306.6 651.4 L306.8 652 L307.1 652.5 L307.4 653 L307.7 653.6 L308 654.1 L308.2 654.6 L308.5 655.2 L308.8 655.7 L309.1 656.2 L309.4 656.7 L309.6 657.3 L309.9 657.8 L310.2 658.3 L310.5 658.9 L310.8 659.4 L311.1 659.9 L311.3 660.5 L311.6 661 L311.9 661.5 L312.2 662.1 L312.5 662.6 L312.7 663.1 L313 663.7 L313.3 664.2 L313.6 664.7 L313.9 665.3 L314.2 665.8 L314.4 666.3 L314.7 666.9 L315 667.4 L315.3 667.9 L315.6 668.4 L315.8 669 L316.1 669.5 L316.4 670 L316.7 670.6 L317 671.1 L317.2 671.6 L317.5 672.2 L317.8 672.7 L318.1 673.2 L318.4 673.8 L318.6 674.3 L318.9 674.8 L319.2 675.4 L319.5 675.9 L319.7 676.4 L320 677 L320.3 677.5 L320.6 678 L320.8 678.6 L321.1 679.1 L321.4 679.6 L321.7 680.2 L321.9 680.7 L322.2 681.2 L322.5 681.8 L322.7 682.3 L323 682.8 L323.3 683.4 L323.5 683.9 L323.8 684.4 L324.1 685 L324.3 685.5 L324.6 686 L324.9 686.6 L325.1 687.1 L325.4 687.6 L325.7 688.2 L325.9 688.7 L326.2 689.2 L326.4 689.8 L326.7 690.3 L327 690.8 L327.2 691.4 L327.5 691.9 L327.7 692.5 L328 693 L328.2 693.5 L328.5 694.1 L328.7 694.6 L329 695.1 L329.2 695.7 L329.5 696.2 L329.7 696.7 L330 697.3 L330.2 697.8 L330.5 698.4 L330.7 698.9 L331 699.4 L331.2 700 L331.5 700.5 L331.7 701 L332 701.6 L332.2 702.1 L332.4 702.7 L332.7 703.2 L332.9 703.7 L333.2 704.3 L333.4 704.8 L333.6 705.3 L333.9 705.9 L334.1 706.4 L334.3 707 L334.6 707.5 L334.8 708 L335 708.6 L335.3 709.1 L335.5 709.7 L335.7 710.2 L336 710.7 L336.2 711.3 L336.4 711.8 L336.6 712.3 L336.9 712.9 L337.1 713.4 L337.3 714 L337.5 714.5 L337.7 715 L338 715.6 L338.2 716.1 L338.4 716.7 L338.6 717.2 L338.8 717.8 L339 718.3 L339.2 718.8 L339.5 719.4M155.5 493.1 L156.6 493.1 L157.8 493.2 L158.9 493.2 L160.1 493.3 L161.2 493.3 L162.3 493.4 L163.5 493.4 L164.6 493.5 L165.7 493.6 L166.8 493.7 L167.9 493.9 L169 494 L170.1 494.1 L171.2 494.3 L172.3 494.4 L173.4 494.6 L174.4 494.7 L175.5 494.9 L176.6 495.1 L177.7 495.3 L178.7 495.5 L179.8 495.7 L180.9 495.9 L181.9 496.1 L183 496.3 L184.1 496.6 L185.1 496.8 L186.2 497 L187.3 497.2 L188.3 497.5 L189.4 497.7 L190.5 497.9 L191.5 498.2 L192.6 498.4 L193.7 498.7 L194.7 498.9 L195.8 499.2 L196.9 499.5 L197.9 499.7 L199 500 L200 500.3 L201 500.6 L202.1 500.8 L203.1 501.1 L204.1 501.4 L205.1 501.7 L206.1 502.1 L207.2 502.4 L208.1 502.7 L209.1 503 L210.1 503.4 L211.1 503.7 L212.1 504.1 L213 504.4 L214 504.8 L214.9 505.1 L215.9 505.5 L216.8 505.9 L217.7 506.3 L218.6 506.7 L219.5 507 L220.4 507.4 L221.3 507.8 L222.2 508.3 L223.1 508.7 L224 509.1 L224.9 509.5 L225.7 509.9 L226.6 510.4 L227.4 510.8 L228.3 511.2 L229.1 511.7 L230 512.1 L230.8 512.6 L231.6 513 L232.4 513.5 L233.2 514 L234.1 514.4 L234.9 514.9 L235.6 515.4 L236.4 515.9 L237.2 516.4 L238 516.8 L238.8 517.3 L239.6 517.8 L240.3 518.3 L241.1 518.8 L241.8 519.3 L242.6 519.8 L243.3 520.4 L244.1 520.9 L244.8 521.4 L245.6 521.9 L246.3 522.4 L247 522.9 L247.7 523.5 L248.4 524 L249.2 524.5 L249.9 525.1 L250.6 525.6 L251.3 526.1 L252 526.7 L252.7 527.2 L253.4 527.7 L254.1 528.3 L254.7 528.8 L255.4 529.4 L256.1 529.9 L256.8 530.5 L257.4 531 L258.1 531.6 L258.8 532.1 L259.4 532.7 L260.1 533.2 L260.8 533.8 L261.4 534.3 L262.1 534.9 L262.7 535.4 L263.4 536 L264 536.6 L264.6 537.1 L265.3 537.7 L265.9 538.2 L266.5 538.8 L267.2 539.4 L267.8 539.9 L268.4 540.5 L269 541.1 L269.6 541.6 L270.2 542.2 L270.8 542.8 L271.4 543.3 L272 543.9 L272.6 544.5 L273.2 545.1 L273.8 545.6 L274.4 546.2 L275 546.8 L275.6 547.4 L276.1 548 L276.7 548.5 L277.3 549.1 L277.8 549.7 L278.4 550.3 L278.9 550.9 L279.5 551.5 L280 552.1 L280.6 552.7 L281.1 553.2 L281.7 553.8 L282.2 554.4 L282.7 555 L283.2 555.6 L283.8 556.2 L284.3 556.8 L284.8 557.4 L285.3 558 L285.8 558.6 L286.3 559.2 L286.8 559.8 L287.3 560.5 L287.8 561.1 L288.3 561.7 L288.7 562.3 L289.2 562.9 L289.7 563.5 L290.1 564.1 L290.6 564.7 L291.1 565.4 L291.5 566 L292 566.6 L292.4 567.2 L292.9 567.8 L293.3 568.5 L293.7 569.1 L294.2 569.7 L294.6 570.3 L295 571 L295.5 571.6 L295.9 572.2 L296.3 572.8 L296.8 573.5 L297.2 574.1 L297.6 574.7 L298.1 575.4 L298.5 576 L298.9 576.6 L299.4 577.2 L299.8 577.9 L300.2 578.5 L300.7 579.1 L301.1 579.7 L301.6 580.4 L302 581 L302.5 581.6 L302.9 582.2 L303.4 582.9 L303.8 583.5 L304.2 584.1 L304.7 584.7 L305.1 585.3 L305.6 586 L306 586.6 L306.5 587.2 L306.9 587.8 L307.4 588.5 L307.8 589.1 L308.3 589.7 L308.7 590.3 L309.2 590.9 L309.6 591.6 L310.1 592.2 L310.5 592.8 L310.9 593.4 L311.4 594.1 L311.8 594.7 L312.2 595.3 L312.7 595.9 L313.1 596.6 L313.5 597.2 L314 597.8 L314.4 598.4 L314.8 599.1 L315.2 599.7 L315.6 600.3 L316 601 L316.5 601.6 L316.9 602.2 L317.3 602.8 L317.6 603.5 L318 604.1 L318.4 604.7 L318.8 605.4 L319.2 606 L319.6 606.7 L319.9 607.3 L320.3 607.9 L320.7 608.6 L321 609.2 L321.4 609.9 L321.7 610.5 L322.1 611.1 L322.4 611.8 L322.8 612.4 L323.1 613.1 L323.4 613.7 L323.8 614.4 L324.1 615 L324.4 615.7 L324.7 616.3 L325 617 L325.4 617.6 L325.7 618.3 L326 618.9 L326.3 619.6 L326.6 620.2 L326.9 620.9 L327.2 621.5 L327.5 622.2 L327.8 622.8 L328.2 623.5 L328.5 624.1 L328.8 624.8 L329.1 625.4 L329.4 626.1 L329.7 626.7 L330 627.4 L330.3 628 L330.6 628.7 L330.9 629.3 L331.2 630 L331.5 630.6 L331.8 631.3 L332.1 631.9 L332.4 632.6 L332.7 633.2 L333 633.9 L333.4 634.6 L333.7 635.2 L334 635.9 L334.3 636.5 L334.6 637.2 L334.9 637.8 L335.2 638.5 L335.5 639.1 L335.8 639.8 L336.2 640.4 L336.5 641.1 L336.8 641.7 L337.1 642.4 L337.4 643 L337.7 643.7 L338 644.3 L338.3 645 L338.7 645.6 L339 646.3 L339.3 646.9 L339.6 647.6 L339.9 648.2 L340.2 648.9 L340.5 649.5 L340.8 650.2 L341.2 650.8 L341.5 651.5 L341.8 652.1 L342.1 652.8 L342.4 653.4 L342.7 654.1 L343 654.7 L343.3 655.4 L343.6 656 L343.9 656.7 L344.2 657.3 L344.6 658 L344.9 658.6 L345.2 659.3 L345.5 659.9 L345.8 660.6 L346.1 661.2 L346.4 661.9 L346.7 662.5 L347 663.2 L347.3 663.8 L347.6 664.5 L347.9 665.1 L348.2 665.8 L348.5 666.4 L348.8 667.1 L349.1 667.7 L349.4 668.4 L349.7 669.1 L350 669.7 L350.3 670.4 L350.6 671 L350.9 671.7 L351.2 672.3 L351.5 673 L351.7 673.6 L352 674.3 L352.3 674.9 L352.6 675.6 L352.9 676.2 L353.2 676.9 L353.5 677.6 L353.8 678.2 L354.1 678.9 L354.3 679.5 L354.6 680.2 L354.9 680.8 L355.2 681.5 L355.5 682.1 L355.8 682.8 L356 683.4 L356.3 684.1 L356.6 684.8 L356.9 685.4 L357.1 686.1 L357.4 686.7 L357.7 687.4 L358 688 L358.2 688.7 L358.5 689.4 L358.8 690 L359.1 690.7 L359.3 691.3 L359.6 692 L359.9 692.6 L360.1 693.3 L360.4 694 L360.7 694.6 L360.9 695.3 L361.2 695.9 L361.5 696.6 L361.7 697.2 L362 697.9 L362.2 698.6 L362.5 699.2 L362.7 699.9 L363 700.5 L363.3 701.2 L363.5 701.9 L363.8 702.5 L364 703.2 L364.3 703.8 L364.5 704.5 L364.8 705.2 L365 705.8 L365.3 706.5 L365.5 707.1 L365.7 707.8 L366 708.5 L366.2 709.1 L366.5 709.8 L366.7 710.4 L366.9 711.1 L367.2 711.8 L367.4 712.4 L367.7 713.1 L367.9 713.8M163.5 442.6 L164.8 442.7 L166.1 442.7 L167.3 442.7 L168.6 442.8 L169.8 442.9 L171.1 442.9 L172.3 443 L173.5 443.1 L174.7 443.2 L176 443.4 L177.2 443.5 L178.4 443.7 L179.6 443.8 L180.8 444 L182 444.2 L183.1 444.4 L184.3 444.6 L185.5 444.8 L186.7 445 L187.9 445.2 L189 445.5 L190.2 445.7 L191.4 446 L192.5 446.2 L193.7 446.5 L194.9 446.7 L196 447 L197.2 447.3 L198.4 447.6 L199.6 447.8 L200.7 448.1 L201.9 448.4 L203.1 448.7 L204.2 449 L205.4 449.3 L206.6 449.6 L207.7 449.9 L208.9 450.2 L210 450.6 L211.2 450.9 L212.3 451.2 L213.5 451.6 L214.6 451.9 L215.7 452.3 L216.9 452.6 L218 453 L219.1 453.4 L220.2 453.7 L221.3 454.1 L222.4 454.5 L223.4 454.9 L224.5 455.3 L225.6 455.8 L226.6 456.2 L227.6 456.6 L228.7 457.1 L229.7 457.5 L230.7 458 L231.7 458.4 L232.7 458.9 L233.7 459.3 L234.7 459.8 L235.7 460.3 L236.7 460.8 L237.7 461.3 L238.6 461.8 L239.6 462.3 L240.5 462.8 L241.5 463.3 L242.4 463.9 L243.3 464.4 L244.3 464.9 L245.2 465.5 L246.1 466 L247 466.6 L247.9 467.1 L248.8 467.7 L249.7 468.2 L250.5 468.8 L251.4 469.4 L252.3 470 L253.1 470.5 L254 471.1 L254.8 471.7 L255.7 472.3 L256.5 472.9 L257.4 473.5 L258.2 474.1 L259 474.7 L259.8 475.3 L260.6 475.9 L261.5 476.6 L262.3 477.2 L263.1 477.8 L263.9 478.4 L264.6 479.1 L265.4 479.7 L266.2 480.3 L267 481 L267.8 481.6 L268.5 482.3 L269.3 482.9 L270.1 483.5 L270.8 484.2 L271.6 484.8 L272.3 485.5 L273.1 486.2 L273.8 486.8 L274.6 487.5 L275.3 488.1 L276 488.8 L276.8 489.4 L277.5 490.1 L278.2 490.8 L278.9 491.4 L279.6 492.1 L280.4 492.8 L281.1 493.4 L281.8 494.1 L282.5 494.8 L283.2 495.5 L283.9 496.1 L284.6 496.8 L285.3 497.5 L285.9 498.2 L286.6 498.8 L287.3 499.5 L288 500.2 L288.6 500.9 L289.3 501.6 L290 502.2 L290.6 502.9 L291.3 503.6 L291.9 504.3 L292.6 505 L293.2 505.7 L293.9 506.4 L294.5 507.1 L295.1 507.8 L295.8 508.5 L296.4 509.2 L297 509.9 L297.6 510.6 L298.2 511.3 L298.9 512 L299.5 512.7 L300.1 513.4 L300.7 514.1 L301.2 514.8 L301.8 515.5 L302.4 516.3 L303 517 L303.6 517.7 L304.1 518.4 L304.7 519.1 L305.3 519.8 L305.8 520.6 L306.4 521.3 L306.9 522 L307.5 522.8 L308 523.5 L308.5 524.2 L309.1 524.9 L309.6 525.7 L310.1 526.4 L310.6 527.2 L311.1 527.9 L311.6 528.6 L312.1 529.4 L312.6 530.1 L313.1 530.9 L313.6 531.6 L314.1 532.4 L314.6 533.1 L315.1 533.9 L315.5 534.6 L316 535.4 L316.5 536.1 L317 536.9 L317.4 537.6 L317.9 538.4 L318.4 539.1 L318.9 539.9 L319.3 540.6 L319.8 541.4 L320.3 542.1 L320.8 542.9 L321.2 543.6 L321.7 544.4 L322.2 545.1 L322.7 545.9 L323.2 546.6 L323.6 547.4 L324.1 548.1 L324.6 548.9 L325.1 549.6 L325.6 550.4 L326.1 551.1 L326.6 551.9 L327.1 552.6 L327.6 553.4 L328.1 554.1 L328.5 554.9 L329 555.6 L329.5 556.4 L330 557.1 L330.5 557.9 L331 558.6 L331.5 559.3 L332 560.1 L332.5 560.8 L332.9 561.6 L333.4 562.3 L333.9 563.1 L334.4 563.8 L334.9 564.6 L335.3 565.3 L335.8 566.1 L336.3 566.8 L336.8 567.6 L337.2 568.3 L337.7 569.1 L338.1 569.9 L338.6 570.6 L339.1 571.4 L339.5 572.1 L340 572.9 L340.4 573.6 L340.8 574.4 L341.3 575.2 L341.7 575.9 L342.1 576.7 L342.5 577.4 L343 578.2 L343.4 579 L343.8 579.7 L344.2 580.5 L344.6 581.3 L345 582 L345.3 582.8 L345.7 583.6 L346.1 584.4 L346.5 585.1 L346.9 585.9 L347.2 586.7 L347.6 587.5 L348 588.2 L348.3 589 L348.7 589.8 L349 590.6 L349.4 591.3 L349.7 592.1 L350.1 592.9 L350.4 593.7 L350.8 594.5 L351.1 595.2 L351.4 596 L351.8 596.8 L352.1 597.6 L352.4 598.4 L352.8 599.2 L353.1 599.9 L353.4 600.7 L353.8 601.5 L354.1 602.3 L354.4 603.1 L354.8 603.9 L355.1 604.6 L355.4 605.4 L355.8 606.2 L356.1 607 L356.5 607.8 L356.8 608.5 L357.1 609.3 L357.5 610.1 L357.8 610.9 L358.1 611.7 L358.5 612.5 L358.8 613.2 L359.2 614 L359.5 614.8 L359.8 615.6 L360.2 616.4 L360.5 617.1 L360.9 617.9 L361.2 618.7 L361.5 619.5 L361.9 620.3 L362.2 621.1 L362.6 621.8 L362.9 622.6 L363.3 623.4 L363.6 624.2 L363.9 625 L364.3 625.7 L364.6 626.5 L365 627.3 L365.3 628.1 L365.7 628.9 L366 629.6 L366.3 630.4 L366.7 631.2 L367 632 L367.4 632.8 L367.7 633.5 L368 634.3 L368.4 635.1 L368.7 635.9 L369.1 636.7 L369.4 637.5 L369.7 638.2 L370.1 639 L370.4 639.8 L370.7 640.6 L371.1 641.4 L371.4 642.1 L371.8 642.9 L372.1 643.7 L372.4 644.5 L372.8 645.3 L373.1 646.1 L373.4 646.8 L373.7 647.6 L374.1 648.4 L374.4 649.2 L374.7 650 L375.1 650.8 L375.4 651.5 L375.7 652.3 L376 653.1 L376.4 653.9 L376.7 654.7 L377 655.5 L377.3 656.2 L377.7 657 L378 657.8 L378.3 658.6 L378.6 659.4 L378.9 660.2 L379.3 661 L379.6 661.7 L379.9 662.5 L380.2 663.3 L380.5 664.1 L380.8 664.9 L381.2 665.7 L381.5 666.5 L381.8 667.2 L382.1 668 L382.4 668.8 L382.7 669.6 L383 670.4 L383.3 671.2 L383.6 672 L383.9 672.8 L384.2 673.5 L384.5 674.3 L384.9 675.1 L385.2 675.9 L385.5 676.7 L385.8 677.5 L386.1 678.3 L386.3 679.1 L386.6 679.8 L386.9 680.6 L387.2 681.4 L387.5 682.2 L387.8 683 L388.1 683.8 L388.4 684.6 L388.7 685.4 L389 686.2 L389.3 687 L389.6 687.7 L389.8 688.5 L390.1 689.3 L390.4 690.1 L390.7 690.9 L391 691.7 L391.2 692.5 L391.5 693.3 L391.8 694.1 L392.1 694.9 L392.4 695.7 L392.6 696.5 L392.9 697.3 L393.2 698 L393.4 698.8 L393.7 699.6 L394 700.4 L394.2 701.2 L394.5 702 L394.8 702.8 L395 703.6 L395.3 704.4 L395.5 705.2 L395.8 706 L396.1 706.8 L396.3 707.6M171.6 387.5 L173 387.5 L174.4 387.6 L175.7 387.6 L177.1 387.7 L178.4 387.8 L179.8 387.9 L181.1 388 L182.5 388.1 L183.8 388.2 L185.1 388.4 L186.4 388.6 L187.7 388.7 L189.1 388.9 L190.4 389.1 L191.6 389.3 L192.9 389.6 L194.2 389.8 L195.5 390.1 L196.8 390.3 L198.1 390.6 L199.3 390.9 L200.6 391.2 L201.9 391.5 L203.1 391.8 L204.4 392.1 L205.7 392.4 L207 392.7 L208.2 393 L209.5 393.3 L210.8 393.7 L212.1 394 L213.3 394.4 L214.6 394.7 L215.9 395 L217.1 395.4 L218.4 395.8 L219.7 396.1 L220.9 396.5 L222.2 396.9 L223.4 397.3 L224.7 397.7 L225.9 398.1 L227.2 398.5 L228.4 398.9 L229.6 399.3 L230.8 399.8 L232 400.2 L233.2 400.7 L234.4 401.1 L235.6 401.6 L236.7 402.1 L237.9 402.5 L239.1 403 L240.2 403.5 L241.3 404.1 L242.5 404.6 L243.6 405.1 L244.7 405.6 L245.8 406.2 L246.9 406.7 L248 407.3 L249 407.9 L250.1 408.4 L251.2 409 L252.2 409.6 L253.3 410.2 L254.3 410.8 L255.3 411.4 L256.4 412 L257.4 412.6 L258.4 413.2 L259.4 413.9 L260.4 414.5 L261.4 415.2 L262.4 415.8 L263.3 416.5 L264.3 417.1 L265.3 417.8 L266.2 418.5 L267.2 419.1 L268.1 419.8 L269 420.5 L270 421.2 L270.9 421.9 L271.8 422.6 L272.7 423.3 L273.6 424 L274.5 424.7 L275.4 425.5 L276.3 426.2 L277.2 426.9 L278.1 427.6 L279 428.4 L279.8 429.1 L280.7 429.9 L281.6 430.6 L282.4 431.4 L283.3 432.1 L284.1 432.9 L285 433.6 L285.8 434.4 L286.6 435.1 L287.5 435.9 L288.3 436.7 L289.1 437.4 L289.9 438.2 L290.7 439 L291.5 439.8 L292.3 440.5 L293.1 441.3 L293.9 442.1 L294.7 442.9 L295.5 443.7 L296.3 444.4 L297.1 445.2 L297.9 446 L298.6 446.8 L299.4 447.6 L300.2 448.4 L300.9 449.2 L301.7 450 L302.5 450.8 L303.2 451.6 L304 452.4 L304.7 453.2 L305.5 454 L306.2 454.8 L306.9 455.6 L307.7 456.4 L308.4 457.2 L309.1 458 L309.8 458.8 L310.5 459.6 L311.2 460.5 L311.9 461.3 L312.6 462.1 L313.3 462.9 L314 463.7 L314.7 464.6 L315.4 465.4 L316.1 466.2 L316.8 467 L317.4 467.9 L318.1 468.7 L318.8 469.5 L319.4 470.4 L320.1 471.2 L320.7 472.1 L321.4 472.9 L322 473.7 L322.6 474.6 L323.3 475.4 L323.9 476.3 L324.5 477.1 L325.1 478 L325.7 478.8 L326.3 479.7 L326.9 480.5 L327.5 481.4 L328.1 482.3 L328.7 483.1 L329.3 484 L329.9 484.9 L330.4 485.7 L331 486.6 L331.5 487.5 L332.1 488.3 L332.7 489.2 L333.2 490.1 L333.7 491 L334.3 491.9 L334.8 492.7 L335.3 493.6 L335.9 494.5 L336.4 495.4 L336.9 496.3 L337.4 497.2 L337.9 498.1 L338.5 498.9 L339 499.8 L339.5 500.7 L340 501.6 L340.5 502.5 L341 503.4 L341.5 504.3 L342.1 505.2 L342.6 506.1 L343.1 507 L343.6 507.8 L344.1 508.7 L344.7 509.6 L345.2 510.5 L345.7 511.4 L346.2 512.3 L346.8 513.2 L347.3 514.1 L347.8 514.9 L348.4 515.8 L348.9 516.7 L349.4 517.6 L350 518.5 L350.5 519.4 L351 520.2 L351.6 521.1 L352.1 522 L352.7 522.9 L353.2 523.8 L353.7 524.7 L354.2 525.5 L354.8 526.4 L355.3 527.3 L355.8 528.2 L356.4 529.1 L356.9 530 L357.4 530.9 L357.9 531.7 L358.4 532.6 L359 533.5 L359.5 534.4 L360 535.3 L360.5 536.2 L361 537.1 L361.5 538 L362 538.9 L362.5 539.7 L363 540.6 L363.5 541.5 L363.9 542.4 L364.4 543.3 L364.9 544.2 L365.3 545.1 L365.8 546 L366.3 546.9 L366.7 547.8 L367.2 548.7 L367.6 549.6 L368 550.6 L368.5 551.5 L368.9 552.4 L369.3 553.3 L369.7 554.2 L370.2 555.1 L370.6 556 L371 556.9 L371.4 557.9 L371.8 558.8 L372.2 559.7 L372.5 560.6 L372.9 561.5 L373.3 562.5 L373.7 563.4 L374.1 564.3 L374.5 565.2 L374.8 566.1 L375.2 567.1 L375.6 568 L375.9 568.9 L376.3 569.8 L376.7 570.8 L377 571.7 L377.4 572.6 L377.8 573.5 L378.1 574.5 L378.5 575.4 L378.8 576.3 L379.2 577.2 L379.6 578.2 L379.9 579.1 L380.3 580 L380.7 580.9 L381 581.9 L381.4 582.8 L381.8 583.7 L382.1 584.6 L382.5 585.6 L382.9 586.5 L383.2 587.4 L383.6 588.3 L384 589.3 L384.3 590.2 L384.7 591.1 L385.1 592 L385.5 593 L385.8 593.9 L386.2 594.8 L386.6 595.7 L386.9 596.7 L387.3 597.6 L387.7 598.5 L388.1 599.4 L388.4 600.4 L388.8 601.3 L389.2 602.2 L389.5 603.1 L389.9 604 L390.3 605 L390.7 605.9 L391 606.8 L391.4 607.7 L391.8 608.7 L392.1 609.6 L392.5 610.5 L392.9 611.4 L393.3 612.4 L393.6 613.3 L394 614.2 L394.4 615.1 L394.7 616.1 L395.1 617 L395.5 617.9 L395.8 618.8 L396.2 619.8 L396.6 620.7 L396.9 621.6 L397.3 622.5 L397.7 623.5 L398 624.4 L398.4 625.3 L398.8 626.2 L399.1 627.2 L399.5 628.1 L399.8 629 L400.2 629.9 L400.6 630.9 L400.9 631.8 L401.3 632.7 L401.6 633.6 L402 634.6 L402.3 635.5 L402.7 636.4 L403.1 637.3 L403.4 638.3 L403.8 639.2 L404.1 640.1 L404.5 641.1 L404.8 642 L405.2 642.9 L405.5 643.8 L405.9 644.8 L406.2 645.7 L406.5 646.6 L406.9 647.6 L407.2 648.5 L407.6 649.4 L407.9 650.3 L408.3 651.3 L408.6 652.2 L408.9 653.1 L409.3 654.1 L409.6 655 L410 655.9 L410.3 656.9 L410.6 657.8 L411 658.7 L411.3 659.6 L411.6 660.6 L411.9 661.5 L412.3 662.4 L412.6 663.4 L412.9 664.3 L413.3 665.2 L413.6 666.2 L413.9 667.1 L414.2 668 L414.6 669 L414.9 669.9 L415.2 670.8 L415.5 671.8 L415.8 672.7 L416.1 673.6 L416.5 674.6 L416.8 675.5 L417.1 676.4 L417.4 677.4 L417.7 678.3 L418 679.3 L418.3 680.2 L418.6 681.1 L418.9 682.1 L419.2 683 L419.5 683.9 L419.8 684.9 L420.1 685.8 L420.4 686.7 L420.7 687.7 L421 688.6 L421.3 689.6 L421.6 690.5 L421.9 691.4 L422.2 692.4 L422.5 693.3 L422.8 694.2 L423.1 695.2 L423.3 696.1 L423.6 697.1 L423.9 698 L424.2 698.9 L424.5 699.9 L424.7 700.8M179.7 327.8 L181.2 327.8 L182.7 327.9 L184.1 327.9 L185.6 328 L187.1 328.1 L188.5 328.2 L190 328.3 L191.4 328.5 L192.9 328.6 L194.3 328.8 L195.7 329 L197.1 329.2 L198.5 329.4 L199.9 329.7 L201.3 329.9 L202.7 330.2 L204.1 330.5 L205.5 330.8 L206.9 331.1 L208.3 331.4 L209.6 331.7 L211 332.1 L212.4 332.4 L213.8 332.8 L215.1 333.1 L216.5 333.5 L217.9 333.8 L219.3 334.2 L220.6 334.6 L222 335 L223.4 335.4 L224.8 335.8 L226.1 336.2 L227.5 336.6 L228.9 337 L230.3 337.4 L231.6 337.8 L233 338.3 L234.3 338.7 L235.7 339.2 L237 339.6 L238.4 340.1 L239.7 340.6 L241 341.1 L242.3 341.6 L243.6 342.1 L244.9 342.6 L246.2 343.1 L247.5 343.7 L248.8 344.2 L250.1 344.8 L251.3 345.3 L252.6 345.9 L253.8 346.5 L255 347.1 L256.2 347.7 L257.4 348.3 L258.6 348.9 L259.8 349.6 L261 350.2 L262.2 350.9 L263.3 351.5 L264.5 352.2 L265.6 352.9 L266.8 353.6 L267.9 354.2 L269 354.9 L270.1 355.7 L271.2 356.4 L272.3 357.1 L273.4 357.8 L274.5 358.6 L275.6 359.3 L276.7 360.1 L277.7 360.8 L278.8 361.6 L279.8 362.4 L280.9 363.1 L281.9 363.9 L282.9 364.7 L283.9 365.5 L285 366.3 L286 367.1 L287 367.9 L288 368.8 L288.9 369.6 L289.9 370.4 L290.9 371.2 L291.9 372.1 L292.8 372.9 L293.8 373.8 L294.7 374.6 L295.7 375.5 L296.6 376.3 L297.5 377.2 L298.5 378.1 L299.4 379 L300.3 379.8 L301.2 380.7 L302.1 381.6 L303 382.5 L303.9 383.4 L304.8 384.3 L305.7 385.2 L306.6 386.1 L307.5 387 L308.4 387.9 L309.2 388.8 L310.1 389.7 L311 390.6 L311.8 391.5 L312.7 392.4 L313.6 393.3 L314.4 394.2 L315.3 395.2 L316.1 396.1 L316.9 397 L317.8 397.9 L318.6 398.9 L319.4 399.8 L320.2 400.7 L321.1 401.6 L321.9 402.6 L322.7 403.5 L323.5 404.4 L324.3 405.4 L325.1 406.3 L325.9 407.3 L326.7 408.2 L327.5 409.1 L328.2 410.1 L329 411 L329.8 412 L330.5 412.9 L331.3 413.9 L332.1 414.8 L332.8 415.8 L333.6 416.8 L334.3 417.7 L335 418.7 L335.8 419.7 L336.5 420.6 L337.2 421.6 L338 422.6 L338.7 423.5 L339.4 424.5 L340.1 425.5 L340.8 426.5 L341.5 427.4 L342.2 428.4 L342.8 429.4 L343.5 430.4 L344.2 431.4 L344.9 432.4 L345.5 433.4 L346.2 434.4 L346.8 435.4 L347.5 436.4 L348.1 437.4 L348.8 438.4 L349.4 439.4 L350 440.4 L350.7 441.4 L351.3 442.4 L351.9 443.4 L352.5 444.5 L353.1 445.5 L353.7 446.5 L354.3 447.5 L354.8 448.6 L355.4 449.6 L356 450.6 L356.6 451.6 L357.1 452.7 L357.7 453.7 L358.3 454.8 L358.8 455.8 L359.4 456.8 L360 457.9 L360.5 458.9 L361.1 459.9 L361.6 461 L362.2 462 L362.7 463.1 L363.3 464.1 L363.8 465.1 L364.4 466.2 L365 467.2 L365.5 468.2 L366.1 469.3 L366.7 470.3 L367.2 471.4 L367.8 472.4 L368.4 473.4 L368.9 474.5 L369.5 475.5 L370.1 476.5 L370.7 477.6 L371.2 478.6 L371.8 479.6 L372.4 480.7 L373 481.7 L373.6 482.7 L374.1 483.7 L374.7 484.8 L375.3 485.8 L375.9 486.8 L376.4 487.9 L377 488.9 L377.6 489.9 L378.2 491 L378.7 492 L379.3 493 L379.9 494.1 L380.4 495.1 L381 496.1 L381.5 497.2 L382.1 498.2 L382.7 499.2 L383.2 500.3 L383.7 501.3 L384.3 502.4 L384.8 503.4 L385.4 504.4 L385.9 505.5 L386.4 506.5 L387 507.6 L387.5 508.6 L388 509.7 L388.5 510.7 L389 511.8 L389.5 512.8 L390 513.9 L390.5 514.9 L391 516 L391.4 517 L391.9 518.1 L392.4 519.2 L392.8 520.2 L393.3 521.3 L393.7 522.4 L394.2 523.4 L394.6 524.5 L395.1 525.6 L395.5 526.6 L395.9 527.7 L396.4 528.8 L396.8 529.8 L397.2 530.9 L397.6 532 L398 533.1 L398.4 534.1 L398.8 535.2 L399.2 536.3 L399.6 537.4 L400 538.5 L400.4 539.5 L400.8 540.6 L401.2 541.7 L401.6 542.8 L402 543.9 L402.4 544.9 L402.8 546 L403.2 547.1 L403.6 548.2 L404 549.3 L404.4 550.3 L404.8 551.4 L405.2 552.5 L405.5 553.6 L405.9 554.7 L406.3 555.7 L406.7 556.8 L407.1 557.9 L407.5 559 L407.9 560.1 L408.3 561.1 L408.7 562.2 L409.1 563.3 L409.5 564.4 L409.9 565.5 L410.3 566.5 L410.7 567.6 L411.1 568.7 L411.5 569.8 L411.9 570.8 L412.3 571.9 L412.7 573 L413.1 574.1 L413.5 575.2 L413.9 576.2 L414.3 577.3 L414.7 578.4 L415.1 579.5 L415.5 580.5 L415.9 581.6 L416.3 582.7 L416.7 583.8 L417.1 584.9 L417.6 585.9 L418 587 L418.4 588.1 L418.8 589.2 L419.2 590.2 L419.6 591.3 L420 592.4 L420.4 593.5 L420.8 594.6 L421.2 595.6 L421.5 596.7 L421.9 597.8 L422.3 598.9 L422.7 600 L423.1 601 L423.5 602.1 L423.9 603.2 L424.3 604.3 L424.7 605.4 L425.1 606.4 L425.5 607.5 L425.9 608.6 L426.3 609.7 L426.7 610.8 L427 611.8 L427.4 612.9 L427.8 614 L428.2 615.1 L428.6 616.2 L429 617.2 L429.4 618.3 L429.7 619.4 L430.1 620.5 L430.5 621.6 L430.9 622.7 L431.3 623.7 L431.6 624.8 L432 625.9 L432.4 627 L432.8 628.1 L433.1 629.2 L433.5 630.2 L433.9 631.3 L434.3 632.4 L434.6 633.5 L435 634.6 L435.4 635.7 L435.7 636.8 L436.1 637.8 L436.5 638.9 L436.8 640 L437.2 641.1 L437.6 642.2 L437.9 643.3 L438.3 644.4 L438.6 645.4 L439 646.5 L439.3 647.6 L439.7 648.7 L440.1 649.8 L440.4 650.9 L440.8 652 L441.1 653.1 L441.5 654.1 L441.8 655.2 L442.2 656.3 L442.5 657.4 L442.9 658.5 L443.2 659.6 L443.5 660.7 L443.9 661.8 L444.2 662.9 L444.6 664 L444.9 665.1 L445.2 666.1 L445.6 667.2 L445.9 668.3 L446.2 669.4 L446.6 670.5 L446.9 671.6 L447.2 672.7 L447.5 673.8 L447.9 674.9 L448.2 676 L448.5 677.1 L448.8 678.2 L449.2 679.3 L449.5 680.4 L449.8 681.4 L450.1 682.5 L450.4 683.6 L450.7 684.7 L451 685.8 L451.4 686.9 L451.7 688 L452 689.1 L452.3 690.2 L452.6 691.3 L452.9 692.4 L453.2 693.5M187.8 263.4 L189.4 263.5 L191 263.5 L192.5 263.6 L194.1 263.7 L195.7 263.8 L197.3 263.9 L198.8 264.1 L200.4 264.2 L201.9 264.4 L203.4 264.6 L205 264.8 L206.5 265.1 L208 265.3 L209.5 265.6 L211 265.9 L212.5 266.2 L214 266.5 L215.5 266.9 L217 267.2 L218.5 267.6 L219.9 268 L221.4 268.4 L222.9 268.8 L224.4 269.2 L225.8 269.6 L227.3 270 L228.8 270.4 L230.3 270.9 L231.8 271.3 L233.2 271.7 L234.7 272.2 L236.2 272.7 L237.7 273.1 L239.1 273.6 L240.6 274.1 L242.1 274.6 L243.6 275.1 L245 275.6 L246.5 276.1 L247.9 276.6 L249.4 277.1 L250.8 277.7 L252.2 278.2 L253.7 278.8 L255.1 279.4 L256.5 279.9 L257.9 280.5 L259.3 281.2 L260.6 281.8 L262 282.4 L263.4 283 L264.7 283.7 L266 284.4 L267.4 285 L268.7 285.7 L270 286.4 L271.3 287.1 L272.6 287.9 L273.9 288.6 L275.1 289.3 L276.4 290.1 L277.6 290.8 L278.9 291.6 L280.1 292.4 L281.3 293.2 L282.5 294 L283.8 294.8 L285 295.6 L286.1 296.4 L287.3 297.3 L288.5 298.1 L289.7 299 L290.8 299.8 L292 300.7 L293.1 301.6 L294.2 302.5 L295.4 303.3 L296.5 304.2 L297.6 305.2 L298.7 306.1 L299.8 307 L300.9 307.9 L301.9 308.8 L303 309.8 L304.1 310.7 L305.1 311.7 L306.2 312.6 L307.2 313.6 L308.3 314.6 L309.3 315.5 L310.3 316.5 L311.4 317.5 L312.4 318.5 L313.4 319.5 L314.4 320.5 L315.4 321.5 L316.4 322.5 L317.4 323.5 L318.4 324.5 L319.3 325.6 L320.3 326.6 L321.3 327.6 L322.2 328.6 L323.2 329.7 L324.1 330.7 L325.1 331.8 L326 332.8 L327 333.8 L327.9 334.9 L328.8 335.9 L329.8 337 L330.7 338 L331.6 339.1 L332.5 340.2 L333.4 341.2 L334.3 342.3 L335.2 343.3 L336.1 344.4 L337 345.5 L337.9 346.5 L338.8 347.6 L339.7 348.7 L340.5 349.8 L341.4 350.8 L342.3 351.9 L343.1 353 L344 354.1 L344.8 355.2 L345.7 356.3 L346.5 357.4 L347.4 358.4 L348.2 359.5 L349 360.6 L349.8 361.7 L350.7 362.8 L351.5 363.9 L352.3 365 L353.1 366.2 L353.9 367.3 L354.7 368.4 L355.5 369.5 L356.3 370.6 L357 371.7 L357.8 372.8 L358.6 374 L359.3 375.1 L360.1 376.2 L360.8 377.4 L361.6 378.5 L362.3 379.6 L363.1 380.8 L363.8 381.9 L364.5 383 L365.2 384.2 L366 385.3 L366.7 386.5 L367.4 387.6 L368.1 388.8 L368.7 390 L369.4 391.1 L370.1 392.3 L370.8 393.4 L371.5 394.6 L372.1 395.8 L372.8 397 L373.4 398.1 L374.1 399.3 L374.7 400.5 L375.3 401.7 L376 402.9 L376.6 404 L377.2 405.2 L377.8 406.4 L378.4 407.6 L379 408.8 L379.6 410 L380.2 411.2 L380.8 412.4 L381.4 413.6 L382 414.8 L382.6 416 L383.2 417.2 L383.8 418.4 L384.4 419.6 L385 420.8 L385.6 422 L386.2 423.2 L386.8 424.4 L387.4 425.6 L388 426.8 L388.6 428 L389.3 429.2 L389.9 430.4 L390.5 431.6 L391.1 432.8 L391.7 434 L392.3 435.1 L393 436.3 L393.6 437.5 L394.2 438.7 L394.8 439.9 L395.4 441.1 L396.1 442.3 L396.7 443.5 L397.3 444.7 L397.9 445.9 L398.5 447.1 L399.2 448.2 L399.8 449.4 L400.4 450.6 L401 451.8 L401.6 453 L402.2 454.2 L402.8 455.4 L403.4 456.6 L404 457.8 L404.6 459 L405.2 460.2 L405.8 461.4 L406.4 462.6 L407 463.8 L407.6 465 L408.2 466.2 L408.8 467.4 L409.3 468.6 L409.9 469.8 L410.5 471 L411 472.2 L411.6 473.4 L412.1 474.6 L412.7 475.8 L413.2 477 L413.7 478.3 L414.2 479.5 L414.8 480.7 L415.3 481.9 L415.8 483.1 L416.3 484.4 L416.8 485.6 L417.3 486.8 L417.8 488 L418.2 489.3 L418.7 490.5 L419.2 491.7 L419.6 493 L420.1 494.2 L420.6 495.5 L421 496.7 L421.5 497.9 L421.9 499.2 L422.3 500.4 L422.8 501.7 L423.2 502.9 L423.7 504.1 L424.1 505.4 L424.5 506.6 L424.9 507.9 L425.4 509.1 L425.8 510.4 L426.2 511.6 L426.6 512.9 L427.1 514.1 L427.5 515.4 L427.9 516.6 L428.3 517.9 L428.7 519.1 L429.2 520.4 L429.6 521.6 L430 522.8 L430.4 524.1 L430.9 525.3 L431.3 526.6 L431.7 527.8 L432.1 529.1 L432.6 530.3 L433 531.6 L433.4 532.8 L433.8 534.1 L434.3 535.3 L434.7 536.6 L435.1 537.8 L435.6 539 L436 540.3 L436.4 541.5 L436.9 542.8 L437.3 544 L437.7 545.3 L438.1 546.5 L438.6 547.8 L439 549 L439.4 550.2 L439.9 551.5 L440.3 552.7 L440.7 554 L441.2 555.2 L441.6 556.5 L442 557.7 L442.5 559 L442.9 560.2 L443.3 561.4 L443.8 562.7 L444.2 563.9 L444.6 565.2 L445.1 566.4 L445.5 567.7 L445.9 568.9 L446.3 570.2 L446.8 571.4 L447.2 572.6 L447.6 573.9 L448.1 575.1 L448.5 576.4 L448.9 577.6 L449.3 578.9 L449.8 580.1 L450.2 581.4 L450.6 582.6 L451 583.9 L451.4 585.1 L451.9 586.4 L452.3 587.6 L452.7 588.8 L453.1 590.1 L453.5 591.3 L453.9 592.6 L454.4 593.8 L454.8 595.1 L455.2 596.3 L455.6 597.6 L456 598.8 L456.4 600.1 L456.8 601.3 L457.2 602.6 L457.7 603.8 L458.1 605.1 L458.5 606.3 L458.9 607.6 L459.3 608.8 L459.7 610.1 L460.1 611.3 L460.5 612.6 L460.9 613.8 L461.3 615.1 L461.7 616.3 L462.1 617.6 L462.5 618.9 L462.9 620.1 L463.3 621.4 L463.7 622.6 L464 623.9 L464.4 625.1 L464.8 626.4 L465.2 627.6 L465.6 628.9 L466 630.1 L466.4 631.4 L466.7 632.7 L467.1 633.9 L467.5 635.2 L467.9 636.4 L468.3 637.7 L468.6 638.9 L469 640.2 L469.4 641.4 L469.8 642.7 L470.1 644 L470.5 645.2 L470.9 646.5 L471.2 647.7 L471.6 649 L472 650.3 L472.3 651.5 L472.7 652.8 L473.1 654 L473.4 655.3 L473.8 656.6 L474.1 657.8 L474.5 659.1 L474.9 660.3 L475.2 661.6 L475.6 662.9 L475.9 664.1 L476.3 665.4 L476.6 666.7 L476.9 667.9 L477.3 669.2 L477.6 670.4 L478 671.7 L478.3 673 L478.6 674.2 L479 675.5 L479.3 676.8 L479.6 678 L480 679.3 L480.3 680.6 L480.6 681.8 L481 683.1 L481.3 684.4 L481.6 685.6M195.8 194.5 L197.6 194.5 L199.3 194.6 L201 194.7 L202.6 194.8 L204.3 194.9 L206 195 L207.7 195.2 L209.3 195.4 L211 195.6 L212.6 195.8 L214.2 196.1 L215.9 196.3 L217.5 196.6 L219.1 197 L220.7 197.3 L222.3 197.6 L223.9 198 L225.5 198.4 L227.1 198.8 L228.7 199.2 L230.2 199.7 L231.8 200.1 L233.4 200.6 L235 201 L236.5 201.5 L238.1 202 L239.7 202.5 L241.3 203 L242.9 203.5 L244.5 204 L246 204.5 L247.6 205 L249.2 205.5 L250.8 206.1 L252.4 206.6 L253.9 207.2 L255.5 207.8 L257.1 208.3 L258.6 208.9 L260.2 209.5 L261.7 210.1 L263.2 210.8 L264.8 211.4 L266.3 212 L267.8 212.7 L269.3 213.4 L270.8 214 L272.3 214.7 L273.8 215.4 L275.2 216.2 L276.7 216.9 L278.1 217.6 L279.5 218.4 L281 219.2 L282.4 220 L283.8 220.8 L285.2 221.6 L286.5 222.4 L287.9 223.2 L289.3 224.1 L290.6 224.9 L291.9 225.8 L293.3 226.7 L294.6 227.6 L295.9 228.5 L297.2 229.4 L298.5 230.3 L299.8 231.3 L301 232.2 L302.3 233.2 L303.5 234.1 L304.8 235.1 L306 236.1 L307.2 237.1 L308.5 238.1 L309.7 239.1 L310.9 240.1 L312.1 241.1 L313.3 242.2 L314.4 243.2 L315.6 244.3 L316.8 245.3 L317.9 246.4 L319.1 247.5 L320.2 248.5 L321.3 249.6 L322.5 250.7 L323.6 251.8 L324.7 252.9 L325.8 254.1 L326.9 255.2 L328 256.3 L329.1 257.4 L330.2 258.6 L331.2 259.7 L332.3 260.9 L333.4 262 L334.4 263.2 L335.5 264.3 L336.5 265.5 L337.6 266.7 L338.6 267.8 L339.6 269 L340.6 270.2 L341.7 271.4 L342.7 272.6 L343.7 273.8 L344.7 275 L345.7 276.2 L346.7 277.4 L347.7 278.6 L348.6 279.8 L349.6 281 L350.6 282.2 L351.6 283.4 L352.5 284.6 L353.5 285.8 L354.5 287.1 L355.4 288.3 L356.4 289.5 L357.3 290.7 L358.3 291.9 L359.2 293.2 L360.1 294.4 L361 295.6 L362 296.9 L362.9 298.1 L363.8 299.4 L364.7 300.6 L365.6 301.9 L366.5 303.1 L367.4 304.4 L368.3 305.6 L369.2 306.9 L370 308.1 L370.9 309.4 L371.8 310.6 L372.6 311.9 L373.5 313.2 L374.3 314.5 L375.2 315.7 L376 317 L376.8 318.3 L377.7 319.6 L378.5 320.9 L379.3 322.1 L380.1 323.4 L380.9 324.7 L381.7 326 L382.5 327.3 L383.3 328.6 L384.1 329.9 L384.8 331.2 L385.6 332.5 L386.4 333.8 L387.1 335.2 L387.9 336.5 L388.6 337.8 L389.4 339.1 L390.1 340.5 L390.8 341.8 L391.5 343.1 L392.3 344.5 L393 345.8 L393.7 347.1 L394.4 348.5 L395 349.8 L395.7 351.2 L396.4 352.5 L397.1 353.9 L397.7 355.2 L398.4 356.6 L399.1 358 L399.7 359.3 L400.4 360.7 L401 362.1 L401.7 363.4 L402.3 364.8 L402.9 366.2 L403.6 367.5 L404.2 368.9 L404.9 370.3 L405.5 371.6 L406.1 373 L406.8 374.4 L407.4 375.8 L408 377.1 L408.7 378.5 L409.3 379.9 L410 381.2 L410.6 382.6 L411.3 384 L411.9 385.3 L412.6 386.7 L413.3 388.1 L413.9 389.4 L414.6 390.8 L415.2 392.2 L415.9 393.5 L416.6 394.9 L417.2 396.2 L417.9 397.6 L418.6 399 L419.2 400.3 L419.9 401.7 L420.5 403 L421.2 404.4 L421.9 405.8 L422.5 407.1 L423.2 408.5 L423.8 409.9 L424.5 411.2 L425.2 412.6 L425.8 413.9 L426.4 415.3 L427.1 416.7 L427.7 418 L428.4 419.4 L429 420.8 L429.6 422.2 L430.3 423.5 L430.9 424.9 L431.5 426.3 L432.1 427.6 L432.7 429 L433.4 430.4 L434 431.8 L434.6 433.2 L435.1 434.5 L435.7 435.9 L436.3 437.3 L436.9 438.7 L437.4 440.1 L438 441.5 L438.6 442.9 L439.1 444.3 L439.7 445.7 L440.2 447.1 L440.7 448.5 L441.2 449.9 L441.8 451.3 L442.3 452.7 L442.8 454.1 L443.3 455.5 L443.8 456.9 L444.3 458.3 L444.8 459.7 L445.2 461.2 L445.7 462.6 L446.2 464 L446.7 465.4 L447.1 466.8 L447.6 468.3 L448.1 469.7 L448.5 471.1 L449 472.5 L449.4 474 L449.9 475.4 L450.4 476.8 L450.8 478.2 L451.3 479.7 L451.7 481.1 L452.2 482.5 L452.6 483.9 L453.1 485.4 L453.5 486.8 L454 488.2 L454.4 489.6 L454.9 491.1 L455.3 492.5 L455.8 493.9 L456.2 495.3 L456.7 496.8 L457.1 498.2 L457.6 499.6 L458 501 L458.5 502.5 L459 503.9 L459.4 505.3 L459.9 506.7 L460.3 508.2 L460.8 509.6 L461.3 511 L461.7 512.4 L462.2 513.9 L462.6 515.3 L463.1 516.7 L463.6 518.1 L464 519.5 L464.5 521 L465 522.4 L465.4 523.8 L465.9 525.2 L466.3 526.7 L466.8 528.1 L467.3 529.5 L467.7 530.9 L468.2 532.4 L468.6 533.8 L469.1 535.2 L469.6 536.6 L470 538 L470.5 539.5 L470.9 540.9 L471.4 542.3 L471.9 543.7 L472.3 545.2 L472.8 546.6 L473.2 548 L473.7 549.4 L474.2 550.9 L474.6 552.3 L475.1 553.7 L475.5 555.1 L476 556.6 L476.4 558 L476.9 559.4 L477.3 560.8 L477.8 562.3 L478.2 563.7 L478.7 565.1 L479.1 566.5 L479.6 568 L480 569.4 L480.5 570.8 L480.9 572.2 L481.3 573.7 L481.8 575.1 L482.2 576.5 L482.7 578 L483.1 579.4 L483.5 580.8 L484 582.2 L484.4 583.7 L484.9 585.1 L485.3 586.5 L485.7 588 L486.2 589.4 L486.6 590.8 L487 592.2 L487.4 593.7 L487.9 595.1 L488.3 596.5 L488.7 598 L489.2 599.4 L489.6 600.8 L490 602.3 L490.4 603.7 L490.8 605.1 L491.3 606.6 L491.7 608 L492.1 609.4 L492.5 610.9 L492.9 612.3 L493.3 613.7 L493.7 615.2 L494.2 616.6 L494.6 618 L495 619.5 L495.4 620.9 L495.8 622.4 L496.2 623.8 L496.6 625.2 L497 626.7 L497.4 628.1 L497.8 629.5 L498.2 631 L498.6 632.4 L499 633.9 L499.4 635.3 L499.7 636.7 L500.1 638.2 L500.5 639.6 L500.9 641.1 L501.3 642.5 L501.7 643.9 L502.1 645.4 L502.4 646.8 L502.8 648.3 L503.2 649.7 L503.6 651.2 L503.9 652.6 L504.3 654 L504.7 655.5 L505.1 656.9 L505.4 658.4 L505.8 659.8 L506.1 661.3 L506.5 662.7 L506.9 664.2 L507.2 665.6 L507.6 667.1 L507.9 668.5 L508.3 669.9 L508.6 671.4 L509 672.8 L509.3 674.3 L509.7 675.7 L510 677.2M203.9 120.9 L205.7 120.9 L207.6 121 L209.4 121.1 L211.2 121.2 L212.9 121.4 L214.7 121.5 L216.5 121.7 L218.3 121.9 L220 122.2 L221.8 122.4 L223.5 122.7 L225.2 123 L227 123.3 L228.7 123.7 L230.4 124.1 L232.1 124.5 L233.8 124.9 L235.5 125.3 L237.2 125.8 L238.9 126.3 L240.5 126.8 L242.2 127.3 L243.9 127.8 L245.6 128.3 L247.3 128.9 L248.9 129.4 L250.6 130 L252.3 130.5 L254 131.1 L255.7 131.7 L257.4 132.2 L259.1 132.8 L260.7 133.4 L262.4 134.1 L264.1 134.7 L265.8 135.3 L267.4 136 L269.1 136.6 L270.8 137.3 L272.4 138 L274 138.6 L275.7 139.3 L277.3 140.1 L278.9 140.8 L280.5 141.5 L282.1 142.3 L283.7 143.1 L285.3 143.9 L286.9 144.7 L288.4 145.5 L290 146.3 L291.5 147.2 L293 148 L294.6 148.9 L296.1 149.8 L297.5 150.7 L299 151.6 L300.5 152.6 L301.9 153.5 L303.4 154.5 L304.8 155.4 L306.2 156.4 L307.7 157.4 L309.1 158.4 L310.4 159.5 L311.8 160.5 L313.2 161.5 L314.6 162.6 L315.9 163.7 L317.3 164.8 L318.6 165.8 L319.9 167 L321.2 168.1 L322.5 169.2 L323.8 170.3 L325.1 171.5 L326.4 172.6 L327.7 173.8 L328.9 175 L330.2 176.2 L331.4 177.3 L332.7 178.5 L333.9 179.8 L335.1 181 L336.3 182.2 L337.6 183.4 L338.8 184.7 L339.9 185.9 L341.1 187.2 L342.3 188.4 L343.5 189.7 L344.6 191 L345.8 192.3 L346.9 193.6 L348.1 194.9 L349.2 196.2 L350.4 197.5 L351.5 198.8 L352.6 200.1 L353.7 201.4 L354.8 202.7 L355.9 204.1 L357 205.4 L358.1 206.8 L359.2 208.1 L360.3 209.4 L361.3 210.8 L362.4 212.2 L363.5 213.5 L364.5 214.9 L365.6 216.2 L366.6 217.6 L367.7 219 L368.7 220.3 L369.7 221.7 L370.8 223.1 L371.8 224.5 L372.8 225.9 L373.8 227.2 L374.8 228.6 L375.9 230 L376.9 231.4 L377.8 232.8 L378.8 234.2 L379.8 235.6 L380.8 237 L381.8 238.4 L382.7 239.8 L383.7 241.2 L384.7 242.6 L385.6 244 L386.6 245.5 L387.5 246.9 L388.5 248.3 L389.4 249.7 L390.3 251.2 L391.2 252.6 L392.1 254 L393.1 255.5 L394 256.9 L394.9 258.4 L395.7 259.8 L396.6 261.3 L397.5 262.7 L398.4 264.2 L399.3 265.6 L400.1 267.1 L401 268.6 L401.8 270 L402.7 271.5 L403.5 273 L404.3 274.5 L405.2 275.9 L406 277.4 L406.8 278.9 L407.6 280.4 L408.4 281.9 L409.2 283.4 L410 284.9 L410.8 286.4 L411.5 287.9 L412.3 289.4 L413.1 290.9 L413.8 292.4 L414.5 294 L415.3 295.5 L416 297 L416.7 298.6 L417.5 300.1 L418.2 301.6 L418.9 303.2 L419.6 304.7 L420.3 306.2 L421 307.8 L421.7 309.3 L422.4 310.9 L423.1 312.4 L423.7 314 L424.4 315.5 L425.1 317.1 L425.8 318.7 L426.5 320.2 L427.1 321.8 L427.8 323.3 L428.5 324.9 L429.2 326.4 L429.9 328 L430.6 329.5 L431.2 331.1 L431.9 332.6 L432.6 334.2 L433.3 335.7 L434 337.3 L434.7 338.8 L435.4 340.4 L436.1 341.9 L436.8 343.5 L437.5 345 L438.2 346.6 L438.9 348.1 L439.6 349.6 L440.4 351.2 L441.1 352.7 L441.8 354.3 L442.5 355.8 L443.2 357.4 L443.9 358.9 L444.6 360.5 L445.3 362 L446 363.5 L446.7 365.1 L447.4 366.6 L448.1 368.2 L448.8 369.7 L449.5 371.3 L450.2 372.8 L450.8 374.4 L451.5 375.9 L452.2 377.5 L452.9 379 L453.5 380.6 L454.2 382.1 L454.9 383.7 L455.5 385.3 L456.2 386.8 L456.8 388.4 L457.5 389.9 L458.1 391.5 L458.7 393.1 L459.3 394.6 L460 396.2 L460.6 397.8 L461.2 399.4 L461.8 400.9 L462.4 402.5 L462.9 404.1 L463.5 405.7 L464.1 407.3 L464.7 408.9 L465.2 410.5 L465.8 412 L466.3 413.6 L466.8 415.2 L467.4 416.8 L467.9 418.4 L468.4 420 L469 421.6 L469.5 423.3 L470 424.9 L470.5 426.5 L471 428.1 L471.5 429.7 L472 431.3 L472.5 432.9 L473 434.5 L473.5 436.1 L474 437.8 L474.4 439.4 L474.9 441 L475.4 442.6 L475.9 444.2 L476.4 445.8 L476.8 447.5 L477.3 449.1 L477.8 450.7 L478.3 452.3 L478.8 453.9 L479.2 455.5 L479.7 457.2 L480.2 458.8 L480.7 460.4 L481.2 462 L481.7 463.6 L482.1 465.2 L482.6 466.9 L483.1 468.5 L483.6 470.1 L484.1 471.7 L484.6 473.3 L485.1 474.9 L485.5 476.5 L486 478.2 L486.5 479.8 L487 481.4 L487.5 483 L488 484.6 L488.5 486.2 L489 487.8 L489.5 489.5 L490 491.1 L490.5 492.7 L491 494.3 L491.4 495.9 L491.9 497.5 L492.4 499.1 L492.9 500.7 L493.4 502.4 L493.9 504 L494.4 505.6 L494.9 507.2 L495.4 508.8 L495.9 510.4 L496.4 512 L496.8 513.6 L497.3 515.3 L497.8 516.9 L498.3 518.5 L498.8 520.1 L499.3 521.7 L499.8 523.3 L500.3 524.9 L500.7 526.6 L501.2 528.2 L501.7 529.8 L502.2 531.4 L502.7 533 L503.2 534.6 L503.6 536.3 L504.1 537.9 L504.6 539.5 L505.1 541.1 L505.6 542.7 L506 544.3 L506.5 546 L507 547.6 L507.4 549.2 L507.9 550.8 L508.4 552.4 L508.9 554 L509.3 555.7 L509.8 557.3 L510.3 558.9 L510.7 560.5 L511.2 562.1 L511.7 563.8 L512.1 565.4 L512.6 567 L513 568.6 L513.5 570.3 L514 571.9 L514.4 573.5 L514.9 575.1 L515.3 576.7 L515.8 578.4 L516.2 580 L516.7 581.6 L517.1 583.2 L517.6 584.9 L518 586.5 L518.5 588.1 L518.9 589.7 L519.4 591.4 L519.8 593 L520.2 594.6 L520.7 596.2 L521.1 597.9 L521.6 599.5 L522 601.1 L522.4 602.8 L522.9 604.4 L523.3 606 L523.7 607.6 L524.1 609.3 L524.6 610.9 L525 612.5 L525.4 614.2 L525.8 615.8 L526.3 617.4 L526.7 619.1 L527.1 620.7 L527.5 622.3 L527.9 624 L528.3 625.6 L528.7 627.2 L529.2 628.9 L529.6 630.5 L530 632.1 L530.4 633.8 L530.8 635.4 L531.2 637 L531.6 638.7 L532 640.3 L532.4 641.9 L532.8 643.6 L533.2 645.2 L533.5 646.8 L533.9 648.5 L534.3 650.1 L534.7 651.8 L535.1 653.4 L535.5 655 L535.9 656.7 L536.2 658.3 L536.6 660 L537 661.6 L537.4 663.2 L537.7 664.9 L538.1 666.5 L538.5 668.2M150.9 618.5 L153.7 609.7 L156.4 600.6 L159.2 591.1 L161.9 581.4 L164.7 571.3 L167.4 561 L170.2 550.4 L172.9 539.4 L175.6 528.2 L178.4 516.7 L181.1 504.8 L183.9 492.7 L186.6 480.2 L189.4 467.5 L192.1 454.5 L194.9 441.1 L197.6 427.5 L200.4 413.6 L203.1 399.3 L205.9 384.8 L208.6 370 L211.4 354.8 L214.1 339.4 L216.9 323.7 L219.6 307.6 L222.4 291.3 L225.1 274.7 L227.9 257.7 L230.6 240.5 L233.4 223 L236.1 205.1 L238.9 187 L241.6 168.6 L244.4 149.9 L247.1 130.8 L249.9 111.5 L252.6 91.9 L255.4 71.9 L258.1 51.7M172.1 622.6 L175.6 614 L179.1 605.2 L182.6 596.1 L186 586.6 L189.5 576.9 L193 566.9 L196.5 556.6 L200 546 L203.4 535.2 L206.9 524 L210.4 512.5 L213.9 500.8 L217.4 488.8 L220.8 476.4 L224.3 463.8 L227.8 450.9 L231.3 437.7 L234.8 424.2 L238.2 410.4 L241.7 396.4 L245.2 382 L248.7 367.4 L252.2 352.4 L255.6 337.2 L259.1 321.7 L262.6 305.9 L266.1 289.8 L269.6 273.4 L273 256.7 L276.5 239.8 L280 222.5 L283.5 205 L287 187.1 L290.4 169 L293.9 150.6 L297.4 131.9 L300.9 112.9 L304.4 93.6 L307.8 74M192.9 630.3 L197.1 622.3 L201.3 614 L205.5 605.4 L209.7 596.6 L213.9 587.5 L218.1 578.1 L222.3 568.4 L226.5 558.5 L230.7 548.3 L234.9 537.9 L239.1 527.1 L243.3 516.1 L247.5 504.8 L251.7 493.3 L255.9 481.5 L260.1 469.4 L264.3 457 L268.5 444.4 L272.7 431.5 L276.8 418.3 L281 404.8 L285.2 391.1 L289.4 377.1 L293.6 362.8 L297.8 348.3 L302 333.5 L306.2 318.4 L310.4 303.1 L314.6 287.4 L318.8 271.5 L323 255.4 L327.2 238.9 L331.4 222.2 L335.6 205.2 L339.8 188 L344 170.4 L348.2 152.6 L352.4 134.6 L356.6 116.2M212.4 641.4 L217.3 634.2 L222.1 626.7 L227 618.9 L231.9 611 L236.7 602.8 L241.6 594.3 L246.5 585.6 L251.3 576.6 L256.2 567.4 L261.1 558 L265.9 548.3 L270.8 538.4 L275.7 528.2 L280.5 517.8 L285.4 507.1 L290.3 496.2 L295.2 485 L300 473.6 L304.9 461.9 L309.8 450 L314.6 437.9 L319.5 425.5 L324.4 412.9 L329.2 400 L334.1 386.9 L339 373.5 L343.8 359.9 L348.7 346 L353.6 331.9 L358.4 317.6 L363.3 303 L368.2 288.1 L373 273.1 L377.9 257.7 L382.8 242.1 L387.7 226.3 L392.5 210.3 L397.4 193.9 L402.3 177.4M229.3 655 L234.7 648.7 L240.2 642.2 L245.6 635.5 L251.1 628.5 L256.5 621.4 L262 614.1 L267.4 606.5 L272.9 598.7 L278.3 590.7 L283.8 582.5 L289.2 574.1 L294.7 565.5 L300.1 556.6 L305.6 547.6 L311 538.3 L316.5 528.8 L321.9 519.1 L327.4 509.2 L332.8 499.1 L338.3 488.8 L343.7 478.2 L349.2 467.5 L354.6 456.5 L360.1 445.3 L365.5 433.9 L371 422.3 L376.4 410.5 L381.9 398.4 L387.3 386.2 L392.8 373.7 L398.2 361.1 L403.7 348.2 L409.1 335.1 L414.6 321.7 L420 308.2 L425.5 294.5 L430.9 280.5 L436.4 266.3 L441.8 252M244 669.9 L250 664.6 L255.9 659.2 L261.9 653.6 L267.9 647.9 L273.8 641.9 L279.8 635.8 L285.7 629.5 L291.7 623 L297.6 616.4 L303.6 609.5 L309.6 602.5 L315.5 595.3 L321.5 587.9 L327.4 580.4 L333.4 572.7 L339.4 564.8 L345.3 556.7 L351.3 548.4 L357.2 540 L363.2 531.4 L369.2 522.6 L375.1 513.6 L381.1 504.5 L387 495.2 L393 485.7 L399 476 L404.9 466.1 L410.9 456.1 L416.8 445.9 L422.8 435.5 L428.8 424.9 L434.7 414.2 L440.7 403.3 L446.6 392.2 L452.6 380.9 L458.5 369.5 L464.5 357.8 L470.5 346 L476.4 334M255.9 685.6 L262.3 681.5 L268.7 677.2 L275.1 672.8 L281.4 668.2 L287.8 663.5 L294.2 658.7 L300.5 653.7 L306.9 648.6 L313.3 643.3 L319.6 637.9 L326 632.4 L332.4 626.7 L338.8 620.9 L345.1 615 L351.5 608.9 L357.9 602.6 L364.2 596.2 L370.6 589.7 L377 583.1 L383.4 576.3 L389.7 569.3 L396.1 562.3 L402.5 555 L408.8 547.7 L415.2 540.2 L421.6 532.5 L427.9 524.8 L434.3 516.8 L440.7 508.8 L447.1 500.6 L453.4 492.2 L459.8 483.8 L466.2 475.1 L472.5 466.4 L478.9 457.5 L485.3 448.4 L491.7 439.3 L498 429.9 L504.4 420.5M266 700.6 L272.7 697.6 L279.4 694.4 L286.2 691.1 L292.9 687.7 L299.6 684.2 L306.3 680.6 L313 676.9 L319.7 673.1 L326.5 669.2 L333.2 665.2 L339.9 661 L346.6 656.8 L353.3 652.5 L360.1 648 L366.8 643.5 L373.5 638.8 L380.2 634.1 L386.9 629.2 L393.6 624.3 L400.4 619.2 L407.1 614 L413.8 608.8 L420.5 603.4 L427.2 597.9 L433.9 592.3 L440.7 586.6 L447.4 580.8 L454.1 574.9 L460.8 568.9 L467.5 562.8 L474.3 556.6 L481 550.3 L487.7 543.9 L494.4 537.4 L501.1 530.7 L507.8 524 L514.6 517.2 L521.3 510.2 L528 503.2M275 715 L282.1 712.9 L289.1 710.8 L296.1 708.6 L303.1 706.3 L310.2 703.9 L317.2 701.5 L324.2 699 L331.2 696.4 L338.3 693.8 L345.3 691.1 L352.3 688.3 L359.4 685.5 L366.4 682.5 L373.4 679.6 L380.4 676.5 L387.5 673.4 L394.5 670.2 L401.5 666.9 L408.6 663.6 L415.6 660.2 L422.6 656.7 L429.6 653.1 L436.7 649.5 L443.7 645.8 L450.7 642.1 L457.8 638.2 L464.8 634.3 L471.8 630.3 L478.8 626.3 L485.9 622.2 L492.9 618 L499.9 613.8 L507 609.4 L514 605 L521 600.6 L528 596 L535.1 591.4 L542.1 586.8 L549.1 582" stroke="#000080" stroke-width="1.1" fill="none" stroke-linejoin="round"/>
<path d="M131.2 616.9 L133.3 607.9 L135.4 598.7 L137.5 589.1 L139.5 579.3 L141.6 569.1 L143.7 558.6 L145.7 547.8 L147.8 536.8 L149.9 525.4 L151.9 513.7 L154 501.7 L156.1 489.4 L158.2 476.8 L160.2 463.9 L162.3 450.7 L164.4 437.2 L166.4 423.4 L168.5 409.3 L170.6 394.8 L172.7 380.1 L174.7 365.1 L176.8 349.8 L178.9 334.1 L180.9 318.2 L183 302 L185.1 285.4 L187.1 268.6 L189.2 251.4 L191.3 234 L193.4 216.2 L195.4 198.1 L197.5 179.8 L199.6 161.1 L201.6 142.1 L203.7 122.9 L205.8 103.3 L207.9 83.4 L209.9 63.2 L212 42.7M212 42.7 L213.9 42.8 L215.9 42.8 L217.8 42.9 L219.7 43.1 L221.6 43.2 L223.5 43.4 L225.3 43.6 L227.2 43.9 L229.1 44.1 L230.9 44.4 L232.8 44.7 L234.6 45.1 L236.4 45.5 L238.3 45.9 L240.1 46.3 L241.9 46.7 L243.7 47.2 L245.5 47.7 L247.3 48.2 L249.1 48.8 L250.8 49.3 L252.6 49.9 L254.4 50.5 L256.2 51.1 L258 51.7 L259.8 52.3 L261.5 52.9 L263.3 53.5 L265.1 54.2 L266.9 54.8 L268.7 55.5 L270.5 56.1 L272.3 56.8 L274.1 57.5 L275.8 58.2 L277.6 58.9 L279.4 59.6 L281.1 60.4 L282.9 61.1 L284.6 61.9 L286.4 62.7 L288.1 63.5 L289.9 64.3 L291.6 65.1 L293.3 65.9 L295 66.8 L296.7 67.7 L298.3 68.5 L300 69.4 L301.7 70.4 L303.3 71.3 L304.9 72.3 L306.5 73.2 L308.1 74.2 L309.7 75.2 L311.3 76.2 L312.9 77.3 L314.4 78.3 L316 79.4 L317.5 80.5 L319 81.6 L320.5 82.7 L322 83.8 L323.5 84.9 L325 86.1 L326.5 87.3 L327.9 88.4 L329.4 89.6 L330.8 90.8 L332.2 92.1 L333.6 93.3 L335.1 94.5 L336.4 95.8 L337.8 97 L339.2 98.3 L340.6 99.6 L341.9 100.9 L343.3 102.2 L344.6 103.5 L346 104.9 L347.3 106.2 L348.6 107.6 L349.9 108.9 L351.2 110.3 L352.5 111.7 L353.8 113.1 L355 114.5 L356.3 115.9 L357.6 117.3 L358.8 118.7 L360 120.1 L361.3 121.6 L362.5 123 L363.7 124.5 L364.9 125.9 L366.1 127.4 L367.3 128.9 L368.5 130.3 L369.7 131.8 L370.9 133.3 L372.1 134.8 L373.2 136.3 L374.4 137.8 L375.6 139.3 L376.7 140.8 L377.8 142.4 L379 143.9 L380.1 145.4 L381.2 146.9 L382.4 148.5 L383.5 150 L384.6 151.5 L385.7 153.1 L386.8 154.6 L387.9 156.2 L389 157.7 L390.1 159.3 L391.2 160.8 L392.2 162.4 L393.3 163.9 L394.4 165.5 L395.4 167.1 L396.5 168.6 L397.6 170.2 L398.6 171.8 L399.6 173.4 L400.7 174.9 L401.7 176.5 L402.7 178.1 L403.7 179.7 L404.8 181.3 L405.8 182.9 L406.8 184.5 L407.8 186.1 L408.7 187.7 L409.7 189.3 L410.7 190.9 L411.7 192.5 L412.6 194.2 L413.6 195.8 L414.5 197.4 L415.5 199 L416.4 200.7 L417.4 202.3 L418.3 203.9 L419.2 205.6 L420.1 207.2 L421 208.9 L421.9 210.5 L422.8 212.2 L423.7 213.9 L424.6 215.5 L425.5 217.2 L426.3 218.9 L427.2 220.5 L428.1 222.2 L428.9 223.9 L429.8 225.6 L430.6 227.3 L431.4 229 L432.2 230.7 L433 232.4 L433.9 234.1 L434.6 235.8 L435.4 237.5 L436.2 239.2 L437 240.9 L437.8 242.6 L438.5 244.4 L439.3 246.1 L440 247.8 L440.8 249.6 L441.5 251.3 L442.3 253 L443 254.8 L443.7 256.5 L444.5 258.3 L445.2 260 L445.9 261.8 L446.6 263.5 L447.4 265.3 L448.1 267 L448.8 268.7 L449.5 270.5 L450.2 272.2 L451 274 L451.7 275.7 L452.4 277.5 L453.2 279.2 L453.9 281 L454.6 282.7 L455.4 284.5 L456.1 286.2 L456.8 288 L457.6 289.7 L458.3 291.4 L459.1 293.2 L459.8 294.9 L460.6 296.7 L461.3 298.4 L462.1 300.1 L462.8 301.9 L463.6 303.6 L464.3 305.3 L465.1 307.1 L465.8 308.8 L466.6 310.6 L467.3 312.3 L468.1 314 L468.8 315.8 L469.5 317.5 L470.3 319.2 L471 321 L471.7 322.7 L472.5 324.5 L473.2 326.2 L473.9 328 L474.7 329.7 L475.4 331.4 L476.1 333.2 L476.8 334.9 L477.5 336.7 L478.2 338.4 L478.9 340.2 L479.6 342 L480.3 343.7 L481 345.5 L481.6 347.2 L482.3 349 L483 350.8 L483.6 352.5 L484.3 354.3 L484.9 356.1 L485.5 357.9 L486.2 359.6 L486.8 361.4 L487.4 363.2 L488 365 L488.6 366.8 L489.2 368.6 L489.8 370.4 L490.3 372.2 L490.9 374 L491.5 375.8 L492 377.6 L492.6 379.4 L493.2 381.2 L493.7 383 L494.2 384.8 L494.8 386.6 L495.3 388.4 L495.8 390.2 L496.4 392 L496.9 393.8 L497.4 395.7 L497.9 397.5 L498.5 399.3 L499 401.1 L499.5 402.9 L500 404.7 L500.5 406.6 L501 408.4 L501.5 410.2 L502 412 L502.5 413.8 L503 415.7 L503.6 417.5 L504.1 419.3 L504.6 421.1 L505.1 422.9 L505.6 424.8 L506.1 426.6 L506.6 428.4 L507.1 430.2 L507.7 432 L508.2 433.9 L508.7 435.7 L509.2 437.5 L509.7 439.3 L510.2 441.1 L510.8 442.9 L511.3 444.8 L511.8 446.6 L512.3 448.4 L512.8 450.2 L513.4 452 L513.9 453.8 L514.4 455.7 L514.9 457.5 L515.4 459.3 L516 461.1 L516.5 462.9 L517 464.7 L517.5 466.5 L518.1 468.4 L518.6 470.2 L519.1 472 L519.6 473.8 L520.1 475.6 L520.7 477.4 L521.2 479.2 L521.7 481.1 L522.2 482.9 L522.7 484.7 L523.3 486.5 L523.8 488.3 L524.3 490.1 L524.8 492 L525.3 493.8 L525.8 495.6 L526.4 497.4 L526.9 499.2 L527.4 501 L527.9 502.9 L528.4 504.7 L528.9 506.5 L529.4 508.3 L530 510.1 L530.5 512 L531 513.8 L531.5 515.6 L532 517.4 L532.5 519.2 L533 521.1 L533.5 522.9 L534 524.7 L534.5 526.5 L535 528.3 L535.5 530.2 L536 532 L536.5 533.8 L537 535.6 L537.5 537.5 L538 539.3 L538.5 541.1 L538.9 542.9 L539.4 544.7 L539.9 546.6 L540.4 548.4 L540.9 550.2 L541.4 552 L541.9 553.9 L542.3 555.7 L542.8 557.5 L543.3 559.4 L543.8 561.2 L544.3 563 L544.7 564.8 L545.2 566.7 L545.7 568.5 L546.2 570.3 L546.6 572.2 L547.1 574 L547.6 575.8 L548 577.6 L548.5 579.5 L549 581.3 L549.4 583.1 L549.9 585 L550.3 586.8 L550.8 588.6 L551.2 590.5 L551.7 592.3 L552.1 594.1 L552.6 596 L553 597.8 L553.5 599.6 L553.9 601.5 L554.4 603.3 L554.8 605.2 L555.3 607 L555.7 608.8 L556.1 610.7 L556.6 612.5 L557 614.3 L557.4 616.2 L557.9 618 L558.3 619.9 L558.7 621.7 L559.2 623.5 L559.6 625.4 L560 627.2 L560.4 629.1 L560.8 630.9 L561.3 632.8 L561.7 634.6 L562.1 636.4 L562.5 638.3 L562.9 640.1 L563.3 642 L563.7 643.8 L564.1 645.7 L564.5 647.5 L564.9 649.4 L565.3 651.2 L565.7 653.1 L566.1 654.9 L566.5 656.8 L566.9 658.6M566.9 658.6 L559.6 661.1 L552.3 663.6 L545 666 L537.7 668.4 L530.4 670.8 L523.2 673.1 L515.9 675.4 L508.6 677.6 L501.3 679.8 L494 682 L486.7 684.2 L479.4 686.3 L472.1 688.3 L464.8 690.3 L457.6 692.3 L450.3 694.3 L443 696.2 L435.7 698.1 L428.4 699.9 L421.1 701.7 L413.8 703.5 L406.5 705.2 L399.2 706.9 L391.9 708.6 L384.7 710.2 L377.4 711.8 L370.1 713.3 L362.8 714.8 L355.5 716.3 L348.2 717.7 L340.9 719.1 L333.6 720.5 L326.3 721.8 L319 723.1 L311.8 724.3 L304.5 725.5 L297.2 726.7 L289.9 727.8 L282.6 728.9M282.6 728.9 L282.4 728.6 L282.3 728.2 L282.1 727.9 L281.9 727.6 L281.8 727.2 L281.6 726.9 L281.4 726.6 L281.2 726.2 L281.1 725.9 L280.9 725.6 L280.7 725.2 L280.6 724.9 L280.4 724.6 L280.2 724.2 L280 723.9 L279.8 723.5 L279.7 723.2 L279.5 722.9 L279.3 722.5 L279.1 722.2 L278.9 721.9 L278.8 721.5 L278.6 721.2 L278.4 720.9 L278.2 720.5 L278 720.2 L277.8 719.9 L277.6 719.5 L277.5 719.2 L277.3 718.9 L277.1 718.5 L276.9 718.2 L276.7 717.9 L276.5 717.5 L276.3 717.2 L276.1 716.9 L275.9 716.5 L275.7 716.2 L275.5 715.9 L275.3 715.5 L275.1 715.2 L274.9 714.9 L274.7 714.5 L274.6 714.2 L274.4 713.9 L274.2 713.5 L274 713.2 L273.8 712.9 L273.6 712.5 L273.4 712.2 L273.1 711.9 L272.9 711.5 L272.7 711.2 L272.5 710.9 L272.3 710.5 L272.1 710.2 L271.9 709.9 L271.7 709.5 L271.5 709.2 L271.3 708.9 L271.1 708.5 L270.9 708.2 L270.7 707.9 L270.5 707.5 L270.3 707.2 L270.1 706.9 L269.8 706.6 L269.6 706.2 L269.4 705.9 L269.2 705.6 L269 705.2 L268.8 704.9 L268.6 704.6 L268.4 704.2 L268.1 703.9 L267.9 703.6 L267.7 703.2 L267.5 702.9 L267.3 702.6 L267.1 702.2 L266.8 701.9 L266.6 701.6 L266.4 701.3 L266.2 700.9 L266 700.6 L265.8 700.3 L265.5 699.9 L265.3 699.6 L265.1 699.3 L264.9 698.9 L264.7 698.6 L264.4 698.3 L264.2 697.9 L264 697.6 L263.8 697.3 L263.5 697 L263.3 696.6 L263.1 696.3 L262.9 696 L262.7 695.6 L262.4 695.3 L262.2 695 L262 694.6 L261.8 694.3 L261.5 694 L261.3 693.7 L261.1 693.3 L260.9 693 L260.7 692.7 L260.4 692.3 L260.2 692 L260 691.7 L259.8 691.3 L259.5 691 L259.3 690.7 L259.1 690.4 L258.9 690 L258.7 689.7 L258.4 689.4 L258.2 689 L258 688.7 L257.8 688.4 L257.6 688 L257.3 687.7 L257.1 687.4 L256.9 687.1 L256.7 686.7 L256.5 686.4 L256.2 686.1 L256 685.7 L255.8 685.4 L255.6 685.1 L255.4 684.7 L255.2 684.4 L254.9 684.1 L254.7 683.7 L254.5 683.4 L254.3 683.1 L254.1 682.7 L253.9 682.4 L253.6 682.1 L253.4 681.8 L253.2 681.4 L253 681.1 L252.7 680.8 L252.5 680.4 L252.3 680.1 L252.1 679.8 L251.8 679.4 L251.6 679.1 L251.4 678.8 L251.2 678.5 L250.9 678.1 L250.7 677.8 L250.4 677.5 L250.2 677.1 L250 676.8 L249.7 676.5 L249.5 676.2 L249.2 675.8 L249 675.5 L248.7 675.2 L248.4 674.9 L248.2 674.5 L247.9 674.2 L247.6 673.9 L247.4 673.6 L247.1 673.3 L246.8 672.9 L246.5 672.6 L246.2 672.3 L245.9 672 L245.7 671.6 L245.4 671.3 L245.1 671 L244.8 670.7 L244.5 670.4 L244.2 670.1 L243.9 669.7 L243.6 669.4 L243.3 669.1 L243 668.8 L242.6 668.5 L242.3 668.1 L242 667.8 L241.7 667.5 L241.4 667.2 L241.1 666.9 L240.8 666.6 L240.4 666.2 L240.1 665.9 L239.8 665.6 L239.5 665.3 L239.2 665 L238.9 664.7 L238.5 664.4 L238.2 664 L237.9 663.7 L237.6 663.4 L237.3 663.1 L236.9 662.8 L236.6 662.5 L236.3 662.1 L236 661.8 L235.7 661.5 L235.3 661.2 L235 660.9 L234.7 660.6 L234.4 660.2 L234.1 659.9 L233.8 659.6 L233.5 659.3 L233.2 659 L232.9 658.6 L232.5 658.3 L232.2 658 L231.9 657.7 L231.6 657.4 L231.3 657.1 L231 656.7 L230.7 656.4 L230.4 656.1 L230.1 655.8 L229.8 655.5 L229.5 655.2 L229.1 654.8 L228.8 654.5 L228.5 654.2 L228.2 653.9 L227.9 653.6 L227.5 653.3 L227.2 652.9 L226.9 652.6 L226.5 652.3 L226.2 652 L225.9 651.7 L225.5 651.4 L225.2 651.1 L224.8 650.8 L224.5 650.5 L224.1 650.2 L223.8 649.9 L223.4 649.5 L223 649.2 L222.7 648.9 L222.3 648.6 L221.9 648.3 L221.5 648 L221.2 647.7 L220.8 647.4 L220.4 647.1 L220 646.8 L219.6 646.5 L219.2 646.2 L218.8 645.9 L218.4 645.6 L218 645.3 L217.6 645 L217.2 644.7 L216.8 644.4 L216.4 644.2 L216 643.9 L215.6 643.6 L215.2 643.3 L214.7 643 L214.3 642.7 L213.9 642.4 L213.5 642.1 L213 641.8 L212.6 641.5 L212.1 641.2 L211.7 641 L211.3 640.7 L210.8 640.4 L210.4 640.1 L209.9 639.8 L209.5 639.5 L209 639.2 L208.6 638.9 L208.1 638.7 L207.7 638.4 L207.2 638.1 L206.7 637.8 L206.3 637.5 L205.8 637.3 L205.3 637 L204.9 636.7 L204.4 636.4 L203.9 636.1 L203.4 635.9 L202.9 635.6 L202.5 635.3 L202 635 L201.5 634.7 L201 634.5 L200.5 634.2 L200 633.9 L199.5 633.7 L199 633.4 L198.5 633.1 L198 632.8 L197.5 632.6 L197 632.3 L196.5 632 L196 631.8 L195.4 631.5 L194.9 631.2 L194.4 631 L193.9 630.7 L193.3 630.5 L192.8 630.2 L192.2 630 L191.7 629.7 L191.2 629.4 L190.6 629.2 L190.1 628.9 L189.5 628.7 L188.9 628.5 L188.4 628.2 L187.8 628 L187.2 627.7 L186.7 627.5 L186.1 627.3 L185.5 627 L184.9 626.8 L184.3 626.6 L183.7 626.3 L183.1 626.1 L182.5 625.9 L181.9 625.7 L181.3 625.4 L180.7 625.2 L180.1 625 L179.4 624.8 L178.8 624.6 L178.2 624.4 L177.5 624.2 L176.9 624 L176.2 623.8 L175.6 623.6 L174.9 623.4 L174.3 623.2 L173.6 623 L172.9 622.8 L172.2 622.6 L171.6 622.5 L170.9 622.3 L170.2 622.1 L169.5 621.9 L168.8 621.8 L168.1 621.6 L167.4 621.4 L166.6 621.3 L165.9 621.1 L165.2 621 L164.4 620.8 L163.7 620.7 L163 620.5 L162.2 620.4 L161.5 620.3 L160.7 620.1 L160 620 L159.2 619.8 L158.5 619.7 L157.7 619.6 L157 619.5 L156.2 619.3 L155.4 619.2 L154.7 619.1 L153.9 619 L153.1 618.9 L152.4 618.8 L151.6 618.6 L150.9 618.5 L150.1 618.4 L149.3 618.3 L148.6 618.2 L147.8 618.1 L147.1 618 L146.3 617.9 L145.5 617.8 L144.8 617.7 L144 617.6 L143.2 617.6 L142.4 617.5 L141.7 617.4 L140.9 617.3 L140.1 617.3 L139.3 617.2 L138.5 617.2 L137.7 617.1 L136.9 617.1 L136.1 617 L135.3 617 L134.5 617 L133.7 616.9 L132.9 616.9 L132.1 616.9 L131.2 616.9" stroke="#000080" stroke-width="2.1" fill="none" stroke-linejoin="round" stroke-linecap="round"/>
<g fill="#fff"><rect x="176.7" y="32.4" width="28" height="22.6"/><rect x="173.7" y="108.3" width="28" height="22.6"/><rect x="167.2" y="183.1" width="28" height="22.6"/><rect x="159.2" y="251.4" width="28" height="22.6"/><rect x="148.3" y="317.2" width="28" height="22.6"/><rect x="141.7" y="375.3" width="28" height="22.6"/><rect x="135.3" y="430.2" width="28" height="22.6"/><rect x="127.4" y="480.1" width="28" height="22.6"/><rect x="119" y="528.1" width="28" height="22.6"/><rect x="110.5" y="568.4" width="28" height="22.6"/><rect x="102.4" y="606.3" width="28" height="22.6"/><rect x="205.2" y="24.4" width="25.7" height="22.6"/><rect x="257.2" y="31.4" width="25.7" height="22.6"/><rect x="316" y="60.7" width="25.7" height="22.6"/><rect x="365.7" y="104.7" width="25.7" height="22.6"/><rect x="408.6" y="166.5" width="25.7" height="22.6"/><rect x="448.9" y="241.5" width="25.7" height="22.6"/><rect x="511.3" y="408.3" width="25.7" height="22.6"/><rect x="535.3" y="490.6" width="25.7" height="22.6"/><rect x="556.1" y="570.6" width="25.7" height="22.6"/><rect x="568.3" y="646.5" width="25.7" height="22.6"/><rect x="255.2" y="61.5" width="10.2" height="22.6"/><rect x="209.1" y="124.5" width="10.2" height="22.6"/><rect x="198.1" y="234.4" width="19.1" height="22.6"/><rect x="182.5" y="345.9" width="19.1" height="22.6"/><rect x="172.5" y="421.2" width="19.1" height="22.6"/><rect x="159.4" y="486.1" width="25.1" height="22.6"/><rect x="149.5" y="535.3" width="25.1" height="22.6"/><rect x="348.4" y="259.1" width="16.2" height="22.6"/><rect x="325.6" y="338.5" width="46.4" height="22.6"/><rect x="299" y="401.3" width="16.2" height="22.6"/><rect x="279.2" y="458.3" width="16.2" height="22.6"/><rect x="261.1" y="504.2" width="16.2" height="22.6"/><rect x="241.9" y="543.1" width="16.2" height="22.6"/><rect x="224.3" y="575.1" width="16.2" height="22.6"/></g>
<g font-size="10.67"><text x="178.8" y="46.9" fill="#000">3400</text><text x="175.8" y="122.8" fill="#000">3205</text><text x="169.3" y="197.6" fill="#000">3010</text><text x="161.3" y="265.9" fill="#000">2815</text><text x="150.4" y="331.7" fill="#000">2620</text><text x="143.8" y="389.8" fill="#000">2425</text><text x="137.4" y="444.7" fill="#000">2230</text><text x="129.5" y="494.6" fill="#000">2035</text><text x="121.1" y="542.6" fill="#000">1840</text><text x="112.6" y="582.9" fill="#000">1645</text><text x="104.5" y="620.8" fill="#000">1450</text><text x="207.3" y="38.9" fill="#000">58%</text><text x="259.3" y="45.9" fill="#000">64%</text><text x="318.1" y="75.2" fill="#000">68%</text><text x="367.8" y="119.2" fill="#000">71%</text><text x="410.7" y="181" fill="#000">72%</text><text x="451" y="256" fill="#000">71%</text><text x="513.4" y="422.8" fill="#000">63%</text><text x="537.4" y="505.1" fill="#000">55%</text><text x="558.2" y="585.1" fill="#000">43%</text><text x="570.4" y="661" fill="#000">26%</text><text x="257.3" y="76" fill="#ff0000">4</text><text x="211.2" y="139" fill="#ff0000">3</text><text x="200.2" y="248.9" fill="#ff0000">2,2</text><text x="184.6" y="360.4" fill="#ff0000">1,5</text><text x="174.6" y="435.7" fill="#ff0000">1,1</text><text x="161.5" y="500.6" fill="#ff0000">0,75</text><text x="151.6" y="549.8" fill="#ff0000">0,55</text><text x="350.5" y="273.6" fill="#008000">92</text><text x="327.7" y="353" fill="#008000">90 dB(A)</text><text x="301.1" y="415.8" fill="#008000">88</text><text x="281.3" y="472.8" fill="#008000">86</text><text x="263.2" y="518.7" fill="#008000">84</text><text x="244" y="557.6" fill="#008000">82</text><text x="226.4" y="589.6" fill="#008000">80</text></g>
<rect x="574.5" y="666" width="18" height="18" fill="#fff"/>
<text x="577" y="678.3" font-size="10.67" fill="#000">η<tspan font-size="7.6" dy="1.4">st</tspan></text>
<text x="584.7" y="763" font-size="10.67" letter-spacing="0.17" fill="#000">V [m<tspan font-size="6.9" dy="-4.6">3</tspan><tspan dy="4.6">/h]</tspan></text>
<clipPath id="cp"><rect x="40" y="27" width="25" height="40"/></clipPath>
<g clip-path="url(#cp)"><text transform="translate(55.7,59.6) rotate(-90)" font-size="10.67" letter-spacing="0.18" fill="#000">Pst [Pa]</text></g>
<rect x="564.4" y="23.6" width="73.1" height="37.8" fill="#fff" stroke="#000" stroke-width="1"/>
<text x="601.4" y="49.6" font-size="19.4" font-weight="bold" fill="#000080" text-anchor="middle">VS-400</text>
<path d="M71 495.55H320" stroke="#ff0000" stroke-width="4.1" fill="none"/>
<path d="M321 495V744.5" stroke="#ff0000" stroke-width="4.1" fill="none"/>
<path d="M468 357.8H450L330.7 486.6" stroke="#0000ff" stroke-width="4" fill="none" stroke-linejoin="miter"/>
<path d="M338.6 452.2L330.7 486.6L365.6 475.6" stroke="#0000ff" stroke-width="4" fill="none" stroke-linejoin="miter" stroke-miterlimit="10"/>
<circle cx="319.7" cy="494.9" r="11" fill="#ff0000"/>
<rect x="468.9" y="305.5" width="251.1" height="104.5" fill="#fff" stroke="#0000ff" stroke-width="4"/>
<text x="474.8" y="324.2" font-size="16" fill="#000">Tervezett munkapont, 400as</text>
<text x="474.8" y="343.3" font-size="16" fill="#000">járókerék:</text>
<text x="474.8" y="362.4" font-size="16" fill="#000">5250m3/h - 885Pa</text>
<text x="474.8" y="381.4" font-size="16" fill="#000">2376 1/p fordulat</text>
<text x="474.8" y="400.5" font-size="16" fill="#000">82Hz</text>
</svg></body></html>
